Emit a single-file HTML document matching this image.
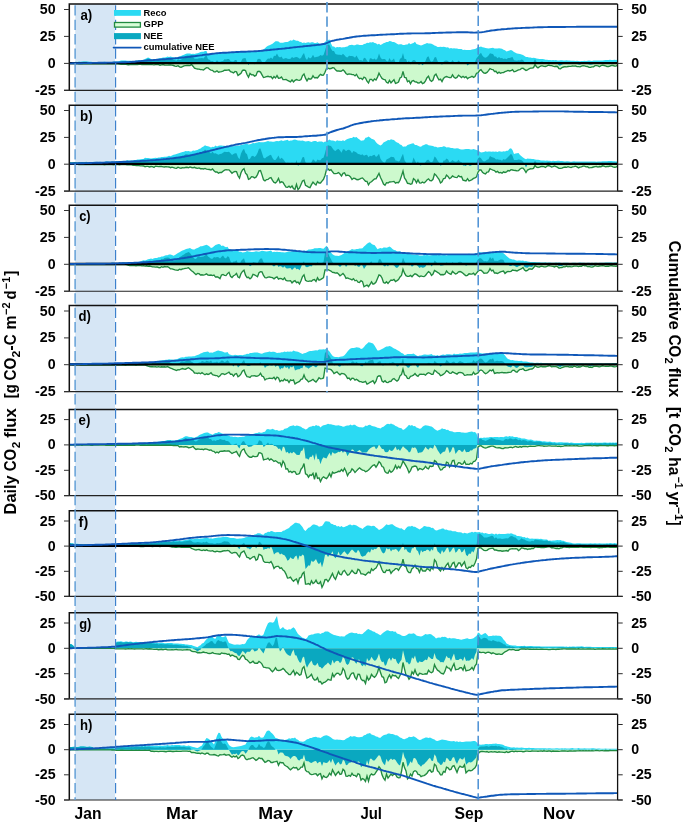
<!DOCTYPE html>
<html lang="en"><head><meta charset="utf-8"><title>Daily and cumulative CO2 flux</title>
<style>html,body{margin:0;padding:0;background:#fff}svg{display:block}</style></head>
<body>
<svg width="685" height="824" viewBox="0 0 685 824" font-family="'Liberation Sans', Arial, sans-serif" font-weight="bold">
<rect width="685" height="824" fill="#fff"/>
<rect x="75.2" y="4" width="39.8" height="796" fill="#d6e6f5"/>
<g>
<clipPath id="cpa"><rect x="69.3" y="4.0" width="548.3000000000001" height="86.4"/></clipPath>
<g clip-path="url(#cpa)">
<polygon points="70,63.4 70,62.1 71.5,62.1 73,62 74.5,61.9 76,61.7 77.5,62.1 79,61.6 80.5,61.7 82,61.6 83.5,61.6 85,61.4 86.5,61.4 88,61.6 89.5,61.8 91,61.7 92.5,62 94,61.9 95.5,61.9 97,61.9 98.5,61.9 100,62 101.5,62.1 103,61.9 104.5,61.8 106,62 107.5,62 109,61.9 110.5,61.9 112,61.9 113.5,61.7 115,61.6 116.5,61.5 118,61.5 119.5,61.1 121,60.5 122.5,60.4 124,60.5 125.5,60.5 127,60.7 128.5,60.8 130,60.8 131.5,60.7 133,60.9 134.5,60.9 136,60.6 137.5,60.4 139,60.3 140.5,60.2 142,60 143.5,59.8 145,59 146.5,58.3 148,57.5 149.5,58.1 151,59.1 152.5,59.4 154,59.4 155.5,58.9 157,58.9 158.5,58.6 160,58.3 161.5,58.1 163,57.6 164.5,57.5 166,57.3 167.5,56.5 169,57 170.5,56.5 172,57 173.5,57.6 175,57.6 176.5,57.7 178,57.1 179.5,56.4 181,55.9 182.5,55.3 184,54.8 185.5,54.1 187,53.5 188.5,53.4 190,53.6 191.5,53.9 193,53.7 194.5,54.1 196,53.6 197.5,53.2 199,52.7 200.5,52.1 202,51.7 203.5,51.7 205,51.1 206.5,51.1 208,54.8 209.5,53.9 211,54.7 212.5,54 214,53.6 215.5,53.4 217,52.9 218.5,52.8 220,53.3 221.5,52.9 223,53.2 224.5,52.5 226,52.8 227.5,52.4 229,52.6 230.5,52.6 232,52.5 233.5,52.1 235,51.9 236.5,51.5 238,52.1 239.5,51.7 241,51.8 242.5,51.8 244,51.7 245.5,51 247,51.4 248.5,51.4 250,51.8 251.5,51.7 253,51.5 254.5,51.5 256,51.5 257.5,51.1 259,50.9 260.5,50.6 262,50.5 263.5,49.4 265,48.2 266.5,46.7 268,45.7 269.5,45.3 271,44.4 272.5,43.8 274,42.6 275.5,41.3 277,41.3 278.5,41.6 280,42.8 281.5,42.8 283,42.8 284.5,42.2 286,42.1 287.5,41.9 289,41.2 290.5,40.3 292,40.7 293.5,39.5 295,40.3 296.5,40.7 298,40.7 299.5,41.7 301,42 302.5,43.1 304,42.4 305.5,43.1 307,42.4 308.5,42.2 310,42.7 311.5,42.2 313,42.3 314.5,43 316,42.9 317.5,42.3 319,43.5 320.5,44.1 322,43.9 323.5,43.4 325,41.9 326.5,40.5 328,39.9 329.5,39.6 331,43.6 332.5,46.5 334,46.6 335.5,47.7 337,46.9 338.5,47.3 340,46.9 341.5,47.6 343,47.3 344.5,47.3 346,46.8 347.5,46.5 349,45.2 350.5,45.1 352,44.8 353.5,45.3 355,45.2 356.5,44.4 358,44.5 359.5,45.1 361,45.1 362.5,45 364,44 365.5,43.7 367,42.8 368.5,42.9 370,42.3 371.5,42.6 373,42 374.5,43.1 376,43.3 377.5,44.6 379,43.7 380.5,44.9 382,44.2 383.5,43.2 385,42.8 386.5,42 388,42 389.5,41.1 391,41.2 392.5,42 394,42 395.5,42.7 397,43.7 398.5,44.5 400,44.3 401.5,44.2 403,45.1 404.5,44.9 406,44.6 407.5,44.5 409,43 410.5,44.2 412,43.5 413.5,43 415,41.8 416.5,43.9 418,44.6 419.5,45.1 421,45.4 422.5,44.9 424,44.2 425.5,43.7 427,42.9 428.5,43.5 430,43.6 431.5,43.7 433,44.6 434.5,45.5 436,46.1 437.5,47.1 439,46.9 440.5,46.8 442,46.9 443.5,46.7 445,47 446.5,47.5 448,47.3 449.5,48.6 451,48.1 452.5,48.6 454,48.2 455.5,48.6 457,48.6 458.5,48.9 460,49 461.5,49.1 463,50 464.5,49.7 466,49.9 467.5,50.1 469,50.1 470.5,50 472,49.5 473.5,49.3 475,48.9 476.5,48.2 478,47 479.5,47.1 481,46.5 482.5,47.3 484,47.6 485.5,48 487,48.2 488.5,48.4 490,48.2 491.5,48 493,47.8 494.5,48.5 496,48.6 497.5,48.4 499,48.3 500.5,48.5 502,48.7 503.5,49.8 505,50.3 506.5,51.5 508,51 509.5,50.4 511,50.1 512.5,50.8 514,52 515.5,52.7 517,53.4 518.5,53.7 520,54.1 521.5,54.5 523,55.1 524.5,55.9 526,56.9 527.5,56.9 529,57.6 530.5,57.4 532,57.9 533.5,57.7 535,58.1 536.5,58.4 538,58.7 539.5,59.1 541,59.1 542.5,59.1 544,59.3 545.5,59.7 547,59.8 548.5,60 550,60 551.5,60.2 553,60 554.5,60.3 556,60 557.5,60.4 559,60.4 560.5,60.2 562,60.3 563.5,60.4 565,60.5 566.5,60.3 568,60.6 569.5,60.5 571,60.7 572.5,60.8 574,60.8 575.5,61 577,60.7 578.5,61.1 580,61.3 581.5,61.1 583,60.9 584.5,60.7 586,61.1 587.5,60.8 589,60.5 590.5,60.8 592,61 593.5,60.6 595,60.6 596.5,60.4 598,60.5 599.5,60.6 601,60.6 602.5,60.5 604,60.2 605.5,60.1 607,60.1 608.5,60.1 610,59.7 611.5,60 613,60 614.5,59.7 616,59.9 617.5,59.7 617.5,63.4" fill="#2bdaf3"/>
<polygon points="70,63.4 70,63.6 71.5,63.6 73,63.6 74.5,63.6 76,63.6 77.5,63.6 79,63.7 80.5,63.6 82,63.7 83.5,63.7 85,63.7 86.5,63.7 88,63.8 89.5,63.7 91,63.8 92.5,63.7 94,63.8 95.5,63.7 97,63.8 98.5,63.8 100,63.8 101.5,63.8 103,63.7 104.5,63.7 106,63.9 107.5,63.9 109,63.8 110.5,63.8 112,63.8 113.5,63.8 115,63.9 116.5,63.8 118,63.8 119.5,64.2 121,64.4 122.5,64.1 124,64.4 125.5,64.2 127,64.6 128.5,64.7 130,64.6 131.5,64.5 133,64.4 134.5,64.5 136,64.5 137.5,64.5 139,64.4 140.5,64.4 142,64.5 143.5,64.6 145,64.5 146.5,64.5 148,64.3 149.5,64.5 151,64.4 152.5,64.7 154,64.8 155.5,64.7 157,64.6 158.5,64.6 160,65.2 161.5,64.8 163,64.5 164.5,65 166,65.1 167.5,65.1 169,65 170.5,65 172,65.1 173.5,65.5 175,66.1 176.5,66.4 178,65.7 179.5,66.9 181,67.3 182.5,66.6 184,65.8 185.5,65.6 187,65.4 188.5,65.5 190,65.6 191.5,64.5 193,66.2 194.5,68.1 196,68.7 197.5,69 199,69.1 200.5,69.6 202,69.7 203.5,70.1 205,68.7 206.5,67.6 208,67.8 209.5,69.3 211,70.1 212.5,70.3 214,71.9 215.5,71.9 217,70.8 218.5,72.2 220,71.9 221.5,71.7 223,71.1 224.5,70.1 226,70.2 227.5,70.1 229,69.8 230.5,71.7 232,72.2 233.5,72.9 235,71.4 236.5,71.9 238,75.5 239.5,74.4 241,73.3 242.5,70.4 244,70 245.5,70.5 247,74.5 248.5,77.2 250,73.4 251.5,74.8 253,74.6 254.5,76.1 256,75.5 257.5,71.5 259,71.3 260.5,72.1 262,74.8 263.5,77.5 265,77.2 266.5,76.6 268,76.3 269.5,76.9 271,76.6 272.5,78.6 274,76.6 275.5,78 277,75.6 278.5,78.2 280,78.1 281.5,77 283,79.6 284.5,79.6 286,79.4 287.5,80.3 289,81.1 290.5,81.9 292,79.8 293.5,81.9 295,80.3 296.5,79.6 298,80.1 299.5,80.3 301,79.5 302.5,75.5 304,74 305.5,78.2 307,80.9 308.5,78.4 310,79.2 311.5,78.6 313,75.8 314.5,77.8 316,77.5 317.5,77.9 319,76 320.5,74.4 322,75.2 323.5,75.1 325,72.2 326.5,68.5 328,68.1 329.5,68.7 331,68.5 332.5,67.8 334,67.9 335.5,69.8 337,71 338.5,70.9 340,71.2 341.5,71.1 343,69.8 344.5,71.3 346,73.5 347.5,74.5 349,73.9 350.5,74.2 352,74.5 353.5,74.6 355,75.9 356.5,74.3 358,77.2 359.5,78.7 361,78.2 362.5,79.5 364,77.2 365.5,77.9 367,81.2 368.5,82.9 370,79.3 371.5,79.3 373,80.9 374.5,78.9 376,80 377.5,77.1 379,73.2 380.5,76 382,78.4 383.5,79.3 385,79.6 386.5,82.3 388,83 389.5,80.3 391,82.8 392.5,81.3 394,79.8 395.5,83.4 397,83 398.5,82 400,77.9 401.5,77.1 403,71.3 404.5,77.4 406,77.7 407.5,81.7 409,80.7 410.5,83.7 412,81 413.5,80.5 415,81.9 416.5,82 418,83 419.5,82.9 421,81.6 422.5,83.7 424,82.9 425.5,80.8 427,77.7 428.5,76.2 430,80.1 431.5,81.4 433,80 434.5,75.5 436,74.2 437.5,77.4 439,79.8 440.5,79.1 442,81.6 443.5,78.4 445,77.1 446.5,76.5 448,77.2 449.5,77.5 451,77.6 452.5,74.9 454,77.2 455.5,78.3 457,77.4 458.5,75.1 460,76.2 461.5,77.5 463,76.3 464.5,77.6 466,76.7 467.5,78.7 469,77.5 470.5,77.1 472,76.3 473.5,77.4 475,76.5 476.5,73.3 478,72.9 479.5,70.6 481,69.7 482.5,71.9 484,73.1 485.5,73.2 487,72.4 488.5,70.6 490,68.5 491.5,69.3 493,69.6 494.5,71.5 496,71.3 497.5,73.3 499,72.1 500.5,73.3 502,72.6 503.5,72.6 505,71.6 506.5,71.1 508,70.4 509.5,71 511,70.7 512.5,69.6 514,71.7 515.5,71.3 517,70.6 518.5,69.9 520,69.7 521.5,68.4 523,68.3 524.5,69.4 526,70.4 527.5,69.8 529,68.8 530.5,68.2 532,68.1 533.5,67.6 535,64.6 536.5,66.7 538,67.8 539.5,66.7 541,65.9 542.5,65.9 544,66.4 545.5,66.5 547,65.9 548.5,65.1 550,65.5 551.5,65.7 553,66.2 554.5,66.6 556,66.3 557.5,66.5 559,68.7 560.5,68.8 562,67.5 563.5,67 565,66.7 566.5,66.8 568,66.5 569.5,66.4 571,66.3 572.5,65.9 574,66.1 575.5,65.9 577,66.6 578.5,66.7 580,66.8 581.5,66.1 583,65.6 584.5,65.9 586,66.3 587.5,66.5 589,67.3 590.5,67.3 592,66.8 593.5,66.8 595,65.6 596.5,65.7 598,65.8 599.5,66.7 601,65.7 602.5,65.2 604,65.5 605.5,65.9 607,66.5 608.5,66.5 610,66 611.5,65.4 613,65.5 614.5,66 616,66.1 617.5,65.2 617.5,63.4" fill="#cdf9cd"/>
<polygon points="70,63.4 70,62.3 71.5,62.3 73,62.2 74.5,62.1 76,61.9 77.5,62.3 79,61.9 80.5,61.9 82,61.9 83.5,61.8 85,61.7 86.5,61.7 88,61.9 89.5,62.1 91,62.1 92.5,62.3 94,62.3 95.5,62.2 97,62.3 98.5,62.3 100,62.3 101.5,62.4 103,62.2 104.5,62.2 106,62.4 107.5,62.5 109,62.3 110.5,62.3 112,62.3 113.5,62.1 115,62.1 116.5,61.9 118,61.9 119.5,61.9 121,61.6 122.5,61.1 124,61.6 125.5,61.3 127,61.8 128.5,62.1 130,61.9 131.5,61.8 133,61.9 134.5,62 136,61.7 137.5,61.5 139,61.4 140.5,61.2 142,61 143.5,61 145,60 146.5,59.4 148,58.3 149.5,59.2 151,60.1 152.5,60.7 154,60.8 155.5,60.2 157,60.1 158.5,59.8 160,60.1 161.5,59.5 163,58.7 164.5,59.1 166,59 167.5,58.2 169,58.6 170.5,58.1 172,58.7 173.5,59.7 175,60.2 176.5,60.7 178,59.3 179.5,59.9 181,59.8 182.5,58.5 184,57.1 185.5,56.3 187,55.4 188.5,55.5 190,55.8 191.5,55 193,56.5 194.5,58.8 196,58.8 197.5,58.7 199,58.3 200.5,58.3 202,58 203.5,58.4 205,56.5 206.5,55.3 208,59.2 209.5,59.8 211,61.3 212.5,60.9 214,62.1 215.5,61.9 217,60.2 218.5,61.7 220,61.7 221.5,61.2 223,61 224.5,59.2 226,59.6 227.5,59.1 229,59.1 230.5,60.9 232,61.4 233.5,61.6 235,59.9 236.5,60 238,64.2 239.5,62.8 241,61.7 242.5,58.7 244,58.3 245.5,58.1 247,62.5 248.5,65.2 250,61.8 251.5,63.1 253,62.7 254.5,64.2 256,63.6 257.5,59.2 259,58.8 260.5,59.3 262,61.9 263.5,63.6 265,61.9 266.5,59.9 268,58.6 269.5,58.8 271,57.6 272.5,59 274,55.8 275.5,55.9 277,53.5 278.5,56.4 280,57.5 281.5,56.5 283,59 284.5,58.4 286,58.1 287.5,58.8 289,58.9 290.5,58.8 292,57.1 293.5,58 295,57.2 296.5,56.9 298,57.5 299.5,58.7 301,58.1 302.5,55.1 304,53 305.5,57.9 307,59.9 308.5,57.1 310,58.5 311.5,57.4 313,54.7 314.5,57.4 316,56.9 317.5,56.8 319,56.2 320.5,55.1 322,55.7 323.5,55 325,50.7 326.5,45.6 328,44.5 329.5,44.9 331,48.7 332.5,50.9 334,51.1 335.5,54.1 337,54.5 338.5,54.8 340,54.7 341.5,55.3 343,53.7 344.5,55.2 346,56.9 347.5,57.6 349,55.8 350.5,55.9 352,55.9 353.5,56.4 355,57.7 356.5,55.4 358,58.3 359.5,60.5 361,59.9 362.5,61.1 364,57.8 365.5,58.2 367,60.7 368.5,62.4 370,58.2 371.5,58.6 373,59.4 374.5,58.6 376,59.9 377.5,58.3 379,53.5 380.5,57.5 382,59.3 383.5,59.1 385,59 386.5,60.9 388,61.6 389.5,58 391,60.7 392.5,60 394,58.4 395.5,62.7 397,63.2 398.5,63.2 400,58.8 401.5,58 403,53 404.5,58.9 406,58.9 407.5,62.8 409,60.3 410.5,64.4 412,61.1 413.5,60.1 415,60.3 416.5,62.5 418,64.2 419.5,64.6 421,63.6 422.5,65.3 424,63.7 425.5,61.1 427,57.2 428.5,56.3 430,60.3 431.5,61.8 433,61.1 434.5,57.6 436,56.9 437.5,61.1 439,63.4 440.5,62.5 442,65.1 443.5,61.7 445,60.7 446.5,60.6 448,61.1 449.5,62.7 451,62.3 452.5,60 454,62 455.5,63.5 457,62.5 458.5,60.6 460,61.8 461.5,63.2 463,62.9 464.5,63.9 466,63.2 467.5,65.4 469,64.2 470.5,63.7 472,62.5 473.5,63.3 475,62 476.5,58.2 478,56.5 479.5,54.3 481,52.8 482.5,55.8 484,57.3 485.5,57.8 487,57.1 488.5,55.6 490,53.2 491.5,53.8 493,54 494.5,56.6 496,56.5 497.5,58.2 499,57 500.5,58.3 502,57.9 503.5,59 505,58.5 506.5,59.2 508,57.9 509.5,58 511,57.4 512.5,57 514,60.2 515.5,60.6 517,60.7 518.5,60.2 520,60.4 521.5,59.5 523,60 524.5,61.9 526,63.9 527.5,63.3 529,63 530.5,62.2 532,62.6 533.5,61.9 535,59.3 536.5,61.7 538,63.1 539.5,62.4 541,61.6 542.5,61.6 544,62.3 545.5,62.8 547,62.4 548.5,61.7 550,62.1 551.5,62.5 553,62.8 554.5,63.5 556,62.9 557.5,63.6 559,65.7 560.5,65.6 562,64.4 563.5,64 565,63.8 566.5,63.6 568,63.7 569.5,63.5 571,63.6 572.5,63.3 574,63.5 575.5,63.5 577,63.9 578.5,64.4 580,64.7 581.5,63.8 583,63.1 584.5,63.2 586,64 587.5,63.8 589,64.4 590.5,64.7 592,64.4 593.5,64 595,62.8 596.5,62.7 598,62.9 599.5,63.8 601,62.9 602.5,62.3 604,62.3 605.5,62.7 607,63.1 608.5,63.2 610,62.3 611.5,62 613,62.1 614.5,62.2 616,62.5 617.5,61.5 617.5,63.4" fill="#0aa8c0"/>
<polyline points="70,63.6 71.5,63.6 73,63.6 74.5,63.6 76,63.6 77.5,63.6 79,63.7 80.5,63.6 82,63.7 83.5,63.7 85,63.7 86.5,63.7 88,63.8 89.5,63.7 91,63.8 92.5,63.7 94,63.8 95.5,63.7 97,63.8 98.5,63.8 100,63.8 101.5,63.8 103,63.7 104.5,63.7 106,63.9 107.5,63.9 109,63.8 110.5,63.8 112,63.8 113.5,63.8 115,63.9 116.5,63.8 118,63.8 119.5,64.2 121,64.4 122.5,64.1 124,64.4 125.5,64.2 127,64.6 128.5,64.7 130,64.6 131.5,64.5 133,64.4 134.5,64.5 136,64.5 137.5,64.5 139,64.4 140.5,64.4 142,64.5 143.5,64.6 145,64.5 146.5,64.5 148,64.3 149.5,64.5 151,64.4 152.5,64.7 154,64.8 155.5,64.7 157,64.6 158.5,64.6 160,65.2 161.5,64.8 163,64.5 164.5,65 166,65.1 167.5,65.1 169,65 170.5,65 172,65.1 173.5,65.5 175,66.1 176.5,66.4 178,65.7 179.5,66.9 181,67.3 182.5,66.6 184,65.8 185.5,65.6 187,65.4 188.5,65.5 190,65.6 191.5,64.5 193,66.2 194.5,68.1 196,68.7 197.5,69 199,69.1 200.5,69.6 202,69.7 203.5,70.1 205,68.7 206.5,67.6 208,67.8 209.5,69.3 211,70.1 212.5,70.3 214,71.9 215.5,71.9 217,70.8 218.5,72.2 220,71.9 221.5,71.7 223,71.1 224.5,70.1 226,70.2 227.5,70.1 229,69.8 230.5,71.7 232,72.2 233.5,72.9 235,71.4 236.5,71.9 238,75.5 239.5,74.4 241,73.3 242.5,70.4 244,70 245.5,70.5 247,74.5 248.5,77.2 250,73.4 251.5,74.8 253,74.6 254.5,76.1 256,75.5 257.5,71.5 259,71.3 260.5,72.1 262,74.8 263.5,77.5 265,77.2 266.5,76.6 268,76.3 269.5,76.9 271,76.6 272.5,78.6 274,76.6 275.5,78 277,75.6 278.5,78.2 280,78.1 281.5,77 283,79.6 284.5,79.6 286,79.4 287.5,80.3 289,81.1 290.5,81.9 292,79.8 293.5,81.9 295,80.3 296.5,79.6 298,80.1 299.5,80.3 301,79.5 302.5,75.5 304,74 305.5,78.2 307,80.9 308.5,78.4 310,79.2 311.5,78.6 313,75.8 314.5,77.8 316,77.5 317.5,77.9 319,76 320.5,74.4 322,75.2 323.5,75.1 325,72.2 326.5,68.5 328,68.1 329.5,68.7 331,68.5 332.5,67.8 334,67.9 335.5,69.8 337,71 338.5,70.9 340,71.2 341.5,71.1 343,69.8 344.5,71.3 346,73.5 347.5,74.5 349,73.9 350.5,74.2 352,74.5 353.5,74.6 355,75.9 356.5,74.3 358,77.2 359.5,78.7 361,78.2 362.5,79.5 364,77.2 365.5,77.9 367,81.2 368.5,82.9 370,79.3 371.5,79.3 373,80.9 374.5,78.9 376,80 377.5,77.1 379,73.2 380.5,76 382,78.4 383.5,79.3 385,79.6 386.5,82.3 388,83 389.5,80.3 391,82.8 392.5,81.3 394,79.8 395.5,83.4 397,83 398.5,82 400,77.9 401.5,77.1 403,71.3 404.5,77.4 406,77.7 407.5,81.7 409,80.7 410.5,83.7 412,81 413.5,80.5 415,81.9 416.5,82 418,83 419.5,82.9 421,81.6 422.5,83.7 424,82.9 425.5,80.8 427,77.7 428.5,76.2 430,80.1 431.5,81.4 433,80 434.5,75.5 436,74.2 437.5,77.4 439,79.8 440.5,79.1 442,81.6 443.5,78.4 445,77.1 446.5,76.5 448,77.2 449.5,77.5 451,77.6 452.5,74.9 454,77.2 455.5,78.3 457,77.4 458.5,75.1 460,76.2 461.5,77.5 463,76.3 464.5,77.6 466,76.7 467.5,78.7 469,77.5 470.5,77.1 472,76.3 473.5,77.4 475,76.5 476.5,73.3 478,72.9 479.5,70.6 481,69.7 482.5,71.9 484,73.1 485.5,73.2 487,72.4 488.5,70.6 490,68.5 491.5,69.3 493,69.6 494.5,71.5 496,71.3 497.5,73.3 499,72.1 500.5,73.3 502,72.6 503.5,72.6 505,71.6 506.5,71.1 508,70.4 509.5,71 511,70.7 512.5,69.6 514,71.7 515.5,71.3 517,70.6 518.5,69.9 520,69.7 521.5,68.4 523,68.3 524.5,69.4 526,70.4 527.5,69.8 529,68.8 530.5,68.2 532,68.1 533.5,67.6 535,64.6 536.5,66.7 538,67.8 539.5,66.7 541,65.9 542.5,65.9 544,66.4 545.5,66.5 547,65.9 548.5,65.1 550,65.5 551.5,65.7 553,66.2 554.5,66.6 556,66.3 557.5,66.5 559,68.7 560.5,68.8 562,67.5 563.5,67 565,66.7 566.5,66.8 568,66.5 569.5,66.4 571,66.3 572.5,65.9 574,66.1 575.5,65.9 577,66.6 578.5,66.7 580,66.8 581.5,66.1 583,65.6 584.5,65.9 586,66.3 587.5,66.5 589,67.3 590.5,67.3 592,66.8 593.5,66.8 595,65.6 596.5,65.7 598,65.8 599.5,66.7 601,65.7 602.5,65.2 604,65.5 605.5,65.9 607,66.5 608.5,66.5 610,66 611.5,65.4 613,65.5 614.5,66 616,66.1 617.5,65.2" fill="none" stroke="#218a40" stroke-width="1.35" stroke-linejoin="miter"/>
<line x1="69.3" x2="617.6" y1="63.1" y2="63.1" stroke="#000" stroke-width="2.3"/>
<polyline points="70,63.4 71.5,63.4 73,63.3 74.5,63.3 76,63.3 77.5,63.2 79,63.2 80.5,63.2 82,63.2 83.5,63.1 85,63.1 86.5,63.1 88,63 89.5,63 91,63 92.5,62.9 94,62.9 95.5,62.9 97,62.9 98.5,62.8 100,62.8 101.5,62.8 103,62.7 104.5,62.7 106,62.7 107.5,62.6 109,62.6 110.5,62.6 112,62.6 113.5,62.5 115,62.5 116.5,62.5 118,62.4 119.5,62.4 121,62.4 122.5,62.4 124,62.3 125.5,62.2 127,62.1 128.5,62.1 130,62 131.5,61.9 133,61.8 134.5,61.7 136,61.5 137.5,61.4 139,61.2 140.5,61.1 142,60.9 143.5,60.8 145,60.6 146.5,60.5 148,60.4 149.5,60.3 151,60.2 152.5,60.1 154,60 155.5,59.9 157,59.8 158.5,59.7 160,59.5 161.5,59.4 163,59.3 164.5,59.2 166,59.1 167.5,58.9 169,58.8 170.5,58.7 172,58.6 173.5,58.4 175,58.3 176.5,58.1 178,58 179.5,57.8 181,57.7 182.5,57.5 184,57.4 185.5,57.2 187,57.1 188.5,56.9 190,56.7 191.5,56.5 193,56.3 194.5,56.2 196,56 197.5,55.8 199,55.6 200.5,55.4 202,55.2 203.5,54.9 205,54.7 206.5,54.5 208,54.5 209.5,54.2 211,54 212.5,53.8 214,53.6 215.5,53.4 217,53.2 218.5,53.1 220,53 221.5,52.9 223,52.8 224.5,52.8 226,52.7 227.5,52.6 229,52.5 230.5,52.4 232,52.3 233.5,52.2 235,52.1 236.5,52 238,52 239.5,51.9 241,51.8 242.5,51.8 244,51.7 245.5,51.7 247,51.6 248.5,51.5 250,51.5 251.5,51.4 253,51.4 254.5,51.3 256,51.2 257.5,51.1 259,51 260.5,50.9 262,50.7 263.5,50.5 265,50.4 266.5,50.2 268,50.1 269.5,50 271,49.8 272.5,49.6 274,49.5 275.5,49.4 277,49.2 278.5,49 280,48.9 281.5,48.8 283,48.6 284.5,48.5 286,48.3 287.5,48.1 289,48 290.5,47.8 292,47.6 293.5,47.4 295,47.2 296.5,47.1 298,46.9 299.5,46.8 301,46.6 302.5,46.5 304,46.3 305.5,46.1 307,46 308.5,45.9 310,45.7 311.5,45.5 313,45.4 314.5,45.2 316,45.1 317.5,44.9 319,44.7 320.5,44.5 322,44.2 323.5,44 325,43.8 326.5,43.1 328,42.5 329.5,41.8 331,41.2 332.5,40.8 334,40.5 335.5,40.1 337,39.8 338.5,39.6 340,39.3 341.5,39.1 343,38.9 344.5,38.6 346,38.3 347.5,38 349,37.8 350.5,37.5 352,37.2 353.5,36.9 355,36.7 356.5,36.5 358,36.4 359.5,36.2 361,36.1 362.5,35.9 364,35.8 365.5,35.7 367,35.6 368.5,35.5 370,35.4 371.5,35.3 373,35.3 374.5,35.2 376,35.1 377.5,35 379,34.9 380.5,34.8 382,34.7 383.5,34.6 385,34.6 386.5,34.5 388,34.4 389.5,34.4 391,34.3 392.5,34.3 394,34.2 395.5,34.1 397,34 398.5,33.9 400,33.8 401.5,33.8 403,33.7 404.5,33.6 406,33.6 407.5,33.5 409,33.5 410.5,33.5 412,33.4 413.5,33.4 415,33.4 416.5,33.4 418,33.4 419.5,33.4 421,33.4 422.5,33.4 424,33.4 425.5,33.3 427,33.3 428.5,33.2 430,33.2 431.5,33.1 433,33 434.5,33 436,32.9 437.5,32.9 439,32.8 440.5,32.7 442,32.7 443.5,32.6 445,32.6 446.5,32.5 448,32.5 449.5,32.5 451,32.5 452.5,32.4 454,32.4 455.5,32.4 457,32.3 458.5,32.3 460,32.3 461.5,32.2 463,32.2 464.5,32.2 466,32.3 467.5,32.3 469,32.4 470.5,32.5 472,32.5 473.5,32.6 475,32.6 476.5,32.5 478,32.5 479.5,32.4 481,32.4 482.5,32.1 484,31.9 485.5,31.6 487,31.3 488.5,31.1 490,30.8 491.5,30.5 493,30.4 494.5,30.2 496,30 497.5,29.8 499,29.6 500.5,29.5 502,29.3 503.5,29.2 505,29.1 506.5,29 508,28.8 509.5,28.7 511,28.6 512.5,28.5 514,28.4 515.5,28.3 517,28.2 518.5,28.1 520,28.1 521.5,28 523,27.9 524.5,27.9 526,27.8 527.5,27.7 529,27.7 530.5,27.6 532,27.6 533.5,27.5 535,27.4 536.5,27.4 538,27.3 539.5,27.3 541,27.2 542.5,27.2 544,27.1 545.5,27.1 547,27.1 548.5,27 550,27 551.5,27 553,27 554.5,27 556,27 557.5,27 559,27 560.5,27 562,27 563.5,27 565,27 566.5,26.9 568,26.9 569.5,26.9 571,26.9 572.5,26.9 574,26.9 575.5,26.9 577,26.8 578.5,26.8 580,26.8 581.5,26.8 583,26.8 584.5,26.8 586,26.8 587.5,26.8 589,26.8 590.5,26.8 592,26.8 593.5,26.8 595,26.8 596.5,26.8 598,26.8 599.5,26.8 601,26.8 602.5,26.8 604,26.8 605.5,26.8 607,26.8 608.5,26.8 610,26.8 611.5,26.8 613,26.8 614.5,26.8 616,26.8 617.5,26.8" fill="none" stroke="#0f57b8" stroke-width="1.9" stroke-linejoin="round" stroke-linecap="round"/>
</g>
<path d="M69.3 90.4V4.0H617.6" fill="none" stroke="#111" stroke-width="1.5" stroke-linejoin="miter"/>
<path d="M617.6 4.0V90.4" fill="none" stroke="#111" stroke-width="1.3"/>
<path d="M64 90.4H622.7" fill="none" stroke="#222" stroke-width="1.15"/>
<line x1="64" x2="69.3" y1="9.5" y2="9.5" stroke="#333" stroke-width="1"/>
<line x1="617.6" x2="622.7" y1="9.5" y2="9.5" stroke="#2a2a2a" stroke-width="1"/>
<text x="55.6" y="14" font-size="14.2" text-anchor="end">50</text>
<text x="631.2" y="14" font-size="14.2">50</text>
<line x1="64" x2="69.3" y1="36.4" y2="36.4" stroke="#333" stroke-width="1"/>
<line x1="617.6" x2="622.7" y1="36.4" y2="36.4" stroke="#2a2a2a" stroke-width="1"/>
<text x="55.6" y="40.9" font-size="14.2" text-anchor="end">25</text>
<text x="631.2" y="40.9" font-size="14.2">25</text>
<line x1="64" x2="69.3" y1="63.4" y2="63.4" stroke="#333" stroke-width="1"/>
<line x1="617.6" x2="622.7" y1="63.4" y2="63.4" stroke="#2a2a2a" stroke-width="1"/>
<text x="55.6" y="67.9" font-size="14.2" text-anchor="end">0</text>
<text x="631.2" y="67.9" font-size="14.2">0</text>
<line x1="64" x2="69.3" y1="90.3" y2="90.3" stroke="#333" stroke-width="1"/>
<line x1="617.6" x2="622.7" y1="90.3" y2="90.3" stroke="#2a2a2a" stroke-width="1"/>
<text x="55.6" y="94.8" font-size="14.2" text-anchor="end">-25</text>
<text x="631.2" y="94.8" font-size="14.2">-25</text>
<text x="80.4" y="20" font-size="14" textLength="11.8" lengthAdjust="spacingAndGlyphs">a)</text>
</g>
<g>
<clipPath id="cpb"><rect x="69.3" y="105.3" width="548.3000000000001" height="85.8"/></clipPath>
<g clip-path="url(#cpb)">
<polygon points="70,164.2 70,162.3 71.5,162.2 73,162.4 74.5,162.1 76,162.2 77.5,162.5 79,162.2 80.5,162.3 82,162 83.5,162.2 85,162 86.5,161.8 88,162.3 89.5,162.1 91,162.1 92.5,162 94,161.8 95.5,161.9 97,161.8 98.5,161.9 100,161.8 101.5,161.9 103,161.9 104.5,161.8 106,161.5 107.5,161.4 109,161.6 110.5,161.7 112,161.6 113.5,161.7 115,161.7 116.5,161.1 118,161.2 119.5,161.1 121,160.9 122.5,160.7 124,161.1 125.5,161.1 127,160.3 128.5,160.6 130,160.6 131.5,160.5 133,160.4 134.5,160 136,159.9 137.5,159.5 139,159.5 140.5,159.2 142,159 143.5,159 145,157.8 146.5,158 148,157.9 149.5,158.2 151,158.5 152.5,158.3 154,158 155.5,157.8 157,158 158.5,157.5 160,157.4 161.5,157 163,157.1 164.5,156.8 166,156.8 167.5,156.4 169,155.8 170.5,156.3 172,155.6 173.5,154.7 175,154.4 176.5,154.1 178,153.6 179.5,153 181,152.6 182.5,152 184,151.7 185.5,151 187,151.2 188.5,150.9 190,151.6 191.5,151.5 193,150.5 194.5,150.8 196,150.3 197.5,149.9 199,149 200.5,148.5 202,147.3 203.5,146.5 205,145.3 206.5,145.9 208,146.3 209.5,146.7 211,147.5 212.5,146.8 214,147 215.5,145.4 217,146.4 218.5,145.8 220,145.6 221.5,145.5 223,145.8 224.5,145.8 226,146.5 227.5,146.4 229,146.2 230.5,145.9 232,146.2 233.5,146.2 235,146.1 236.5,145.9 238,145.6 239.5,145.4 241,145.1 242.5,144.7 244,144.3 245.5,144.1 247,143.7 248.5,144.5 250,144.2 251.5,143.8 253,143 254.5,143.2 256,142.8 257.5,142.4 259,142.1 260.5,142.2 262,142.3 263.5,142.2 265,141.9 266.5,141.5 268,141.1 269.5,141.4 271,141.4 272.5,141.8 274,141.7 275.5,141.3 277,140.9 278.5,141.2 280,140.8 281.5,140.3 283,141 284.5,140.6 286,140.2 287.5,139.7 289,141.1 290.5,140.5 292,140.6 293.5,139.8 295,139.6 296.5,140 298,140.6 299.5,140.4 301,140.8 302.5,140.6 304,140.9 305.5,141.5 307,141.2 308.5,141 310,141.4 311.5,141.9 313,141.3 314.5,141.1 316,141.1 317.5,142.1 319,141.4 320.5,141.4 322,141.4 323.5,142.6 325,141.6 326.5,141.8 328,140.5 329.5,139.5 331,140.6 332.5,140.6 334,140.8 335.5,141.4 337,140.3 338.5,140.8 340,140.7 341.5,141.1 343,140.2 344.5,141 346,139.8 347.5,138.9 349,138.4 350.5,138.1 352,137.9 353.5,136.8 355,137.4 356.5,137.1 358,138.6 359.5,139.4 361,140.7 362.5,140.5 364,140.3 365.5,137.8 367,137.6 368.5,136.6 370,137.4 371.5,138.7 373,139.2 374.5,140 376,142.3 377.5,143.8 379,144.7 380.5,145.5 382,144.6 383.5,142.4 385,141.7 386.5,141.1 388,139.9 389.5,140.2 391,139.2 392.5,139.7 394,140 395.5,141.4 397,142.5 398.5,143.1 400,144.4 401.5,145.1 403,146.7 404.5,146.5 406,146.6 407.5,144.9 409,144.4 410.5,144.1 412,143.5 413.5,143.2 415,144.9 416.5,145.1 418,145.7 419.5,146.4 421,146.7 422.5,145.5 424,145.1 425.5,144.3 427,144.2 428.5,145.2 430,145.4 431.5,145.8 433,146.1 434.5,146.7 436,146.8 437.5,147.5 439,147.3 440.5,147.1 442,147.1 443.5,146.2 445,146.5 446.5,147.5 448,147.2 449.5,147.6 451,147.9 452.5,148.1 454,148.6 455.5,148.5 457,148.2 458.5,148.4 460,149.2 461.5,149.6 463,149.5 464.5,149.2 466,149.1 467.5,149.1 469,148.9 470.5,149.6 472,149.5 473.5,148.9 475,149.6 476.5,150.1 478,150.5 479.5,151.5 481,152.4 482.5,152.3 484,152.1 485.5,151.3 487,151.8 488.5,151.6 490,151.6 491.5,151.8 493,151.6 494.5,151.7 496,151.5 497.5,152 499,151.2 500.5,151.4 502,151.7 503.5,151.2 505,151.4 506.5,150.7 508,150.8 509.5,148.8 511,148.2 512.5,150 514,153.9 515.5,153.6 517,153.2 518.5,153.1 520,155 521.5,156.3 523,157.6 524.5,158.5 526,159.2 527.5,158.6 529,158.8 530.5,158.7 532,158.9 533.5,159.1 535,159.4 536.5,159.8 538,159.8 539.5,160 541,160.4 542.5,160.4 544,160.5 545.5,160.8 547,160.6 548.5,160.7 550,160.7 551.5,161.2 553,160.8 554.5,160.9 556,161 557.5,160.8 559,160.8 560.5,161 562,161 563.5,161.2 565,161.4 566.5,161.3 568,161.3 569.5,161.5 571,161.7 572.5,161.5 574,161.3 575.5,161.5 577,161.5 578.5,161.6 580,161.5 581.5,161.5 583,161.4 584.5,161.5 586,161.4 587.5,161.6 589,161.6 590.5,161.6 592,161.6 593.5,161.5 595,161.5 596.5,161.7 598,161.5 599.5,161.4 601,161.6 602.5,161.2 604,161.3 605.5,161.2 607,161.2 608.5,161.1 610,161 611.5,160.9 613,161.2 614.5,161.2 616,161.6 617.5,161.3 617.5,164.2" fill="#2bdaf3"/>
<polygon points="70,164.2 70,164.4 71.5,164.4 73,164.4 74.5,164.4 76,164.4 77.5,164.4 79,164.5 80.5,164.5 82,164.5 83.5,164.5 85,164.5 86.5,164.4 88,164.6 89.5,164.5 91,164.5 92.5,164.4 94,164.5 95.5,164.6 97,164.6 98.5,164.5 100,164.5 101.5,164.6 103,164.6 104.5,164.7 106,164.5 107.5,164.5 109,164.6 110.5,164.5 112,164.6 113.5,164.7 115,164.6 116.5,164.5 118,164.5 119.5,164.7 121,164.5 122.5,164.6 124,164.6 125.5,164.6 127,164.7 128.5,164.7 130,164.6 131.5,164.9 133,165.2 134.5,165.2 136,165.6 137.5,165.6 139,165.6 140.5,165.9 142,165.9 143.5,166 145,166.7 146.5,166.3 148,166.3 149.5,167 151,166.5 152.5,166.7 154,167.4 155.5,166.1 157,166.3 158.5,166.6 160,166.5 161.5,166.4 163,166.9 164.5,167 166,166.7 167.5,166.8 169,167 170.5,167.7 172,167.2 173.5,167.6 175,168.1 176.5,168.3 178,167.2 179.5,167.8 181,168.2 182.5,167.7 184,167.9 185.5,167.5 187,167.3 188.5,167.8 190,166.9 191.5,167.5 193,167.8 194.5,167.3 196,168 197.5,168.4 199,167.9 200.5,168.7 202,168.7 203.5,169 205,168.4 206.5,169.1 208,169.3 209.5,169.5 211,170.1 212.5,169 214,170.8 215.5,172 217,171.9 218.5,173.2 220,172.4 221.5,172.5 223,171.2 224.5,170.1 226,169.6 227.5,169.9 229,169.9 230.5,171.5 232,173.2 233.5,172 235,171.4 236.5,171.6 238,175.8 239.5,178.1 241,172.7 242.5,169.9 244,168.6 245.5,173.2 247,174.7 248.5,179.3 250,178.7 251.5,176.7 253,176.9 254.5,177.9 256,177.2 257.5,174.6 259,170.8 260.5,170.5 262,174.9 263.5,179.8 265,180.9 266.5,179.6 268,179.4 269.5,178.1 271,177.6 272.5,180.3 274,182.5 275.5,183 277,181.4 278.5,178.4 280,182.7 281.5,181.8 283,182.3 284.5,184.8 286,187.1 287.5,187.3 289,186.2 290.5,187.6 292,186 293.5,188.7 295,189.3 296.5,184.3 298,189.6 299.5,188 301,184.4 302.5,180.9 304,180.2 305.5,185.3 307,186.2 308.5,187.1 310,187.6 311.5,184.6 313,182.1 314.5,183.7 316,185 317.5,181.6 319,183 320.5,183 322,181.1 323.5,179.3 325,175.5 326.5,169.5 328,168.9 329.5,170.4 331,169.7 332.5,171.8 334,173.6 335.5,173.6 337,173.3 338.5,172.6 340,174 341.5,176 343,173.3 344.5,172.8 346,175.6 347.5,175.2 349,175.6 350.5,176.9 352,179.5 353.5,178.2 355,178.5 356.5,179.5 358,179.7 359.5,179.1 361,178.3 362.5,177.9 364,179.6 365.5,181.3 367,181.4 368.5,184.9 370,182.5 371.5,181.8 373,180.2 374.5,178.9 376,178.9 377.5,176.1 379,173.3 380.5,177.5 382,180.5 383.5,184.1 385,185.3 386.5,182.7 388,183 389.5,182 391,181.8 392.5,181.7 394,181.4 395.5,183.2 397,182.5 398.5,182.7 400,180.3 401.5,175.9 403,171.2 404.5,178 406,180.2 407.5,183.4 409,183.5 410.5,184.3 412,183.7 413.5,178.6 415,179.9 416.5,182.7 418,179.7 419.5,182.8 421,183.1 422.5,182 424,183 425.5,181.8 427,179.9 428.5,178.8 430,180.6 431.5,180.7 433,179.3 434.5,174 436,175.2 437.5,177.3 439,179.3 440.5,183 442,181.8 443.5,178.5 445,178.3 446.5,175.1 448,176.4 449.5,178.7 451,177.8 452.5,176 454,176.9 455.5,177.4 457,177.6 458.5,175.6 460,176.8 461.5,176.5 463,180.1 464.5,180.5 466,181 467.5,178.7 469,180.9 470.5,180.3 472,179.6 473.5,178.4 475,178 476.5,176.9 478,172.2 479.5,170 481,170 482.5,172.3 484,173.5 485.5,174 487,172.1 488.5,171.9 490,168.7 491.5,169.5 493,170.2 494.5,170.6 496,172.2 497.5,171.4 499,172.8 500.5,172.5 502,173.2 503.5,171.9 505,172.5 506.5,172 508,170.5 509.5,171 511,169.7 512.5,170 514,170.4 515.5,170.5 517,170.9 518.5,170.7 520,169 521.5,168.2 523,168.1 524.5,169.9 526,172.5 527.5,170 529,169.4 530.5,168.8 532,168.9 533.5,168.4 535,165.5 536.5,167.1 538,167.5 539.5,167.1 541,166.5 542.5,166.5 544,166.7 545.5,167.5 547,166.1 548.5,165.5 550,166 551.5,167 553,166.7 554.5,166 556,166.5 557.5,167.4 559,168.3 560.5,168.3 562,168.2 563.5,167.3 565,167 566.5,167.4 568,166.7 569.5,167.2 571,167.6 572.5,166.9 574,166.6 575.5,166.2 577,166.9 578.5,167.9 580,167.1 581.5,166.9 583,166.1 584.5,166.2 586,166.8 587.5,166.7 589,167.8 590.5,167.7 592,167.5 593.5,167 595,166.6 596.5,166.5 598,167.1 599.5,166.5 601,166.7 602.5,165.8 604,166.2 605.5,166.9 607,166.5 608.5,166.5 610,166 611.5,166.2 613,166.9 614.5,167.2 616,167.1 617.5,166.2 617.5,164.2" fill="#cdf9cd"/>
<polygon points="70,164.2 70,162.5 71.5,162.4 73,162.6 74.5,162.3 76,162.4 77.5,162.7 79,162.4 80.5,162.6 82,162.3 83.5,162.5 85,162.4 86.5,162.1 88,162.7 89.5,162.4 91,162.4 92.5,162.2 94,162.1 95.5,162.2 97,162.1 98.5,162.2 100,162.2 101.5,162.3 103,162.3 104.5,162.3 106,161.8 107.5,161.7 109,162 110.5,162 112,162 113.5,162.1 115,162.1 116.5,161.5 118,161.6 119.5,161.5 121,161.2 122.5,161.2 124,161.5 125.5,161.5 127,160.8 128.5,161.1 130,161 131.5,161.2 133,161.4 134.5,161 136,161.3 137.5,160.9 139,160.9 140.5,160.9 142,160.7 143.5,160.8 145,160.3 146.5,160.1 148,160 149.5,160.9 151,160.9 152.5,160.8 154,161.2 155.5,159.8 157,160.1 158.5,159.9 160,159.7 161.5,159.2 163,159.8 164.5,159.6 166,159.2 167.5,159 169,158.6 170.5,159.8 172,158.6 173.5,158.1 175,158.3 176.5,158.2 178,156.6 179.5,156.6 181,156.6 182.5,155.5 184,155.4 185.5,154.3 187,154.3 188.5,154.4 190,154.3 191.5,154.8 193,154.1 194.5,153.9 196,154.1 197.5,154.1 199,152.7 200.5,152.9 202,151.7 203.5,151.3 205,149.5 206.5,150.8 208,151.4 209.5,152 211,153.4 212.5,151.6 214,153.6 215.5,153.2 217,154.1 218.5,154.8 220,153.9 221.5,153.8 223,152.8 224.5,151.7 226,152 227.5,152.1 229,151.8 230.5,153.2 232,155.1 233.5,154 235,153.3 236.5,153.3 238,157.2 239.5,159.3 241,153.6 242.5,150.4 244,148.7 245.5,153.1 247,154.2 248.5,159.6 250,158.7 251.5,156.3 253,155.7 254.5,156.9 256,155.8 257.5,152.9 259,148.7 260.5,148.5 262,153 263.5,157.8 265,158.6 266.5,156.9 268,156.3 269.5,155.3 271,154.8 272.5,157.9 274,160 275.5,160.1 277,158.1 278.5,155.4 280,159.3 281.5,157.8 283,159.1 284.5,161.1 286,163.2 287.5,162.8 289,163.1 290.5,163.9 292,162.4 293.5,164.3 295,164.7 296.5,160.1 298,166 299.5,164.2 301,161 302.5,157.3 304,156.9 305.5,162.6 307,163.2 308.5,163.9 310,164.8 311.5,162.3 313,159.2 314.5,160.6 316,161.9 317.5,159.6 319,160.3 320.5,160.2 322,158.3 323.5,157.7 325,152.9 326.5,147.1 328,145.3 329.5,145.7 331,146.1 332.5,148.2 334,150.2 335.5,150.9 337,149.4 338.5,149.1 340,150.6 341.5,152.8 343,149.3 344.5,149.6 346,151.2 347.5,149.9 349,149.8 350.5,150.8 352,153.2 353.5,150.9 355,151.7 356.5,152.4 358,154.1 359.5,154.2 361,154.9 362.5,154.2 364,155.7 365.5,154.9 367,154.7 368.5,157.2 370,155.7 371.5,156.2 373,155.2 374.5,154.7 376,157 377.5,155.7 379,153.8 380.5,158.8 382,160.9 383.5,162.2 385,162.8 386.5,159.6 388,158.8 389.5,158 391,156.8 392.5,157.1 394,157.3 395.5,160.5 397,160.8 398.5,161.6 400,160.5 401.5,156.8 403,153.7 404.5,160.3 406,162.6 407.5,164.1 409,163.7 410.5,164.2 412,163 413.5,157.6 415,160.6 416.5,163.6 418,161.2 419.5,165 421,165.6 422.5,163.3 424,163.8 425.5,161.9 427,159.9 428.5,159.8 430,161.8 431.5,162.3 433,161.2 434.5,156.5 436,157.8 437.5,160.6 439,162.4 440.5,165.8 442,164.7 443.5,160.5 445,160.6 446.5,158.4 448,159.4 449.5,162.2 451,161.5 452.5,159.9 454,161.3 455.5,161.7 457,161.6 458.5,159.8 460,161.8 461.5,161.9 463,165.4 464.5,165.5 466,165.9 467.5,163.6 469,165.6 470.5,165.7 472,164.9 473.5,163.1 475,163.4 476.5,162.8 478,158.5 479.5,157.3 481,158.2 482.5,160.4 484,161.5 485.5,161.1 487,159.7 488.5,159.3 490,156 491.5,157.1 493,157.6 494.5,158.1 496,159.4 497.5,159.3 499,159.8 500.5,159.7 502,160.7 503.5,158.9 505,159.7 506.5,158.5 508,157.1 509.5,155.6 511,153.7 512.5,155.8 514,160.1 515.5,159.9 517,159.9 518.5,159.6 520,159.8 521.5,160.3 523,161.5 524.5,164.3 526,167.5 527.5,164.4 529,164.1 530.5,163.3 532,163.6 533.5,163.3 535,160.7 536.5,162.7 538,163.1 539.5,162.9 541,162.7 542.5,162.6 544,163 545.5,164.1 547,162.5 548.5,161.9 550,162.5 551.5,164 553,163.3 554.5,162.6 556,163.3 557.5,164 559,164.9 560.5,165.1 562,165 563.5,164.3 565,164.2 566.5,164.6 568,163.7 569.5,164.5 571,165.1 572.5,164.2 574,163.7 575.5,163.5 577,164.2 578.5,165.3 580,164.4 581.5,164.2 583,163.3 584.5,163.5 586,164 587.5,164.1 589,165.2 590.5,165.1 592,164.8 593.5,164.4 595,163.8 596.5,164 598,164.4 599.5,163.7 601,164.1 602.5,162.8 604,163.3 605.5,163.9 607,163.5 608.5,163.4 610,162.8 611.5,162.9 613,163.9 614.5,164.2 616,164.5 617.5,163.3 617.5,164.2" fill="#0aa8c0"/>
<polyline points="70,164.4 71.5,164.4 73,164.4 74.5,164.4 76,164.4 77.5,164.4 79,164.5 80.5,164.5 82,164.5 83.5,164.5 85,164.5 86.5,164.4 88,164.6 89.5,164.5 91,164.5 92.5,164.4 94,164.5 95.5,164.6 97,164.6 98.5,164.5 100,164.5 101.5,164.6 103,164.6 104.5,164.7 106,164.5 107.5,164.5 109,164.6 110.5,164.5 112,164.6 113.5,164.7 115,164.6 116.5,164.5 118,164.5 119.5,164.7 121,164.5 122.5,164.6 124,164.6 125.5,164.6 127,164.7 128.5,164.7 130,164.6 131.5,164.9 133,165.2 134.5,165.2 136,165.6 137.5,165.6 139,165.6 140.5,165.9 142,165.9 143.5,166 145,166.7 146.5,166.3 148,166.3 149.5,167 151,166.5 152.5,166.7 154,167.4 155.5,166.1 157,166.3 158.5,166.6 160,166.5 161.5,166.4 163,166.9 164.5,167 166,166.7 167.5,166.8 169,167 170.5,167.7 172,167.2 173.5,167.6 175,168.1 176.5,168.3 178,167.2 179.5,167.8 181,168.2 182.5,167.7 184,167.9 185.5,167.5 187,167.3 188.5,167.8 190,166.9 191.5,167.5 193,167.8 194.5,167.3 196,168 197.5,168.4 199,167.9 200.5,168.7 202,168.7 203.5,169 205,168.4 206.5,169.1 208,169.3 209.5,169.5 211,170.1 212.5,169 214,170.8 215.5,172 217,171.9 218.5,173.2 220,172.4 221.5,172.5 223,171.2 224.5,170.1 226,169.6 227.5,169.9 229,169.9 230.5,171.5 232,173.2 233.5,172 235,171.4 236.5,171.6 238,175.8 239.5,178.1 241,172.7 242.5,169.9 244,168.6 245.5,173.2 247,174.7 248.5,179.3 250,178.7 251.5,176.7 253,176.9 254.5,177.9 256,177.2 257.5,174.6 259,170.8 260.5,170.5 262,174.9 263.5,179.8 265,180.9 266.5,179.6 268,179.4 269.5,178.1 271,177.6 272.5,180.3 274,182.5 275.5,183 277,181.4 278.5,178.4 280,182.7 281.5,181.8 283,182.3 284.5,184.8 286,187.1 287.5,187.3 289,186.2 290.5,187.6 292,186 293.5,188.7 295,189.3 296.5,184.3 298,189.6 299.5,188 301,184.4 302.5,180.9 304,180.2 305.5,185.3 307,186.2 308.5,187.1 310,187.6 311.5,184.6 313,182.1 314.5,183.7 316,185 317.5,181.6 319,183 320.5,183 322,181.1 323.5,179.3 325,175.5 326.5,169.5 328,168.9 329.5,170.4 331,169.7 332.5,171.8 334,173.6 335.5,173.6 337,173.3 338.5,172.6 340,174 341.5,176 343,173.3 344.5,172.8 346,175.6 347.5,175.2 349,175.6 350.5,176.9 352,179.5 353.5,178.2 355,178.5 356.5,179.5 358,179.7 359.5,179.1 361,178.3 362.5,177.9 364,179.6 365.5,181.3 367,181.4 368.5,184.9 370,182.5 371.5,181.8 373,180.2 374.5,178.9 376,178.9 377.5,176.1 379,173.3 380.5,177.5 382,180.5 383.5,184.1 385,185.3 386.5,182.7 388,183 389.5,182 391,181.8 392.5,181.7 394,181.4 395.5,183.2 397,182.5 398.5,182.7 400,180.3 401.5,175.9 403,171.2 404.5,178 406,180.2 407.5,183.4 409,183.5 410.5,184.3 412,183.7 413.5,178.6 415,179.9 416.5,182.7 418,179.7 419.5,182.8 421,183.1 422.5,182 424,183 425.5,181.8 427,179.9 428.5,178.8 430,180.6 431.5,180.7 433,179.3 434.5,174 436,175.2 437.5,177.3 439,179.3 440.5,183 442,181.8 443.5,178.5 445,178.3 446.5,175.1 448,176.4 449.5,178.7 451,177.8 452.5,176 454,176.9 455.5,177.4 457,177.6 458.5,175.6 460,176.8 461.5,176.5 463,180.1 464.5,180.5 466,181 467.5,178.7 469,180.9 470.5,180.3 472,179.6 473.5,178.4 475,178 476.5,176.9 478,172.2 479.5,170 481,170 482.5,172.3 484,173.5 485.5,174 487,172.1 488.5,171.9 490,168.7 491.5,169.5 493,170.2 494.5,170.6 496,172.2 497.5,171.4 499,172.8 500.5,172.5 502,173.2 503.5,171.9 505,172.5 506.5,172 508,170.5 509.5,171 511,169.7 512.5,170 514,170.4 515.5,170.5 517,170.9 518.5,170.7 520,169 521.5,168.2 523,168.1 524.5,169.9 526,172.5 527.5,170 529,169.4 530.5,168.8 532,168.9 533.5,168.4 535,165.5 536.5,167.1 538,167.5 539.5,167.1 541,166.5 542.5,166.5 544,166.7 545.5,167.5 547,166.1 548.5,165.5 550,166 551.5,167 553,166.7 554.5,166 556,166.5 557.5,167.4 559,168.3 560.5,168.3 562,168.2 563.5,167.3 565,167 566.5,167.4 568,166.7 569.5,167.2 571,167.6 572.5,166.9 574,166.6 575.5,166.2 577,166.9 578.5,167.9 580,167.1 581.5,166.9 583,166.1 584.5,166.2 586,166.8 587.5,166.7 589,167.8 590.5,167.7 592,167.5 593.5,167 595,166.6 596.5,166.5 598,167.1 599.5,166.5 601,166.7 602.5,165.8 604,166.2 605.5,166.9 607,166.5 608.5,166.5 610,166 611.5,166.2 613,166.9 614.5,167.2 616,167.1 617.5,166.2" fill="none" stroke="#218a40" stroke-width="1.35" stroke-linejoin="miter"/>
<line x1="69.3" x2="617.6" y1="163.9" y2="163.9" stroke="#000" stroke-width="2.3"/>
<polyline points="70,163.6 71.5,163.6 73,163.5 74.5,163.5 76,163.4 77.5,163.4 79,163.3 80.5,163.3 82,163.2 83.5,163.2 85,163.1 86.5,163.1 88,163.1 89.5,163 91,163 92.5,162.9 94,162.9 95.5,162.8 97,162.8 98.5,162.7 100,162.7 101.5,162.7 103,162.6 104.5,162.6 106,162.5 107.5,162.5 109,162.4 110.5,162.4 112,162.3 113.5,162.3 115,162.2 116.5,162.1 118,162.1 119.5,162 121,162 122.5,161.9 124,161.8 125.5,161.8 127,161.7 128.5,161.7 130,161.6 131.5,161.5 133,161.4 134.5,161.3 136,161.2 137.5,161.1 139,161.1 140.5,161 142,160.9 143.5,160.8 145,160.7 146.5,160.6 148,160.5 149.5,160.4 151,160.3 152.5,160.2 154,160.1 155.5,160 157,159.8 158.5,159.7 160,159.6 161.5,159.4 163,159.3 164.5,159.1 166,159 167.5,158.8 169,158.7 170.5,158.5 172,158.4 173.5,158.2 175,158 176.5,157.8 178,157.6 179.5,157.5 181,157.2 182.5,156.9 184,156.7 185.5,156.4 187,156.1 188.5,155.9 190,155.6 191.5,155.2 193,154.8 194.5,154.5 196,154.1 197.5,153.7 199,153.4 200.5,153 202,152.7 203.5,152.3 205,152 206.5,151.6 208,151.2 209.5,150.9 211,150.5 212.5,150.1 214,149.8 215.5,149.4 217,149 218.5,148.6 220,148.3 221.5,147.9 223,147.6 224.5,147.2 226,146.8 227.5,146.5 229,146.2 230.5,145.8 232,145.5 233.5,145.2 235,144.8 236.5,144.5 238,144.2 239.5,143.9 241,143.7 242.5,143.4 244,143.1 245.5,142.9 247,142.6 248.5,142.3 250,141.9 251.5,141.6 253,141.3 254.5,140.9 256,140.6 257.5,140.3 259,140 260.5,139.8 262,139.5 263.5,139.2 265,139 266.5,138.7 268,138.5 269.5,138.3 271,138.1 272.5,137.9 274,137.8 275.5,137.6 277,137.4 278.5,137.3 280,137.3 281.5,137.2 283,137.2 284.5,137.1 286,137 287.5,137 289,137 290.5,137 292,137 293.5,137 295,137 296.5,137 298,136.9 299.5,136.8 301,136.7 302.5,136.6 304,136.4 305.5,136.3 307,136.2 308.5,136.1 310,136 311.5,135.9 313,135.8 314.5,135.8 316,135.7 317.5,135.5 319,135.4 320.5,135.2 322,135.1 323.5,134.9 325,134.8 326.5,134.1 328,133.4 329.5,132.7 331,132 332.5,131.5 334,131 335.5,130.5 337,130 338.5,129.6 340,129.2 341.5,128.8 343,128.5 344.5,128 346,127.4 347.5,126.9 349,126.3 350.5,125.7 352,125.2 353.5,124.6 355,124.2 356.5,123.9 358,123.6 359.5,123.3 361,123 362.5,122.7 364,122.4 365.5,122.2 367,122 368.5,121.8 370,121.6 371.5,121.3 373,121.1 374.5,120.9 376,120.8 377.5,120.6 379,120.5 380.5,120.3 382,120.2 383.5,120 385,119.9 386.5,119.8 388,119.7 389.5,119.6 391,119.4 392.5,119.3 394,119.2 395.5,119.1 397,119 398.5,118.8 400,118.7 401.5,118.6 403,118.5 404.5,118.4 406,118.3 407.5,118.3 409,118.2 410.5,118.1 412,118.1 413.5,118 415,117.9 416.5,117.8 418,117.8 419.5,117.7 421,117.6 422.5,117.5 424,117.4 425.5,117.3 427,117.2 428.5,117.1 430,117 431.5,116.9 433,116.9 434.5,116.8 436,116.7 437.5,116.7 439,116.6 440.5,116.5 442,116.5 443.5,116.4 445,116.4 446.5,116.3 448,116.2 449.5,116.2 451,116.1 452.5,116.1 454,116 455.5,115.9 457,115.9 458.5,115.8 460,115.8 461.5,115.7 463,115.6 464.5,115.6 466,115.6 467.5,115.6 469,115.6 470.5,115.6 472,115.6 473.5,115.6 475,115.6 476.5,115.5 478,115.4 479.5,115.4 481,115.3 482.5,115.1 484,114.9 485.5,114.7 487,114.5 488.5,114.3 490,114.1 491.5,113.9 493,113.8 494.5,113.6 496,113.4 497.5,113.2 499,113 500.5,112.9 502,112.7 503.5,112.6 505,112.5 506.5,112.4 508,112.2 509.5,112.1 511,112 512.5,111.9 514,111.9 515.5,111.8 517,111.8 518.5,111.7 520,111.6 521.5,111.6 523,111.6 524.5,111.6 526,111.6 527.5,111.6 529,111.6 530.5,111.6 532,111.6 533.5,111.5 535,111.5 536.5,111.5 538,111.5 539.5,111.4 541,111.4 542.5,111.4 544,111.4 545.5,111.4 547,111.4 548.5,111.4 550,111.4 551.5,111.4 553,111.4 554.5,111.4 556,111.4 557.5,111.4 559,111.4 560.5,111.4 562,111.4 563.5,111.4 565,111.5 566.5,111.5 568,111.5 569.5,111.6 571,111.6 572.5,111.6 574,111.7 575.5,111.7 577,111.7 578.5,111.7 580,111.8 581.5,111.8 583,111.8 584.5,111.9 586,111.9 587.5,111.9 589,112 590.5,112 592,112 593.5,112 595,112 596.5,112 598,112 599.5,112 601,112 602.5,112 604,112.1 605.5,112.1 607,112.1 608.5,112.2 610,112.2 611.5,112.2 613,112.3 614.5,112.3 616,112.4 617.5,112.4" fill="none" stroke="#0f57b8" stroke-width="1.9" stroke-linejoin="round" stroke-linecap="round"/>
</g>
<path d="M69.3 191.1V105.3H617.6" fill="none" stroke="#111" stroke-width="1.5" stroke-linejoin="miter"/>
<path d="M617.6 105.3V191.1" fill="none" stroke="#111" stroke-width="1.3"/>
<path d="M64 191.1H622.7" fill="none" stroke="#222" stroke-width="1.15"/>
<line x1="64" x2="69.3" y1="110.5" y2="110.5" stroke="#333" stroke-width="1"/>
<line x1="617.6" x2="622.7" y1="110.5" y2="110.5" stroke="#2a2a2a" stroke-width="1"/>
<text x="55.6" y="115" font-size="14.2" text-anchor="end">50</text>
<text x="631.2" y="115" font-size="14.2">50</text>
<line x1="64" x2="69.3" y1="137.4" y2="137.4" stroke="#333" stroke-width="1"/>
<line x1="617.6" x2="622.7" y1="137.4" y2="137.4" stroke="#2a2a2a" stroke-width="1"/>
<text x="55.6" y="141.9" font-size="14.2" text-anchor="end">25</text>
<text x="631.2" y="141.9" font-size="14.2">25</text>
<line x1="64" x2="69.3" y1="164.2" y2="164.2" stroke="#333" stroke-width="1"/>
<line x1="617.6" x2="622.7" y1="164.2" y2="164.2" stroke="#2a2a2a" stroke-width="1"/>
<text x="55.6" y="168.7" font-size="14.2" text-anchor="end">0</text>
<text x="631.2" y="168.7" font-size="14.2">0</text>
<line x1="64" x2="69.3" y1="191.1" y2="191.1" stroke="#333" stroke-width="1"/>
<line x1="617.6" x2="622.7" y1="191.1" y2="191.1" stroke="#2a2a2a" stroke-width="1"/>
<text x="55.6" y="195.6" font-size="14.2" text-anchor="end">-25</text>
<text x="631.2" y="195.6" font-size="14.2">-25</text>
<text x="80.0" y="121.3" font-size="14" textLength="12.6" lengthAdjust="spacingAndGlyphs">b)</text>
</g>
<g>
<clipPath id="cpc"><rect x="69.3" y="205.3" width="548.3000000000001" height="85.89999999999998"/></clipPath>
<g clip-path="url(#cpc)">
<polygon points="70,264.3 70,263.3 71.5,263.2 73,263.2 74.5,263.2 76,263 77.5,263.1 79,263.1 80.5,263.2 82,263.2 83.5,263.1 85,263.2 86.5,263.1 88,262.9 89.5,263 91,263 92.5,263 94,263.1 95.5,263.1 97,262.9 98.5,263 100,263 101.5,263.1 103,263.2 104.5,263 106,262.9 107.5,263 109,263 110.5,263 112,262.8 113.5,262.8 115,262.9 116.5,262.8 118,263 119.5,262.6 121,262.9 122.5,262.6 124,262.5 125.5,262.6 127,262.3 128.5,262.5 130,262.6 131.5,262.3 133,261.9 134.5,262.2 136,262.1 137.5,261.9 139,261.8 140.5,261.6 142,260.8 143.5,260.2 145,260.4 146.5,259.9 148,259.3 149.5,259.1 151,258.6 152.5,258.9 154,258.2 155.5,257.9 157,257.9 158.5,257.3 160,257.2 161.5,256.4 163,256.5 164.5,255.7 166,255.3 167.5,255.2 169,254.6 170.5,254.6 172,254.9 173.5,255.7 175,254.9 176.5,254.1 178,252.9 179.5,252.2 181,251.2 182.5,250.5 184,250 185.5,249.3 187,248.8 188.5,248.6 190,248.1 191.5,249 193,249.4 194.5,249.6 196,248.5 197.5,248 199,247.2 200.5,246.3 202,246.3 203.5,245.8 205,245.2 206.5,244.7 208,245.5 209.5,246.6 211,248.1 212.5,247.4 214,246.2 215.5,244.9 217,244.5 218.5,244.1 220,244.2 221.5,245.9 223,245.5 224.5,246.6 226,247.2 227.5,246.8 229,249.2 230.5,249.2 232,249.9 233.5,250.2 235,250.9 236.5,251.1 238,251 239.5,251.8 241,251.8 242.5,252.4 244,252.2 245.5,252.1 247,251.1 248.5,251.4 250,251.8 251.5,252 253,252 254.5,251.8 256,251.3 257.5,251.4 259,251.7 260.5,251.2 262,250.8 263.5,251.1 265,251.2 266.5,251.4 268,251.2 269.5,251.1 271,250.4 272.5,252.2 274,251.8 275.5,252 277,251.8 278.5,252 280,252 281.5,252.2 283,252.3 284.5,252.6 286,252.2 287.5,251.8 289,251.8 290.5,251.6 292,251.3 293.5,251.3 295,250.9 296.5,250.9 298,250.9 299.5,250.6 301,250.9 302.5,250.9 304,250.6 305.5,250.7 307,250.4 308.5,249.6 310,249.5 311.5,249.3 313,249 314.5,248.3 316,248.3 317.5,248.2 319,247.9 320.5,248 322,248.5 323.5,248.7 325,247.3 326.5,245.7 328,247.4 329.5,250.4 331,252.4 332.5,254.2 334,255.3 335.5,255.7 337,255.8 338.5,255.9 340,255.6 341.5,255 343,254.1 344.5,252.9 346,252.8 347.5,251.3 349,250.7 350.5,250 352,249.1 353.5,249.5 355,249.4 356.5,249.1 358,249 359.5,248.5 361,248.6 362.5,248.3 364,246.6 365.5,245.2 367,243.7 368.5,242.7 370,242.2 371.5,243.7 373,244.8 374.5,245.1 376,247 377.5,249.3 379,248.6 380.5,248 382,248.5 383.5,247.5 385,247.6 386.5,247.7 388,247.3 389.5,246.6 391,247.4 392.5,249 394,250 395.5,250.2 397,251.5 398.5,251.5 400,251.2 401.5,252.2 403,252.9 404.5,252.4 406,253 407.5,252.7 409,253.2 410.5,253.9 412,254.4 413.5,254.6 415,254.6 416.5,254.8 418,255 419.5,255.5 421,255.4 422.5,255.6 424,255.1 425.5,255.3 427,254.8 428.5,255.2 430,255.3 431.5,255.2 433,255.1 434.5,254.5 436,254.7 437.5,255.3 439,254.7 440.5,255.3 442,255.2 443.5,254.8 445,254.9 446.5,255.5 448,255 449.5,254.7 451,254.6 452.5,254.9 454,255.1 455.5,254.8 457,254.7 458.5,254.5 460,254.4 461.5,254.1 463,254.8 464.5,254.2 466,254.3 467.5,253.9 469,253.8 470.5,253.9 472,254.1 473.5,254 475,253.4 476.5,253.3 478,252.5 479.5,252.1 481,252.4 482.5,252.5 484,252.4 485.5,252.1 487,252.7 488.5,252.9 490,252.7 491.5,252.3 493,251.8 494.5,252.2 496,252.1 497.5,251.9 499,252 500.5,252 502,252.5 503.5,253.2 505,254.4 506.5,256.1 508,257.3 509.5,258.4 511,259.1 512.5,259.6 514,259.4 515.5,260.3 517,260.7 518.5,260.4 520,260.6 521.5,260.7 523,260.5 524.5,261.3 526,261 527.5,261.6 529,261.8 530.5,262 532,262.1 533.5,262.1 535,262 536.5,262.2 538,262.3 539.5,262.2 541,262.6 542.5,262.4 544,262.5 545.5,262.3 547,262.7 548.5,262.6 550,262.4 551.5,262.8 553,262.8 554.5,262.8 556,262.5 557.5,262.7 559,262.6 560.5,262.7 562,262.9 563.5,262.8 565,262.8 566.5,262.8 568,262.8 569.5,262.9 571,262.9 572.5,262.7 574,262.7 575.5,262.7 577,262.9 578.5,262.8 580,262.6 581.5,262.7 583,262.7 584.5,262.8 586,262.9 587.5,262.7 589,262.8 590.5,263 592,262.7 593.5,262.9 595,262.8 596.5,262.8 598,263 599.5,262.8 601,262.8 602.5,262.8 604,262.7 605.5,262.5 607,262.4 608.5,262.5 610,262.5 611.5,262.4 613,262.7 614.5,262.4 616,262.4 617.5,262.4 617.5,264.3" fill="#2bdaf3"/>
<polygon points="70,264.3 70,264.5 71.5,264.5 73,264.5 74.5,264.5 76,264.5 77.5,264.5 79,264.6 80.5,264.5 82,264.6 83.5,264.5 85,264.6 86.5,264.6 88,264.5 89.5,264.6 91,264.6 92.5,264.5 94,264.6 95.5,264.5 97,264.6 98.5,264.6 100,264.6 101.5,264.6 103,264.6 104.5,264.6 106,264.6 107.5,264.6 109,264.6 110.5,264.6 112,264.6 113.5,264.6 115,264.6 116.5,264.5 118,264.6 119.5,264.6 121,264.6 122.5,264.5 124,264.5 125.5,264.6 127,264.8 128.5,265.3 130,265.5 131.5,265.5 133,265.5 134.5,265.6 136,265.7 137.5,265.6 139,265.6 140.5,265.5 142,265.9 143.5,265.7 145,266.1 146.5,265.8 148,266.2 149.5,266 151,266.4 152.5,266.8 154,266.8 155.5,267.1 157,266.9 158.5,267.5 160,267.7 161.5,266.7 163,267.3 164.5,266.5 166,266.8 167.5,266.6 169,267.5 170.5,268.9 172,268.9 173.5,269.3 175,269.9 176.5,270.1 178,270.4 179.5,269.2 181,269.7 182.5,269 184,268.7 185.5,268.3 187,268.2 188.5,267.7 190,269.2 191.5,270.7 193,271.8 194.5,273.3 196,274.7 197.5,273.4 199,273.7 200.5,275 202,274.8 203.5,275.1 205,274.6 206.5,273.9 208,275.1 209.5,275.2 211,275 212.5,275.6 214,275.1 215.5,277.1 217,276.8 218.5,277.4 220,278.6 221.5,275.1 223,274.4 224.5,275.4 226,275.6 227.5,273.6 229,272.3 230.5,276.3 232,277.5 233.5,275.7 235,275 236.5,273.4 238,277 239.5,277.7 241,273.5 242.5,271.4 244,270.2 245.5,275.2 247,277.5 248.5,277.3 250,278.9 251.5,277.5 253,274.4 254.5,274.9 256,275.7 257.5,276.8 259,272.8 260.5,271.8 262,271.9 263.5,275.5 265,277.7 266.5,277.8 268,277.1 269.5,277 271,277.3 272.5,277.7 274,278.8 275.5,277.6 277,276.8 278.5,279.2 280,278.5 281.5,278.6 283,279.7 284.5,278 286,280.4 287.5,280.8 289,280.8 290.5,280.7 292,282.9 293.5,281.4 295,280.6 296.5,282.7 298,282.1 299.5,284 301,280.7 302.5,276.6 304,274.9 305.5,280.3 307,281.1 308.5,281.4 310,280.9 311.5,281.3 313,279.8 314.5,279.5 316,281.5 317.5,277.8 319,280.1 320.5,279.6 322,278.7 323.5,277.6 325,270 326.5,269.9 328,269.6 329.5,270.4 331,271.1 332.5,272.4 334,272.5 335.5,273.1 337,272.8 338.5,274 340,275.8 341.5,274.8 343,273.5 344.5,275.3 346,278.4 347.5,277.9 349,278.7 350.5,279.1 352,279.9 353.5,278.7 355,280.8 356.5,280.2 358,282.1 359.5,282.5 361,280.6 362.5,281.6 364,286.8 365.5,285.8 367,285.1 368.5,286.6 370,284.5 371.5,281.8 373,284.2 374.5,283.6 376,282.1 377.5,278.6 379,274.9 380.5,275.6 382,278 383.5,282.5 385,283.2 386.5,281.7 388,283.5 389.5,281.6 391,280.1 392.5,280.4 394,279.5 395.5,281.5 397,280.6 398.5,279.5 400,276.9 401.5,275.4 403,269.2 404.5,273.2 406,275.7 407.5,276.3 409,276.4 410.5,275.4 412,276.7 413.5,275.1 415,273.8 416.5,274.4 418,275.6 419.5,276.7 421,275.9 422.5,276.3 424,276.6 425.5,275.5 427,273.3 428.5,271.7 430,272.7 431.5,275.5 433,274 434.5,270.4 436,271.3 437.5,272.4 439,273.2 440.5,274.8 442,274.5 443.5,274.7 445,274 446.5,271 448,272.7 449.5,273.7 451,274.4 452.5,271.4 454,272.7 455.5,274 457,273.5 458.5,271.8 460,271.5 461.5,272.1 463,273.3 464.5,274.6 466,275.7 467.5,275.3 469,273.8 470.5,274 472,274.1 473.5,273.2 475,275 476.5,273.1 478,271.3 479.5,270.3 481,270.2 482.5,271.6 484,273.2 485.5,273.1 487,273 488.5,271.7 490,268.7 491.5,270.9 493,270.1 494.5,273 496,273 497.5,273.5 499,272.7 500.5,271.8 502,271.3 503.5,271.1 505,273.4 506.5,272.2 508,271.5 509.5,271.6 511,271.3 512.5,270 514,270.4 515.5,270.5 517,271 518.5,270.1 520,269.5 521.5,268.7 523,267.5 524.5,270 526,270.9 527.5,270.5 529,269 530.5,269 532,269.3 533.5,267.7 535,265.8 536.5,266.3 538,266.8 539.5,267 541,266.2 542.5,266.4 544,266.8 545.5,266.8 547,266.4 548.5,265.5 550,265.9 551.5,266.2 553,266.4 554.5,266.9 556,266.1 557.5,266.5 559,268 560.5,267.6 562,267.5 563.5,266.7 565,266.8 566.5,266.1 568,266.8 569.5,266.4 571,266.8 572.5,266.7 574,266.2 575.5,266.1 577,266.1 578.5,266.6 580,266.2 581.5,266.2 583,265.1 584.5,265.9 586,265.7 587.5,266.6 589,266.4 590.5,266.9 592,267.1 593.5,266.7 595,265.7 596.5,266.2 598,266.3 599.5,266 601,265.9 602.5,265.6 604,265.9 605.5,266.4 607,266.1 608.5,266.2 610,265.8 611.5,265.5 613,266.1 614.5,266.2 616,266.4 617.5,265.8 617.5,264.3" fill="#cdf9cd"/>
<polygon points="70,264.3 70,263.5 71.5,263.4 73,263.4 74.5,263.4 76,263.3 77.5,263.4 79,263.4 80.5,263.4 82,263.4 83.5,263.3 85,263.4 86.5,263.4 88,263.1 89.5,263.3 91,263.3 92.5,263.3 94,263.3 95.5,263.4 97,263.2 98.5,263.2 100,263.3 101.5,263.4 103,263.5 104.5,263.3 106,263.2 107.5,263.3 109,263.3 110.5,263.3 112,263.1 113.5,263.1 115,263.2 116.5,263 118,263.3 119.5,262.9 121,263.2 122.5,262.8 124,262.7 125.5,262.9 127,262.9 128.5,263.4 130,263.8 131.5,263.5 133,263.1 134.5,263.5 136,263.5 137.5,263.2 139,263.1 140.5,262.8 142,262.4 143.5,261.6 145,262.2 146.5,261.4 148,261.2 149.5,260.8 151,260.7 152.5,261.3 154,260.6 155.5,260.7 157,260.4 158.5,260.5 160,260.7 161.5,258.8 163,259.4 164.5,257.9 166,257.7 167.5,257.5 169,257.8 170.5,259.1 172,259.5 173.5,260.7 175,260.4 176.5,259.9 178,259 179.5,257 181,256.6 182.5,255.2 184,254.4 185.5,253.3 187,252.7 188.5,252 190,253 191.5,255.3 193,256.9 194.5,258.7 196,258.9 197.5,257.1 199,256.6 200.5,257 202,256.8 203.5,256.6 205,255.5 206.5,254.3 208,256.4 209.5,257.5 211,258.8 212.5,258.7 214,257 215.5,257.6 217,257.1 218.5,257.3 220,258.5 221.5,256.7 223,255.5 224.5,257.7 226,258.5 227.5,256.2 229,257.1 230.5,261.3 232,263.1 233.5,261.6 235,261.5 236.5,260.2 238,263.7 239.5,265.2 241,261 242.5,259.5 244,258.2 245.5,263 247,264.3 248.5,264.4 250,266.3 251.5,265.2 253,262.1 254.5,262.5 256,262.7 257.5,263.9 259,260.2 260.5,258.6 262,258.4 263.5,262.2 265,264.6 266.5,264.8 268,263.9 269.5,263.9 271,263.4 272.5,265.6 274,266.4 275.5,265.3 277,264.3 278.5,266.9 280,266.1 281.5,266.6 283,267.7 284.5,266.3 286,268.2 287.5,268.4 289,268.3 290.5,268 292,269.9 293.5,268.5 295,267.3 296.5,269.3 298,268.8 299.5,270.3 301,267.3 302.5,263.2 304,261.2 305.5,266.7 307,267.2 308.5,266.7 310,266.1 311.5,266.4 313,264.4 314.5,263.5 316,265.5 317.5,261.7 319,263.7 320.5,263.3 322,262.9 323.5,262 325,253 326.5,251.3 328,252.7 329.5,256.5 331,259.2 332.5,262.2 334,263.5 335.5,264.5 337,264.3 338.5,265.6 340,267.1 341.5,265.5 343,263.2 344.5,264 346,266.9 347.5,264.9 349,265 350.5,264.8 352,264.6 353.5,263.9 355,265.9 356.5,265 358,266.8 359.5,266.7 361,264.8 362.5,265.6 364,269.1 365.5,266.8 367,264.5 368.5,265.1 370,262.5 371.5,261.2 373,264.7 374.5,264.4 376,264.8 377.5,263.6 379,259.2 380.5,259.3 382,262.1 383.5,265.7 385,266.5 386.5,265.1 388,266.5 389.5,263.9 391,263.2 392.5,265.1 394,265.3 395.5,267.3 397,267.9 398.5,266.7 400,263.8 401.5,263.3 403,257.7 404.5,261.3 406,264.4 407.5,264.8 409,265.3 410.5,265.1 412,266.7 413.5,265.4 415,264.1 416.5,264.9 418,266.3 419.5,267.9 421,267 422.5,267.7 424,267.4 425.5,266.5 427,263.8 428.5,262.6 430,263.8 431.5,266.4 433,264.8 434.5,260.6 436,261.7 437.5,263.4 439,263.6 440.5,265.7 442,265.4 443.5,265.2 445,264.6 446.5,262.3 448,263.4 449.5,264.1 451,264.7 452.5,262 454,263.5 455.5,264.5 457,263.8 458.5,262 460,261.7 461.5,261.9 463,263.8 464.5,264.5 466,265.7 467.5,264.9 469,263.3 470.5,263.6 472,263.9 473.5,262.9 475,264.1 476.5,262.1 478,259.5 479.5,258.2 481,258.3 482.5,259.8 484,261.3 485.5,261 487,261.5 488.5,260.3 490,257.1 491.5,258.9 493,257.6 494.5,260.9 496,260.8 497.5,261.1 499,260.3 500.5,259.6 502,259.5 503.5,260 505,263.4 506.5,264 508,264.6 509.5,265.7 511,266.1 512.5,265.3 514,265.5 515.5,266.5 517,267.3 518.5,266.2 520,265.8 521.5,265.1 523,263.7 524.5,267 526,267.6 527.5,267.8 529,266.5 530.5,266.7 532,267.1 533.5,265.5 535,263.6 536.5,264.2 538,264.8 539.5,264.9 541,264.5 542.5,264.5 544,265 545.5,264.8 547,264.8 548.5,263.8 550,264 551.5,264.6 553,264.9 554.5,265.3 556,264.4 557.5,265 559,266.3 560.5,266 562,266.1 563.5,265.1 565,265.3 566.5,264.7 568,265.3 569.5,265 571,265.3 572.5,265.1 574,264.6 575.5,264.4 577,264.7 578.5,265.1 580,264.5 581.5,264.5 583,263.5 584.5,264.4 586,264.3 587.5,265 589,264.9 590.5,265.6 592,265.5 593.5,265.3 595,264.2 596.5,264.7 598,264.9 599.5,264.4 601,264.4 602.5,264.1 604,264.4 605.5,264.6 607,264.2 608.5,264.4 610,264 611.5,263.6 613,264.5 614.5,264.3 616,264.5 617.5,263.9 617.5,264.3" fill="#0aa8c0"/>
<polyline points="70,264.5 71.5,264.5 73,264.5 74.5,264.5 76,264.5 77.5,264.5 79,264.6 80.5,264.5 82,264.6 83.5,264.5 85,264.6 86.5,264.6 88,264.5 89.5,264.6 91,264.6 92.5,264.5 94,264.6 95.5,264.5 97,264.6 98.5,264.6 100,264.6 101.5,264.6 103,264.6 104.5,264.6 106,264.6 107.5,264.6 109,264.6 110.5,264.6 112,264.6 113.5,264.6 115,264.6 116.5,264.5 118,264.6 119.5,264.6 121,264.6 122.5,264.5 124,264.5 125.5,264.6 127,264.8 128.5,265.3 130,265.5 131.5,265.5 133,265.5 134.5,265.6 136,265.7 137.5,265.6 139,265.6 140.5,265.5 142,265.9 143.5,265.7 145,266.1 146.5,265.8 148,266.2 149.5,266 151,266.4 152.5,266.8 154,266.8 155.5,267.1 157,266.9 158.5,267.5 160,267.7 161.5,266.7 163,267.3 164.5,266.5 166,266.8 167.5,266.6 169,267.5 170.5,268.9 172,268.9 173.5,269.3 175,269.9 176.5,270.1 178,270.4 179.5,269.2 181,269.7 182.5,269 184,268.7 185.5,268.3 187,268.2 188.5,267.7 190,269.2 191.5,270.7 193,271.8 194.5,273.3 196,274.7 197.5,273.4 199,273.7 200.5,275 202,274.8 203.5,275.1 205,274.6 206.5,273.9 208,275.1 209.5,275.2 211,275 212.5,275.6 214,275.1 215.5,277.1 217,276.8 218.5,277.4 220,278.6 221.5,275.1 223,274.4 224.5,275.4 226,275.6 227.5,273.6 229,272.3 230.5,276.3 232,277.5 233.5,275.7 235,275 236.5,273.4 238,277 239.5,277.7 241,273.5 242.5,271.4 244,270.2 245.5,275.2 247,277.5 248.5,277.3 250,278.9 251.5,277.5 253,274.4 254.5,274.9 256,275.7 257.5,276.8 259,272.8 260.5,271.8 262,271.9 263.5,275.5 265,277.7 266.5,277.8 268,277.1 269.5,277 271,277.3 272.5,277.7 274,278.8 275.5,277.6 277,276.8 278.5,279.2 280,278.5 281.5,278.6 283,279.7 284.5,278 286,280.4 287.5,280.8 289,280.8 290.5,280.7 292,282.9 293.5,281.4 295,280.6 296.5,282.7 298,282.1 299.5,284 301,280.7 302.5,276.6 304,274.9 305.5,280.3 307,281.1 308.5,281.4 310,280.9 311.5,281.3 313,279.8 314.5,279.5 316,281.5 317.5,277.8 319,280.1 320.5,279.6 322,278.7 323.5,277.6 325,270 326.5,269.9 328,269.6 329.5,270.4 331,271.1 332.5,272.4 334,272.5 335.5,273.1 337,272.8 338.5,274 340,275.8 341.5,274.8 343,273.5 344.5,275.3 346,278.4 347.5,277.9 349,278.7 350.5,279.1 352,279.9 353.5,278.7 355,280.8 356.5,280.2 358,282.1 359.5,282.5 361,280.6 362.5,281.6 364,286.8 365.5,285.8 367,285.1 368.5,286.6 370,284.5 371.5,281.8 373,284.2 374.5,283.6 376,282.1 377.5,278.6 379,274.9 380.5,275.6 382,278 383.5,282.5 385,283.2 386.5,281.7 388,283.5 389.5,281.6 391,280.1 392.5,280.4 394,279.5 395.5,281.5 397,280.6 398.5,279.5 400,276.9 401.5,275.4 403,269.2 404.5,273.2 406,275.7 407.5,276.3 409,276.4 410.5,275.4 412,276.7 413.5,275.1 415,273.8 416.5,274.4 418,275.6 419.5,276.7 421,275.9 422.5,276.3 424,276.6 425.5,275.5 427,273.3 428.5,271.7 430,272.7 431.5,275.5 433,274 434.5,270.4 436,271.3 437.5,272.4 439,273.2 440.5,274.8 442,274.5 443.5,274.7 445,274 446.5,271 448,272.7 449.5,273.7 451,274.4 452.5,271.4 454,272.7 455.5,274 457,273.5 458.5,271.8 460,271.5 461.5,272.1 463,273.3 464.5,274.6 466,275.7 467.5,275.3 469,273.8 470.5,274 472,274.1 473.5,273.2 475,275 476.5,273.1 478,271.3 479.5,270.3 481,270.2 482.5,271.6 484,273.2 485.5,273.1 487,273 488.5,271.7 490,268.7 491.5,270.9 493,270.1 494.5,273 496,273 497.5,273.5 499,272.7 500.5,271.8 502,271.3 503.5,271.1 505,273.4 506.5,272.2 508,271.5 509.5,271.6 511,271.3 512.5,270 514,270.4 515.5,270.5 517,271 518.5,270.1 520,269.5 521.5,268.7 523,267.5 524.5,270 526,270.9 527.5,270.5 529,269 530.5,269 532,269.3 533.5,267.7 535,265.8 536.5,266.3 538,266.8 539.5,267 541,266.2 542.5,266.4 544,266.8 545.5,266.8 547,266.4 548.5,265.5 550,265.9 551.5,266.2 553,266.4 554.5,266.9 556,266.1 557.5,266.5 559,268 560.5,267.6 562,267.5 563.5,266.7 565,266.8 566.5,266.1 568,266.8 569.5,266.4 571,266.8 572.5,266.7 574,266.2 575.5,266.1 577,266.1 578.5,266.6 580,266.2 581.5,266.2 583,265.1 584.5,265.9 586,265.7 587.5,266.6 589,266.4 590.5,266.9 592,267.1 593.5,266.7 595,265.7 596.5,266.2 598,266.3 599.5,266 601,265.9 602.5,265.6 604,265.9 605.5,266.4 607,266.1 608.5,266.2 610,265.8 611.5,265.5 613,266.1 614.5,266.2 616,266.4 617.5,265.8" fill="none" stroke="#218a40" stroke-width="1.35" stroke-linejoin="miter"/>
<line x1="69.3" x2="617.6" y1="264.0" y2="264.0" stroke="#000" stroke-width="2.3"/>
<polyline points="70,264 71.5,264 73,264 74.5,264 76,263.9 77.5,263.9 79,263.9 80.5,263.9 82,263.9 83.5,263.9 85,263.9 86.5,263.8 88,263.8 89.5,263.8 91,263.8 92.5,263.8 94,263.8 95.5,263.7 97,263.7 98.5,263.7 100,263.7 101.5,263.7 103,263.7 104.5,263.7 106,263.6 107.5,263.6 109,263.6 110.5,263.6 112,263.5 113.5,263.5 115,263.4 116.5,263.4 118,263.4 119.5,263.3 121,263.3 122.5,263.2 124,263.2 125.5,263.1 127,263.1 128.5,263 130,263 131.5,262.9 133,262.9 134.5,262.8 136,262.7 137.5,262.6 139,262.6 140.5,262.5 142,262.4 143.5,262.3 145,262.2 146.5,262.2 148,262.1 149.5,262 151,261.9 152.5,261.8 154,261.6 155.5,261.4 157,261.3 158.5,261.2 160,261 161.5,260.9 163,260.7 164.5,260.6 166,260.4 167.5,260.2 169,260.1 170.5,259.9 172,259.7 173.5,259.5 175,259.3 176.5,259.1 178,258.9 179.5,258.7 181,258.4 182.5,258.2 184,258 185.5,257.7 187,257.5 188.5,257.2 190,257 191.5,256.7 193,256.4 194.5,256.1 196,255.8 197.5,255.5 199,255.2 200.5,254.9 202,254.6 203.5,254.3 205,254 206.5,253.7 208,253.4 209.5,253.1 211,252.8 212.5,252.5 214,252.2 215.5,251.9 217,251.6 218.5,251.4 220,251.2 221.5,251.1 223,250.9 224.5,250.7 226,250.5 227.5,250.4 229,250.3 230.5,250.3 232,250.2 233.5,250.1 235,250.1 236.5,250 238,250 239.5,249.9 241,249.8 242.5,249.8 244,249.7 245.5,249.7 247,249.6 248.5,249.5 250,249.5 251.5,249.4 253,249.4 254.5,249.3 256,249.2 257.5,249.2 259,249.2 260.5,249.1 262,249.1 263.5,249.1 265,249 266.5,249 268,249 269.5,249.1 271,249.1 272.5,249.1 274,249.1 275.5,249.2 277,249.2 278.5,249.3 280,249.4 281.5,249.6 283,249.7 284.5,249.8 286,249.9 287.5,250.1 289,250.2 290.5,250.4 292,250.5 293.5,250.7 295,250.8 296.5,251 298,251.1 299.5,251.2 301,251.4 302.5,251.6 304,251.7 305.5,251.9 307,252 308.5,252.1 310,252.1 311.5,252.2 313,252.2 314.5,252.3 316,252.4 317.5,252.4 319,252.4 320.5,252.4 322,252.4 323.5,252.4 325,252.4 326.5,252.2 328,251.9 329.5,251.7 331,251.4 332.5,251.4 334,251.4 335.5,251.4 337,251.4 338.5,251.5 340,251.7 341.5,251.8 343,251.9 344.5,252 346,252.1 347.5,252.1 349,252.2 350.5,252.3 352,252.3 353.5,252.4 355,252.4 356.5,252.5 358,252.6 359.5,252.6 361,252.7 362.5,252.7 364,252.8 365.5,252.8 367,252.9 368.5,252.9 370,252.9 371.5,253 373,253 374.5,253 376,253 377.5,252.9 379,252.9 380.5,252.9 382,252.8 383.5,252.8 385,252.8 386.5,252.8 388,252.7 389.5,252.7 391,252.7 392.5,252.6 394,252.6 395.5,252.7 397,252.7 398.5,252.8 400,252.8 401.5,252.9 403,253 404.5,253 406,253.1 407.5,253.2 409,253.3 410.5,253.4 412,253.5 413.5,253.6 415,253.6 416.5,253.7 418,253.8 419.5,253.8 421,253.9 422.5,253.9 424,254 425.5,254 427,254.1 428.5,254.1 430,254.1 431.5,254.2 433,254.2 434.5,254.2 436,254.2 437.5,254.3 439,254.3 440.5,254.3 442,254.4 443.5,254.4 445,254.4 446.5,254.4 448,254.4 449.5,254.4 451,254.4 452.5,254.4 454,254.4 455.5,254.4 457,254.4 458.5,254.4 460,254.4 461.5,254.4 463,254.4 464.5,254.4 466,254.4 467.5,254.4 469,254.4 470.5,254.4 472,254.4 473.5,254.4 475,254.3 476.5,254.1 478,253.9 479.5,253.8 481,253.6 482.5,253.4 484,253.2 485.5,253.1 487,252.9 488.5,252.7 490,252.5 491.5,252.4 493,252.2 494.5,252.1 496,252 497.5,251.9 499,251.8 500.5,251.6 502,251.7 503.5,251.7 505,251.8 506.5,252 508,252.1 509.5,252.2 511,252.4 512.5,252.5 514,252.6 515.5,252.7 517,252.8 518.5,252.9 520,252.9 521.5,253 523,253.1 524.5,253.1 526,253.2 527.5,253.3 529,253.3 530.5,253.4 532,253.4 533.5,253.4 535,253.4 536.5,253.4 538,253.4 539.5,253.4 541,253.4 542.5,253.4 544,253.4 545.5,253.4 547,253.5 548.5,253.5 550,253.5 551.5,253.5 553,253.5 554.5,253.5 556,253.6 557.5,253.6 559,253.6 560.5,253.6 562,253.6 563.5,253.6 565,253.6 566.5,253.7 568,253.7 569.5,253.7 571,253.7 572.5,253.7 574,253.7 575.5,253.7 577,253.8 578.5,253.8 580,253.8 581.5,253.8 583,253.8 584.5,253.8 586,253.9 587.5,253.9 589,253.9 590.5,253.9 592,253.9 593.5,253.9 595,253.9 596.5,254 598,254 599.5,254 601,254 602.5,254 604,254.1 605.5,254.1 607,254.1 608.5,254.2 610,254.2 611.5,254.2 613,254.3 614.5,254.3 616,254.4 617.5,254.4" fill="none" stroke="#0f57b8" stroke-width="1.9" stroke-linejoin="round" stroke-linecap="round"/>
</g>
<path d="M69.3 291.2V205.3H617.6" fill="none" stroke="#111" stroke-width="1.5" stroke-linejoin="miter"/>
<path d="M617.6 205.3V291.2" fill="none" stroke="#111" stroke-width="1.3"/>
<path d="M64 291.2H622.7" fill="none" stroke="#222" stroke-width="1.15"/>
<line x1="64" x2="69.3" y1="210.5" y2="210.5" stroke="#333" stroke-width="1"/>
<line x1="617.6" x2="622.7" y1="210.5" y2="210.5" stroke="#2a2a2a" stroke-width="1"/>
<text x="55.6" y="215" font-size="14.2" text-anchor="end">50</text>
<text x="631.2" y="215" font-size="14.2">50</text>
<line x1="64" x2="69.3" y1="237.4" y2="237.4" stroke="#333" stroke-width="1"/>
<line x1="617.6" x2="622.7" y1="237.4" y2="237.4" stroke="#2a2a2a" stroke-width="1"/>
<text x="55.6" y="241.9" font-size="14.2" text-anchor="end">25</text>
<text x="631.2" y="241.9" font-size="14.2">25</text>
<line x1="64" x2="69.3" y1="264.3" y2="264.3" stroke="#333" stroke-width="1"/>
<line x1="617.6" x2="622.7" y1="264.3" y2="264.3" stroke="#2a2a2a" stroke-width="1"/>
<text x="55.6" y="268.8" font-size="14.2" text-anchor="end">0</text>
<text x="631.2" y="268.8" font-size="14.2">0</text>
<line x1="64" x2="69.3" y1="291.2" y2="291.2" stroke="#333" stroke-width="1"/>
<line x1="617.6" x2="622.7" y1="291.2" y2="291.2" stroke="#2a2a2a" stroke-width="1"/>
<text x="55.6" y="295.7" font-size="14.2" text-anchor="end">-25</text>
<text x="631.2" y="295.7" font-size="14.2">-25</text>
<text x="79.2" y="221.3" font-size="14" textLength="11.4" lengthAdjust="spacingAndGlyphs">c)</text>
</g>
<g>
<clipPath id="cpd"><rect x="69.3" y="305.4" width="548.3000000000001" height="86.20000000000005"/></clipPath>
<g clip-path="url(#cpd)">
<polygon points="70,364.7 70,363.6 71.5,363.5 73,363.5 74.5,363.6 76,363.5 77.5,363.2 79,363.6 80.5,363.5 82,363.4 83.5,363.6 85,363.4 86.5,363.2 88,363.3 89.5,363.4 91,363.3 92.5,363.4 94,363.2 95.5,363.2 97,363.2 98.5,363.3 100,363 101.5,363.2 103,363.1 104.5,363.1 106,363.2 107.5,363.1 109,363.1 110.5,363.1 112,363 113.5,363.1 115,363 116.5,362.9 118,362.8 119.5,363 121,362.7 122.5,363.2 124,363 125.5,362.8 127,362.8 128.5,362.7 130,363 131.5,362.9 133,362.8 134.5,362.5 136,362.2 137.5,362.6 139,362.4 140.5,362.4 142,362.1 143.5,362.1 145,362 146.5,362.2 148,362 149.5,362 151,361.9 152.5,361.7 154,361.4 155.5,361.5 157,360.8 158.5,360.9 160,360.4 161.5,360.3 163,360.2 164.5,360 166,359.7 167.5,359.8 169,359.2 170.5,359.4 172,359.5 173.5,359.9 175,359.6 176.5,359.2 178,358.7 179.5,358 181,357.5 182.5,357.3 184,357.4 185.5,356.8 187,356.8 188.5,356.6 190,356.6 191.5,356.5 193,356.3 194.5,356.2 196,355.5 197.5,355 199,354.4 200.5,353.5 202,353.1 203.5,352.3 205,352 206.5,351.7 208,351.6 209.5,352.7 211,352.6 212.5,352.7 214,351.9 215.5,351.4 217,350.7 218.5,350.5 220,350.9 221.5,351.2 223,351.8 224.5,352.4 226,352.5 227.5,352.1 229,354.2 230.5,354.8 232,355.2 233.5,355.2 235,354.8 236.5,355.1 238,355.2 239.5,354.9 241,355 242.5,355.3 244,354.7 245.5,354.5 247,353.8 248.5,354 250,352.9 251.5,353.1 253,352.7 254.5,352.4 256,352.6 257.5,352.4 259,353.1 260.5,353.4 262,353.8 263.5,353.1 265,352.6 266.5,352.2 268,352.1 269.5,351.5 271,351.9 272.5,351.7 274,351.7 275.5,352.2 277,352.9 278.5,352.7 280,352.8 281.5,352.2 283,352.2 284.5,351.6 286,352 287.5,351.5 289,351.7 290.5,351.5 292,351.8 293.5,350.6 295,351.3 296.5,351.5 298,351.8 299.5,352.5 301,353.3 302.5,354 304,353.3 305.5,353 307,352.2 308.5,351.5 310,351.1 311.5,351 313,350.8 314.5,350.4 316,350.2 317.5,350.4 319,349.6 320.5,349.5 322,349.4 323.5,349.3 325,349.4 326.5,348.3 328,350 329.5,351.6 331,353.8 332.5,355.7 334,356.7 335.5,357.1 337,357.1 338.5,357.3 340,356.8 341.5,356.4 343,356.3 344.5,355.3 346,353.5 347.5,351.5 349,349.7 350.5,348.4 352,348.1 353.5,347.9 355,347.7 356.5,347.2 358,347.5 359.5,347.8 361,349 362.5,348.5 364,346.9 365.5,344.9 367,343.7 368.5,342.3 370,342.6 371.5,343.1 373,343.5 374.5,345.5 376,347.9 377.5,350.6 379,350.5 380.5,349.8 382,349 383.5,348.2 385,347.3 386.5,346.4 388,346.6 389.5,345.9 391,346.4 392.5,347.6 394,348.5 395.5,349.1 397,350 398.5,350.8 400,351.8 401.5,352.9 403,353.5 404.5,355.1 406,354.8 407.5,353.9 409,353.9 410.5,353.9 412,354 413.5,353.4 415,354.4 416.5,355.5 418,356.2 419.5,355.5 421,355.4 422.5,355 424,354.6 425.5,354.5 427,354.8 428.5,354.7 430,354.5 431.5,354 433,355.2 434.5,355.2 436,355.7 437.5,355.1 439,355.9 440.5,355.6 442,354.8 443.5,354.5 445,354.9 446.5,354.2 448,354.3 449.5,354.2 451,354.4 452.5,354.7 454,353.6 455.5,354.3 457,354 458.5,353.9 460,353.4 461.5,353.7 463,353.5 464.5,353.1 466,352.9 467.5,352.9 469,352.7 470.5,352.5 472,352.5 473.5,352.5 475,352.4 476.5,352.2 478,352.4 479.5,352.8 481,353.3 482.5,353.5 484,353.5 485.5,353.4 487,353.6 488.5,353.6 490,353.6 491.5,353.3 493,353.3 494.5,353 496,352.7 497.5,352.9 499,352.9 500.5,352.9 502,353.4 503.5,353.7 505,355.5 506.5,357.5 508,358.9 509.5,359.4 511,360.2 512.5,360 514,360.5 515.5,360.7 517,360.7 518.5,361.1 520,360.9 521.5,360.8 523,361.6 524.5,361.5 526,361.4 527.5,361.7 529,362.3 530.5,362.4 532,362.4 533.5,362.7 535,362.9 536.5,362.7 538,362.7 539.5,362.9 541,362.8 542.5,362.9 544,362.9 545.5,362.9 547,363 548.5,363.2 550,363.2 551.5,363.1 553,363.4 554.5,363.2 556,363.3 557.5,363.3 559,363.2 560.5,363.4 562,363.2 563.5,363.2 565,363.3 566.5,363.3 568,363.3 569.5,363.4 571,363.2 572.5,363.3 574,363.2 575.5,363.2 577,363.5 578.5,363.2 580,363.2 581.5,363.3 583,363.3 584.5,363.4 586,363.2 587.5,363.5 589,363.4 590.5,363.4 592,363.1 593.5,363.6 595,363.4 596.5,363.3 598,363.2 599.5,363.2 601,363.3 602.5,363.5 604,363.4 605.5,363.3 607,363.2 608.5,363.2 610,363.2 611.5,363.2 613,363.1 614.5,363.3 616,363 617.5,362.9 617.5,364.7" fill="#2bdaf3"/>
<polygon points="70,364.7 70,364.9 71.5,364.9 73,365 74.5,364.9 76,364.9 77.5,364.9 79,364.9 80.5,365 82,364.9 83.5,365 85,365 86.5,365 88,365 89.5,364.9 91,365 92.5,365 94,365.1 95.5,365.1 97,365 98.5,365 100,365 101.5,365.1 103,365 104.5,365 106,365 107.5,365.1 109,365.1 110.5,365.1 112,365 113.5,365.1 115,365 116.5,365.1 118,365.1 119.5,365.1 121,365.1 122.5,365.1 124,365.1 125.5,365.2 127,365 128.5,365.1 130,365.1 131.5,365.1 133,365.1 134.5,365.1 136,365.2 137.5,365.1 139,365.1 140.5,365.1 142,365.1 143.5,365.1 145,365.1 146.5,365.5 148,366.1 149.5,366.5 151,366.7 152.5,366.7 154,366.9 155.5,366.8 157,367.1 158.5,366.7 160,367.1 161.5,366.8 163,367 164.5,366.8 166,367.1 167.5,366.5 169,367.3 170.5,368.2 172,368.6 173.5,369.4 175,369.9 176.5,370.6 178,369.7 179.5,369.8 181,369 182.5,368.5 184,369.1 185.5,369.2 187,368.4 188.5,367.7 190,368.8 191.5,369.9 193,370.9 194.5,373 196,373.2 197.5,373.5 199,372.9 200.5,373.8 202,372.6 203.5,373.8 205,374.8 206.5,373.8 208,374.4 209.5,373.8 211,372.6 212.5,374.7 214,375.1 215.5,375.5 217,375.6 218.5,376.9 220,375.8 221.5,373.8 223,373.6 224.5,374.5 226,373.8 227.5,373 229,372.1 230.5,374.2 232,374.2 233.5,376.1 235,374 236.5,373.5 238,376.8 239.5,375.8 241,373.8 242.5,371 244,370.1 245.5,374.2 247,376.6 248.5,376.9 250,377.5 251.5,375.9 253,375.9 254.5,375.7 256,376.2 257.5,376.1 259,375.3 260.5,373.3 262,376.1 263.5,376.7 265,380 266.5,378.8 268,378.6 269.5,378.2 271,378.4 272.5,378.5 274,377.3 275.5,379.5 277,377.2 278.5,378 280,381.6 281.5,380.3 283,381 284.5,379.1 286,380.5 287.5,380.1 289,382.5 290.5,379.9 292,380.6 293.5,379.9 295,384 296.5,382.9 298,382.2 299.5,381.4 301,379.4 302.5,378.9 304,374.9 305.5,378.9 307,380.1 308.5,381.9 310,381 311.5,380.4 313,379.3 314.5,380.9 316,382 317.5,380.2 319,377.8 320.5,378.9 322,378.6 323.5,378 325,368.1 326.5,368.3 328,369.1 329.5,369.1 331,369.7 332.5,371.2 334,373.5 335.5,372.6 337,371.8 338.5,373.6 340,374.8 341.5,373.4 343,373.7 344.5,374.2 346,375.6 347.5,378.4 349,378 350.5,379.9 352,378.2 353.5,378.4 355,380.1 356.5,379.2 358,380.4 359.5,381.6 361,381.7 362.5,382.4 364,382 365.5,381.3 367,384.1 368.5,383.5 370,382.3 371.5,381.6 373,380.7 374.5,383.4 376,381.2 377.5,376.6 379,375.8 380.5,376.1 382,381 383.5,382.1 385,380.7 386.5,382.3 388,382.6 389.5,381.5 391,381.3 392.5,379.3 394,378.5 395.5,380 397,381.1 398.5,379.9 400,375.8 401.5,374.6 403,369.1 404.5,374.8 406,375.7 407.5,378.3 409,378.6 410.5,376.3 412,375.9 413.5,375.2 415,373.6 416.5,375.4 418,376.3 419.5,374.4 421,374.1 422.5,374.4 424,374.1 425.5,375.2 427,373.6 428.5,372.7 430,373.3 431.5,374.4 433,374.3 434.5,370.3 436,371.3 437.5,372.8 439,373.6 440.5,375.6 442,375.1 443.5,374.2 445,372.9 446.5,370.7 448,371.6 449.5,373.2 451,373.4 452.5,371.9 454,372.6 455.5,373.4 457,374.1 458.5,372.7 460,372.4 461.5,372.7 463,373.3 464.5,375.3 466,375.1 467.5,374.6 469,374.8 470.5,374.6 472,374.8 473.5,372.2 475,374.4 476.5,373.7 478,372.9 479.5,370.7 481,369.9 482.5,370.7 484,372.6 485.5,373.7 487,373 488.5,371.7 490,370 491.5,370.9 493,369.7 494.5,373.4 496,373 497.5,372.7 499,373 500.5,372.7 502,372.4 503.5,372.7 505,372.7 506.5,372.9 508,372.5 509.5,372.3 511,372.1 512.5,370.3 514,370.1 515.5,371.6 517,372.2 518.5,370.5 520,369.4 521.5,369.4 523,368.6 524.5,370.3 526,370.6 527.5,370.1 529,369.5 530.5,369.2 532,369 533.5,368.1 535,365.8 536.5,366.8 538,367.2 539.5,366.8 541,366.3 542.5,366.7 544,366.6 545.5,366.7 547,366.4 548.5,366 550,365.7 551.5,366.9 553,366.6 554.5,366.6 556,366.7 557.5,367.1 559,368.1 560.5,368.3 562,367.5 563.5,367 565,366.7 566.5,366.6 568,366.5 569.5,367.1 571,366.8 572.5,367.2 574,366 575.5,366.5 577,367.3 578.5,366.8 580,367 581.5,366.3 583,365.7 584.5,366.4 586,366.5 587.5,366.3 589,367.3 590.5,367 592,367.5 593.5,366.5 595,366.2 596.5,366.2 598,366.5 599.5,366.8 601,366.3 602.5,365.8 604,366.1 605.5,366.3 607,366.4 608.5,366.4 610,366 611.5,366.2 613,366.5 614.5,366.8 616,366.7 617.5,366 617.5,364.7" fill="#cdf9cd"/>
<polygon points="70,364.7 70,363.8 71.5,363.7 73,363.8 74.5,363.8 76,363.7 77.5,363.4 79,363.7 80.5,363.7 82,363.5 83.5,363.9 85,363.6 86.5,363.5 88,363.6 89.5,363.7 91,363.6 92.5,363.7 94,363.6 95.5,363.6 97,363.6 98.5,363.6 100,363.3 101.5,363.5 103,363.4 104.5,363.5 106,363.5 107.5,363.4 109,363.5 110.5,363.5 112,363.4 113.5,363.5 115,363.3 116.5,363.3 118,363.2 119.5,363.4 121,363.1 122.5,363.6 124,363.3 125.5,363.2 127,363.2 128.5,363 130,363.4 131.5,363.2 133,363.2 134.5,362.9 136,362.7 137.5,363 139,362.8 140.5,362.8 142,362.5 143.5,362.5 145,362.4 146.5,363 148,363.4 149.5,363.9 151,363.9 152.5,363.6 154,363.5 155.5,363.6 157,363.2 158.5,362.8 160,362.7 161.5,362.4 163,362.6 164.5,362.1 166,362.1 167.5,361.6 169,361.8 170.5,362.8 172,363.5 173.5,364.7 175,364.8 176.5,365.1 178,363.7 179.5,363.1 181,361.8 182.5,361.2 184,361.8 185.5,361.3 187,360.5 188.5,359.6 190,360.7 191.5,361.8 193,362.5 194.5,364.5 196,364 197.5,363.8 199,362.6 200.5,362.6 202,361 203.5,361.4 205,362.1 206.5,360.8 208,361.3 209.5,361.8 211,360.5 212.5,362.8 214,362.3 215.5,362.2 217,361.6 218.5,362.7 220,362 221.5,360.4 223,360.7 224.5,362.2 226,361.6 227.5,360.3 229,361.7 230.5,364.4 232,364.7 233.5,366.6 235,364 236.5,363.9 238,367.4 239.5,366.1 241,364.1 242.5,361.7 244,360.1 245.5,364 247,365.7 248.5,366.1 250,365.7 251.5,364.3 253,363.9 254.5,363.4 256,364.1 257.5,363.8 259,363.7 260.5,362 262,365.2 263.5,365.1 265,367.9 266.5,366.3 268,366 269.5,365 271,365.6 272.5,365.5 274,364.2 275.5,366.9 277,365.4 278.5,366.1 280,369.7 281.5,367.9 283,368.5 284.5,366 286,367.9 287.5,366.9 289,369.4 290.5,366.6 292,367.6 293.5,365.8 295,370.6 296.5,369.7 298,369.3 299.5,369.2 301,367.9 302.5,368.2 304,363.5 305.5,367.3 307,367.6 308.5,368.7 310,367.4 311.5,366.7 313,365.4 314.5,366.6 316,367.5 317.5,365.9 319,362.7 320.5,363.7 322,363.2 323.5,362.6 325,352.8 326.5,352 328,354.3 329.5,356 331,358.8 332.5,362.2 334,365.5 335.5,365.1 337,364.2 338.5,366.3 340,366.8 341.5,365.1 343,365.3 344.5,364.9 346,364.4 347.5,365.2 349,362.9 350.5,363.6 352,361.6 353.5,361.6 355,363.1 356.5,361.7 358,363.3 359.5,364.8 361,366 362.5,366.2 364,364.2 365.5,361.5 367,363.1 368.5,361.1 370,360.2 371.5,360 373,359.5 374.5,364.2 376,364.5 377.5,362.5 379,361.6 380.5,361.3 382,365.3 383.5,365.6 385,363.2 386.5,363.9 388,364.5 389.5,362.7 391,362.9 392.5,362.1 394,362.4 395.5,364.4 397,366.4 398.5,366 400,362.9 401.5,362.9 403,357.9 404.5,365.3 406,365.8 407.5,367.5 409,367.8 410.5,365.5 412,365.2 413.5,363.9 415,363.3 416.5,366.2 418,367.8 419.5,365.1 421,364.8 422.5,364.8 424,364 425.5,365 427,363.7 428.5,362.7 430,363.1 431.5,363.7 433,364.8 434.5,360.7 436,362.3 437.5,363.2 439,364.8 440.5,366.5 442,365.3 443.5,364 445,363.2 446.5,360.1 448,361.3 449.5,362.8 451,363.1 452.5,361.9 454,361.5 455.5,363 457,363.4 458.5,362 460,361.1 461.5,361.7 463,362.2 464.5,363.6 466,363.3 467.5,362.8 469,362.8 470.5,362.4 472,362.5 473.5,360 475,362.1 476.5,361.2 478,360.6 479.5,358.8 481,358.5 482.5,359.6 484,361.4 485.5,362.4 487,361.9 488.5,360.6 490,358.9 491.5,359.5 493,358.3 494.5,361.7 496,361 497.5,360.8 499,361.2 500.5,360.9 502,361.1 503.5,361.7 505,363.5 506.5,365.6 508,366.7 509.5,367 511,367.6 512.5,365.6 514,365.9 515.5,367.6 517,368.1 518.5,366.8 520,365.6 521.5,365.5 523,365.5 524.5,367.1 526,367.3 527.5,367.2 529,367.1 530.5,366.9 532,366.7 533.5,366.1 535,364 536.5,364.8 538,365.2 539.5,365 541,364.4 542.5,365 544,364.8 545.5,364.9 547,364.7 548.5,364.5 550,364.2 551.5,365.3 553,365.3 554.5,365.1 556,365.3 557.5,365.7 559,366.7 560.5,367 562,366 563.5,365.5 565,365.3 566.5,365.2 568,365 569.5,365.8 571,365.4 572.5,365.8 574,364.6 575.5,365 577,366 578.5,365.3 580,365.5 581.5,364.9 583,364.3 584.5,365 586,365 587.5,365.1 589,366 590.5,365.7 592,365.8 593.5,365.4 595,364.9 596.5,364.8 598,365 599.5,365.3 601,364.9 602.5,364.7 604,364.8 605.5,364.9 607,364.9 608.5,364.9 610,364.4 611.5,364.6 613,364.9 614.5,365.4 616,365 617.5,364.2 617.5,364.7" fill="#0aa8c0"/>
<polyline points="70,364.9 71.5,364.9 73,365 74.5,364.9 76,364.9 77.5,364.9 79,364.9 80.5,365 82,364.9 83.5,365 85,365 86.5,365 88,365 89.5,364.9 91,365 92.5,365 94,365.1 95.5,365.1 97,365 98.5,365 100,365 101.5,365.1 103,365 104.5,365 106,365 107.5,365.1 109,365.1 110.5,365.1 112,365 113.5,365.1 115,365 116.5,365.1 118,365.1 119.5,365.1 121,365.1 122.5,365.1 124,365.1 125.5,365.2 127,365 128.5,365.1 130,365.1 131.5,365.1 133,365.1 134.5,365.1 136,365.2 137.5,365.1 139,365.1 140.5,365.1 142,365.1 143.5,365.1 145,365.1 146.5,365.5 148,366.1 149.5,366.5 151,366.7 152.5,366.7 154,366.9 155.5,366.8 157,367.1 158.5,366.7 160,367.1 161.5,366.8 163,367 164.5,366.8 166,367.1 167.5,366.5 169,367.3 170.5,368.2 172,368.6 173.5,369.4 175,369.9 176.5,370.6 178,369.7 179.5,369.8 181,369 182.5,368.5 184,369.1 185.5,369.2 187,368.4 188.5,367.7 190,368.8 191.5,369.9 193,370.9 194.5,373 196,373.2 197.5,373.5 199,372.9 200.5,373.8 202,372.6 203.5,373.8 205,374.8 206.5,373.8 208,374.4 209.5,373.8 211,372.6 212.5,374.7 214,375.1 215.5,375.5 217,375.6 218.5,376.9 220,375.8 221.5,373.8 223,373.6 224.5,374.5 226,373.8 227.5,373 229,372.1 230.5,374.2 232,374.2 233.5,376.1 235,374 236.5,373.5 238,376.8 239.5,375.8 241,373.8 242.5,371 244,370.1 245.5,374.2 247,376.6 248.5,376.9 250,377.5 251.5,375.9 253,375.9 254.5,375.7 256,376.2 257.5,376.1 259,375.3 260.5,373.3 262,376.1 263.5,376.7 265,380 266.5,378.8 268,378.6 269.5,378.2 271,378.4 272.5,378.5 274,377.3 275.5,379.5 277,377.2 278.5,378 280,381.6 281.5,380.3 283,381 284.5,379.1 286,380.5 287.5,380.1 289,382.5 290.5,379.9 292,380.6 293.5,379.9 295,384 296.5,382.9 298,382.2 299.5,381.4 301,379.4 302.5,378.9 304,374.9 305.5,378.9 307,380.1 308.5,381.9 310,381 311.5,380.4 313,379.3 314.5,380.9 316,382 317.5,380.2 319,377.8 320.5,378.9 322,378.6 323.5,378 325,368.1 326.5,368.3 328,369.1 329.5,369.1 331,369.7 332.5,371.2 334,373.5 335.5,372.6 337,371.8 338.5,373.6 340,374.8 341.5,373.4 343,373.7 344.5,374.2 346,375.6 347.5,378.4 349,378 350.5,379.9 352,378.2 353.5,378.4 355,380.1 356.5,379.2 358,380.4 359.5,381.6 361,381.7 362.5,382.4 364,382 365.5,381.3 367,384.1 368.5,383.5 370,382.3 371.5,381.6 373,380.7 374.5,383.4 376,381.2 377.5,376.6 379,375.8 380.5,376.1 382,381 383.5,382.1 385,380.7 386.5,382.3 388,382.6 389.5,381.5 391,381.3 392.5,379.3 394,378.5 395.5,380 397,381.1 398.5,379.9 400,375.8 401.5,374.6 403,369.1 404.5,374.8 406,375.7 407.5,378.3 409,378.6 410.5,376.3 412,375.9 413.5,375.2 415,373.6 416.5,375.4 418,376.3 419.5,374.4 421,374.1 422.5,374.4 424,374.1 425.5,375.2 427,373.6 428.5,372.7 430,373.3 431.5,374.4 433,374.3 434.5,370.3 436,371.3 437.5,372.8 439,373.6 440.5,375.6 442,375.1 443.5,374.2 445,372.9 446.5,370.7 448,371.6 449.5,373.2 451,373.4 452.5,371.9 454,372.6 455.5,373.4 457,374.1 458.5,372.7 460,372.4 461.5,372.7 463,373.3 464.5,375.3 466,375.1 467.5,374.6 469,374.8 470.5,374.6 472,374.8 473.5,372.2 475,374.4 476.5,373.7 478,372.9 479.5,370.7 481,369.9 482.5,370.7 484,372.6 485.5,373.7 487,373 488.5,371.7 490,370 491.5,370.9 493,369.7 494.5,373.4 496,373 497.5,372.7 499,373 500.5,372.7 502,372.4 503.5,372.7 505,372.7 506.5,372.9 508,372.5 509.5,372.3 511,372.1 512.5,370.3 514,370.1 515.5,371.6 517,372.2 518.5,370.5 520,369.4 521.5,369.4 523,368.6 524.5,370.3 526,370.6 527.5,370.1 529,369.5 530.5,369.2 532,369 533.5,368.1 535,365.8 536.5,366.8 538,367.2 539.5,366.8 541,366.3 542.5,366.7 544,366.6 545.5,366.7 547,366.4 548.5,366 550,365.7 551.5,366.9 553,366.6 554.5,366.6 556,366.7 557.5,367.1 559,368.1 560.5,368.3 562,367.5 563.5,367 565,366.7 566.5,366.6 568,366.5 569.5,367.1 571,366.8 572.5,367.2 574,366 575.5,366.5 577,367.3 578.5,366.8 580,367 581.5,366.3 583,365.7 584.5,366.4 586,366.5 587.5,366.3 589,367.3 590.5,367 592,367.5 593.5,366.5 595,366.2 596.5,366.2 598,366.5 599.5,366.8 601,366.3 602.5,365.8 604,366.1 605.5,366.3 607,366.4 608.5,366.4 610,366 611.5,366.2 613,366.5 614.5,366.8 616,366.7 617.5,366" fill="none" stroke="#218a40" stroke-width="1.35" stroke-linejoin="miter"/>
<line x1="69.3" x2="617.6" y1="364.4" y2="364.4" stroke="#000" stroke-width="2.3"/>
<polyline points="70,364.3 71.5,364.3 73,364.2 74.5,364.2 76,364.2 77.5,364.1 79,364.1 80.5,364.1 82,364.1 83.5,364 85,364 86.5,364 88,363.9 89.5,363.9 91,363.9 92.5,363.8 94,363.8 95.5,363.8 97,363.8 98.5,363.7 100,363.7 101.5,363.7 103,363.6 104.5,363.6 106,363.6 107.5,363.6 109,363.5 110.5,363.5 112,363.4 113.5,363.4 115,363.3 116.5,363.3 118,363.3 119.5,363.2 121,363.2 122.5,363.1 124,363.1 125.5,363 127,363 128.5,362.9 130,362.9 131.5,362.9 133,362.8 134.5,362.8 136,362.7 137.5,362.7 139,362.6 140.5,362.6 142,362.5 143.5,362.5 145,362.4 146.5,362.4 148,362.4 149.5,362.3 151,362.2 152.5,362.1 154,362.1 155.5,362 157,361.9 158.5,361.8 160,361.7 161.5,361.6 163,361.5 164.5,361.4 166,361.3 167.5,361.2 169,361.2 170.5,361.1 172,360.9 173.5,360.8 175,360.7 176.5,360.6 178,360.5 179.5,360.3 181,360.2 182.5,360.1 184,360 185.5,359.9 187,359.7 188.5,359.6 190,359.5 191.5,359.3 193,359.2 194.5,359.1 196,358.9 197.5,358.8 199,358.6 200.5,358.5 202,358.5 203.5,358.5 205,358.5 206.5,358.5 208,358.5 209.5,358.4 211,358.4 212.5,358.4 214,358.4 215.5,358.3 217,358.3 218.5,358.2 220,358.1 221.5,357.9 223,357.8 224.5,357.7 226,357.6 227.5,357.5 229,357.5 230.5,357.4 232,357.4 233.5,357.4 235,357.3 236.5,357.3 238,357.3 239.5,357.4 241,357.5 242.5,357.5 244,357.6 245.5,357.6 247,357.7 248.5,357.8 250,357.8 251.5,357.9 253,357.9 254.5,358 256,358.1 257.5,358.1 259,358.1 260.5,358.2 262,358.2 263.5,358.2 265,358.3 266.5,358.3 268,358.3 269.5,358.4 271,358.5 272.5,358.5 274,358.6 275.5,358.6 277,358.7 278.5,358.8 280,358.9 281.5,359.1 283,359.2 284.5,359.3 286,359.4 287.5,359.5 289,359.7 290.5,359.8 292,359.9 293.5,360 295,360.1 296.5,360.3 298,360.4 299.5,360.6 301,360.7 302.5,360.8 304,361 305.5,361.1 307,361.3 308.5,361.4 310,361.5 311.5,361.6 313,361.7 314.5,361.8 316,361.8 317.5,361.9 319,361.9 320.5,361.9 322,361.9 323.5,361.9 325,361.9 326.5,361.5 328,361.1 329.5,360.7 331,360.3 332.5,360.2 334,360.1 335.5,360 337,359.9 338.5,359.9 340,359.8 341.5,359.8 343,359.7 344.5,359.7 346,359.6 347.5,359.5 349,359.4 350.5,359.3 352,359.2 353.5,359.1 355,359.1 356.5,359 358,358.9 359.5,358.9 361,358.8 362.5,358.8 364,358.7 365.5,358.6 367,358.6 368.5,358.5 370,358.5 371.5,358.4 373,358.3 374.5,358.3 376,358.2 377.5,358.2 379,358.1 380.5,358 382,358 383.5,357.9 385,357.8 386.5,357.8 388,357.7 389.5,357.6 391,357.5 392.5,357.4 394,357.3 395.5,357.3 397,357.2 398.5,357.2 400,357.2 401.5,357.1 403,357.1 404.5,357.1 406,357.1 407.5,357.2 409,357.2 410.5,357.2 412,357.3 413.5,357.3 415,357.3 416.5,357.3 418,357.4 419.5,357.4 421,357.4 422.5,357.5 424,357.5 425.5,357.4 427,357.4 428.5,357.3 430,357.3 431.5,357.2 433,357.1 434.5,357.1 436,357 437.5,357 439,356.9 440.5,356.8 442,356.8 443.5,356.7 445,356.7 446.5,356.6 448,356.5 449.5,356.5 451,356.4 452.5,356.4 454,356.3 455.5,356.2 457,356.2 458.5,356.1 460,356.1 461.5,356 463,355.9 464.5,355.9 466,355.8 467.5,355.8 469,355.7 470.5,355.6 472,355.6 473.5,355.5 475,355.4 476.5,355.4 478,355.3 479.5,355.2 481,355.1 482.5,354.9 484,354.7 485.5,354.5 487,354.3 488.5,354.1 490,353.8 491.5,353.7 493,353.5 494.5,353.4 496,353.3 497.5,353.2 499,353.1 500.5,352.9 502,353 503.5,353.1 505,353.1 506.5,353.2 508,353.3 509.5,353.4 511,353.5 512.5,353.6 514,353.7 515.5,353.8 517,353.9 518.5,353.9 520,354 521.5,354.1 523,354.2 524.5,354.2 526,354.3 527.5,354.4 529,354.4 530.5,354.5 532,354.5 533.5,354.5 535,354.5 536.5,354.5 538,354.5 539.5,354.5 541,354.5 542.5,354.5 544,354.5 545.5,354.5 547,354.6 548.5,354.6 550,354.6 551.5,354.6 553,354.6 554.5,354.6 556,354.6 557.5,354.7 559,354.7 560.5,354.7 562,354.7 563.5,354.8 565,354.8 566.5,354.8 568,354.8 569.5,354.9 571,354.9 572.5,354.9 574,355 575.5,355 577,355 578.5,355.1 580,355.1 581.5,355.1 583,355.1 584.5,355.2 586,355.2 587.5,355.2 589,355.3 590.5,355.3 592,355.3 593.5,355.3 595,355.4 596.5,355.4 598,355.4 599.5,355.5 601,355.5 602.5,355.5 604,355.6 605.5,355.6 607,355.6 608.5,355.7 610,355.7 611.5,355.7 613,355.8 614.5,355.8 616,355.9 617.5,355.9" fill="none" stroke="#0f57b8" stroke-width="1.9" stroke-linejoin="round" stroke-linecap="round"/>
</g>
<path d="M69.3 391.6V305.4H617.6" fill="none" stroke="#111" stroke-width="1.5" stroke-linejoin="miter"/>
<path d="M617.6 305.4V391.6" fill="none" stroke="#111" stroke-width="1.3"/>
<path d="M64 391.6H622.7" fill="none" stroke="#222" stroke-width="1.15"/>
<line x1="64" x2="69.3" y1="311.0" y2="311.0" stroke="#333" stroke-width="1"/>
<line x1="617.6" x2="622.7" y1="311.0" y2="311.0" stroke="#2a2a2a" stroke-width="1"/>
<text x="55.6" y="315.5" font-size="14.2" text-anchor="end">50</text>
<text x="631.2" y="315.5" font-size="14.2">50</text>
<line x1="64" x2="69.3" y1="337.9" y2="337.9" stroke="#333" stroke-width="1"/>
<line x1="617.6" x2="622.7" y1="337.9" y2="337.9" stroke="#2a2a2a" stroke-width="1"/>
<text x="55.6" y="342.4" font-size="14.2" text-anchor="end">25</text>
<text x="631.2" y="342.4" font-size="14.2">25</text>
<line x1="64" x2="69.3" y1="364.7" y2="364.7" stroke="#333" stroke-width="1"/>
<line x1="617.6" x2="622.7" y1="364.7" y2="364.7" stroke="#2a2a2a" stroke-width="1"/>
<text x="55.6" y="369.2" font-size="14.2" text-anchor="end">0</text>
<text x="631.2" y="369.2" font-size="14.2">0</text>
<line x1="64" x2="69.3" y1="391.6" y2="391.6" stroke="#333" stroke-width="1"/>
<line x1="617.6" x2="622.7" y1="391.6" y2="391.6" stroke="#2a2a2a" stroke-width="1"/>
<text x="55.6" y="396.1" font-size="14.2" text-anchor="end">-25</text>
<text x="631.2" y="396.1" font-size="14.2">-25</text>
<text x="78.6" y="321.4" font-size="14" textLength="12.4" lengthAdjust="spacingAndGlyphs">d)</text>
</g>
<g>
<clipPath id="cpe"><rect x="69.3" y="409.4" width="548.3000000000001" height="86.20000000000005"/></clipPath>
<g clip-path="url(#cpe)">
<polygon points="70,444.9 70,443.9 71.5,443.9 73,443.9 74.5,443.9 76,443.9 77.5,444.1 79,444 80.5,443.9 82,444 83.5,444.2 85,444 86.5,444.1 88,444.1 89.5,444 91,444 92.5,444.1 94,444.1 95.5,444 97,444 98.5,444 100,444 101.5,443.9 103,444.1 104.5,444.1 106,444 107.5,444 109,444.1 110.5,444 112,443.9 113.5,443.8 115,444 116.5,443.8 118,443.8 119.5,443.8 121,443.7 122.5,443.8 124,443.8 125.5,443.6 127,443.8 128.5,443.6 130,443.6 131.5,443.4 133,443.5 134.5,443.3 136,443.1 137.5,443 139,443.2 140.5,442.9 142,442.9 143.5,442.8 145,442.6 146.5,442.9 148,442.5 149.5,442.2 151,442.4 152.5,442.3 154,442.1 155.5,441.9 157,442 158.5,441.6 160,441.8 161.5,441.3 163,441.2 164.5,440.9 166,440.6 167.5,440.2 169,440.3 170.5,440.1 172,440.6 173.5,440.4 175,440.6 176.5,440.4 178,439.8 179.5,439 181,438.6 182.5,438 184,437 185.5,436.3 187,436.3 188.5,436.8 190,437.1 191.5,437.1 193,437.6 194.5,437.8 196,437.1 197.5,436.4 199,435.2 200.5,434.6 202,434 203.5,433.2 205,432.7 206.5,432.4 208,432.6 209.5,433.5 211,434.1 212.5,434.7 214,433.8 215.5,433 217,432.9 218.5,432.1 220,432.6 221.5,433.2 223,433.8 224.5,433.9 226,434.7 227.5,434.9 229,435.7 230.5,436.4 232,436.4 233.5,436.9 235,436.7 236.5,437 238,437.2 239.5,436.9 241,437 242.5,436.8 244,436.8 245.5,436 247,435.5 248.5,435.4 250,434.4 251.5,434.3 253,434.1 254.5,433.5 256,433 257.5,432.9 259,432.3 260.5,432.8 262,432.8 263.5,432.1 265,431.7 266.5,429.6 268,429.1 269.5,429.4 271,429.6 272.5,428.8 274,429.4 275.5,430.2 277,430.1 278.5,430.7 280,430.7 281.5,430.2 283,430.2 284.5,428.8 286,428.6 287.5,428 289,426.7 290.5,425.9 292,425.7 293.5,425.2 295,426.3 296.5,425.5 298,425.8 299.5,426.3 301,426.7 302.5,428 304,428.5 305.5,429.5 307,428.9 308.5,427.4 310,426.8 311.5,426.5 313,425.8 314.5,426.2 316,425.1 317.5,425.8 319,425.8 320.5,427.6 322,425.9 323.5,425.3 325,424.9 326.5,424.5 328,423.7 329.5,424.2 331,424.2 332.5,424.7 334,425 335.5,425.6 337,425.6 338.5,425.2 340,425.7 341.5,425.9 343,426.8 344.5,426.5 346,425.8 347.5,425.6 349,425.4 350.5,424.4 352,425.4 353.5,424.8 355,424.8 356.5,426 358,426.7 359.5,427.2 361,427.2 362.5,427.5 364,427 365.5,425.6 367,426 368.5,425 370,424.8 371.5,425.7 373,426.3 374.5,426.5 376,426.9 377.5,427.8 379,428 380.5,428.5 382,427.2 383.5,426.7 385,425.4 386.5,424.3 388,423.7 389.5,424.2 391,423.5 392.5,424.3 394,424.8 395.5,426 397,426.5 398.5,427.4 400,428 401.5,428.2 403,430.1 404.5,429.3 406,427.9 407.5,426.5 409,424.8 410.5,425.8 412,425 413.5,426.3 415,426.1 416.5,427.4 418,427.9 419.5,428.8 421,428.4 422.5,426.8 424,425.8 425.5,425.3 427,425.5 428.5,425.8 430,426.3 431.5,426.5 433,427.5 434.5,429 436,430.1 437.5,430.7 439,430 440.5,429.5 442,428.2 443.5,428.9 445,429.1 446.5,429.9 448,429.7 449.5,430.9 451,431.3 452.5,431.5 454,432.3 455.5,432.3 457,432.1 458.5,432.1 460,431.9 461.5,432.5 463,432.5 464.5,432.7 466,432.7 467.5,432.6 469,432.1 470.5,431.8 472,431.6 473.5,432.2 475,432.1 476.5,433.4 478,438.1 479.5,438.1 481,437.7 482.5,437.9 484,437.6 485.5,437.7 487,437.4 488.5,437.5 490,437.1 491.5,436.9 493,437.3 494.5,437 496,437 497.5,436.9 499,437.2 500.5,437.1 502,437 503.5,437.3 505,436.5 506.5,436.2 508,436.7 509.5,436.1 511,436.4 512.5,436.3 514,437 515.5,436.9 517,437.1 518.5,437.8 520,437.8 521.5,438.5 523,438.5 524.5,438.6 526,438.9 527.5,439.5 529,439.7 530.5,439.4 532,439.8 533.5,440.4 535,440.7 536.5,440.5 538,440.8 539.5,440.8 541,440.9 542.5,441.4 544,441.3 545.5,441.5 547,441.8 548.5,441.8 550,441.6 551.5,441.9 553,442.2 554.5,442.1 556,442.4 557.5,442.4 559,442.2 560.5,442.3 562,442.3 563.5,442.4 565,442.4 566.5,442.4 568,442.5 569.5,442.9 571,442.5 572.5,442.8 574,443 575.5,442.9 577,443 578.5,443 580,443 581.5,442.8 583,442.9 584.5,443.1 586,442.7 587.5,442.8 589,442.8 590.5,442.7 592,442.6 593.5,442.9 595,442.5 596.5,442.7 598,442.7 599.5,442.7 601,442.7 602.5,442.7 604,442.5 605.5,442.4 607,442.7 608.5,442.7 610,442.6 611.5,442.7 613,442.5 614.5,442.7 616,442.4 617.5,442.8 617.5,444.9" fill="#2bdaf3"/>
<polygon points="70,444.9 70,445.1 71.5,445.1 73,445.1 74.5,445.1 76,445.1 77.5,445.1 79,445.1 80.5,445.1 82,445.2 83.5,445.1 85,445.1 86.5,445.1 88,445.1 89.5,445.1 91,445.2 92.5,445.2 94,445.1 95.5,445.1 97,445.1 98.5,445.1 100,445.1 101.5,445.1 103,445.1 104.5,445.1 106,445.2 107.5,445.2 109,445.1 110.5,445.2 112,445.2 113.5,445.1 115,445.2 116.5,445.2 118,445.2 119.5,445.2 121,445.2 122.5,445.3 124,445.2 125.5,445.2 127,445.2 128.5,445.2 130,445.2 131.5,445.2 133,445.2 134.5,445.2 136,445.1 137.5,445.1 139,445.2 140.5,445.3 142,445.1 143.5,445.2 145,445.2 146.5,445.3 148,445.1 149.5,445.2 151,445.1 152.5,445.2 154,445.2 155.5,445.2 157,445.2 158.5,445.2 160,445.3 161.5,445.2 163,445.2 164.5,445.2 166,445.2 167.5,445.2 169,445.2 170.5,445.2 172,445.3 173.5,445.5 175,445.5 176.5,445.6 178,445.6 179.5,447 181,446.5 182.5,446.9 184,447 185.5,446.6 187,447 188.5,447.7 190,447.6 191.5,447.1 193,446.4 194.5,448.2 196,449.4 197.5,449 199,449.2 200.5,449.4 202,449.2 203.5,449.7 205,449 206.5,449.1 208,449.7 209.5,450.2 211,449.9 212.5,451.2 214,451.3 215.5,452.9 217,452 218.5,452.8 220,451.3 221.5,451.1 223,451.2 224.5,450.8 226,451.1 227.5,451 229,450.9 230.5,452.3 232,453.5 233.5,452.7 235,452.2 236.5,451.5 238,454.4 239.5,456.4 241,451.7 242.5,449.7 244,449 245.5,452.7 247,454.6 248.5,456.4 250,457.2 251.5,457.2 253,456.1 254.5,456.6 256,456.6 257.5,456.1 259,452.8 260.5,452.9 262,453.9 263.5,459.8 265,459.3 266.5,459.2 268,458.1 269.5,460.1 271,458.9 272.5,460 274,461.4 275.5,460.7 277,461.8 278.5,463.1 280,462.7 281.5,466.2 283,461.2 284.5,463.5 286,469.1 287.5,468.7 289,472 290.5,471.2 292,472.6 293.5,471.4 295,471.7 296.5,474.3 298,474.2 299.5,473.5 301,469.2 302.5,467.5 304,463.5 305.5,473.8 307,474.6 308.5,477.2 310,474.8 311.5,475.4 313,473.4 314.5,479.3 316,472.7 317.5,478.3 319,477.9 320.5,481.5 322,478.4 323.5,476.8 325,477.9 326.5,478.7 328,476.6 329.5,473.6 331,476.9 332.5,472.1 334,473.3 335.5,472.7 337,472.1 338.5,471.3 340,471.5 341.5,469.5 343,471.2 344.5,468.2 346,471.3 347.5,475.6 349,472.9 350.5,472.1 352,468.9 353.5,470.1 355,472.5 356.5,470.9 358,469.3 359.5,467.8 361,469.1 362.5,470.1 364,470.3 365.5,471.7 367,471.2 368.5,470 370,468.5 371.5,466.8 373,465.3 374.5,464.9 376,467.2 377.5,464.9 379,461.6 380.5,463.2 382,466.6 383.5,467.2 385,471.6 386.5,472.9 388,473.3 389.5,470.2 391,472.3 392.5,471.3 394,469.2 395.5,465.5 397,468.7 398.5,466.4 400,468 401.5,465.3 403,461.1 404.5,463.4 406,465.9 407.5,468.7 409,472.7 410.5,470.6 412,467.1 413.5,466.5 415,466 416.5,466.6 418,470.2 419.5,468.6 421,468.9 422.5,469.8 424,468.6 425.5,466.3 427,468.1 428.5,468.8 430,466 431.5,466.5 433,466.2 434.5,460.6 436,461.6 437.5,464.1 439,467.2 440.5,470 442,469.6 443.5,467.7 445,467.3 446.5,462.2 448,462.7 449.5,467 451,464.8 452.5,460.6 454,460.3 455.5,466.8 457,464.9 458.5,462.7 460,463 461.5,464.2 463,464 464.5,461.3 466,464.5 467.5,464.2 469,464.6 470.5,463.3 472,463.9 473.5,461.5 475,461.2 476.5,459.1 478,447.1 479.5,445.9 481,445.8 482.5,446.9 484,447.6 485.5,448.1 487,447.7 488.5,447 490,446.5 491.5,446.1 493,446.2 494.5,446.9 496,447.6 497.5,447.8 499,447.7 500.5,448 502,448.6 503.5,448.5 505,447.7 506.5,447.9 508,447.8 509.5,447.3 511,447.2 512.5,447.8 514,447 515.5,446.4 517,447 518.5,447.3 520,446.6 521.5,447.2 523,446.4 524.5,446.5 526,446.4 527.5,446.9 529,446.4 530.5,446.2 532,446.3 533.5,446.3 535,446.3 536.5,445.9 538,445.7 539.5,445.6 541,445.9 542.5,445.9 544,446.2 545.5,446.1 547,446.1 548.5,445.9 550,445.9 551.5,446.1 553,446.1 554.5,446.1 556,445.9 557.5,446.3 559,446.1 560.5,446.5 562,446.3 563.5,446.2 565,445.7 566.5,445.7 568,445.8 569.5,445.6 571,445.9 572.5,445.9 574,445.8 575.5,445.9 577,445.8 578.5,446 580,446.1 581.5,446.1 583,445.9 584.5,445.7 586,445.6 587.5,445.6 589,445.5 590.5,445.4 592,445.8 593.5,445.6 595,445.6 596.5,445.7 598,445.7 599.5,445.5 601,445.4 602.5,445.6 604,445.6 605.5,445.6 607,445.7 608.5,445.7 610,445.4 611.5,445.6 613,445.5 614.5,445.7 616,445.6 617.5,445.6 617.5,444.9" fill="#cdf9cd"/>
<polygon points="70,444.9 70,444.1 71.5,444.1 73,444.2 74.5,444.1 76,444.2 77.5,444.3 79,444.2 80.5,444.2 82,444.3 83.5,444.4 85,444.3 86.5,444.3 88,444.3 89.5,444.1 91,444.3 92.5,444.3 94,444.3 95.5,444.2 97,444.2 98.5,444.2 100,444.2 101.5,444.1 103,444.3 104.5,444.2 106,444.2 107.5,444.2 109,444.3 110.5,444.2 112,444.2 113.5,444 115,444.3 116.5,444.1 118,444.1 119.5,444.1 121,444 122.5,444.2 124,444.1 125.5,443.9 127,444.1 128.5,443.9 130,443.9 131.5,443.7 133,443.8 134.5,443.6 136,443.4 137.5,443.2 139,443.5 140.5,443.3 142,443.2 143.5,443.1 145,442.9 146.5,443.2 148,442.7 149.5,442.4 151,442.6 152.5,442.6 154,442.4 155.5,442.2 157,442.3 158.5,441.9 160,442.1 161.5,441.7 163,441.5 164.5,441.2 166,440.9 167.5,440.5 169,440.5 170.5,440.4 172,441 173.5,441 175,441.2 176.5,441.1 178,440.5 179.5,441.1 181,440.2 182.5,440 184,439.1 185.5,438 187,438.4 188.5,439.6 190,439.8 191.5,439.3 193,439.1 194.5,441.1 196,441.6 197.5,440.4 199,439.5 200.5,439 202,438.3 203.5,438.1 205,436.8 206.5,436.7 208,437.4 209.5,438.9 211,439.1 212.5,441 214,440.2 215.5,441 217,440 218.5,440 220,439 221.5,439.4 223,440.1 224.5,439.8 226,440.9 227.5,441 229,441.7 230.5,443.8 232,445 233.5,444.7 235,444 236.5,443.6 238,446.7 239.5,448.4 241,443.9 242.5,441.5 244,440.9 245.5,443.8 247,445.2 248.5,446.9 250,446.8 251.5,446.5 253,445.2 254.5,445.1 256,444.7 257.5,444.1 259,440.2 260.5,440.8 262,441.8 263.5,446.9 265,446.1 266.5,443.9 268,442.4 269.5,444.5 271,443.7 272.5,443.9 274,445.9 275.5,446 277,447 278.5,448.9 280,448.5 281.5,451.6 283,446.5 284.5,447.4 286,452.7 287.5,451.8 289,453.8 290.5,452.2 292,453.4 293.5,451.7 295,453 296.5,454.8 298,455.1 299.5,454.9 301,451 302.5,450.6 304,447.1 305.5,458.4 307,458.6 308.5,459.7 310,456.7 311.5,457 313,454.4 314.5,460.6 316,452.9 317.5,459.3 319,458.9 320.5,464.2 322,459.4 323.5,457.2 325,457.9 326.5,458.4 328,455.4 329.5,452.8 331,456.3 332.5,451.9 334,453.4 335.5,453.4 337,452.8 338.5,451.7 340,452.2 341.5,450.5 343,453.1 344.5,449.9 346,452.2 347.5,456.3 349,453.4 350.5,451.6 352,449.3 353.5,450 355,452.5 356.5,452 358,451 359.5,450.1 361,451.3 362.5,452.7 364,452.4 365.5,452.4 367,452.3 368.5,450.1 370,448.4 371.5,447.6 373,446.7 374.5,446.5 376,449.2 377.5,447.8 379,444.6 380.5,446.7 382,448.9 383.5,449 385,452.1 386.5,452.3 388,452.1 389.5,449.6 391,450.9 392.5,450.7 394,449.1 395.5,446.6 397,450.3 398.5,448.9 400,451.1 401.5,448.6 403,446.3 404.5,447.8 406,448.9 407.5,450.3 409,452.6 410.5,451.4 412,447.2 413.5,447.9 415,447.2 416.5,449.1 418,453.2 419.5,452.5 421,452.5 422.5,451.7 424,449.5 425.5,446.7 427,448.7 428.5,449.7 430,447.4 431.5,448.1 433,448.8 434.5,444.7 436,446.8 437.5,449.9 439,452.3 440.5,454.6 442,452.8 443.5,451.7 445,451.5 446.5,447.2 448,447.5 449.5,453 451,451.2 452.5,447.2 454,447.6 455.5,454.1 457,452.1 458.5,449.9 460,449.9 461.5,451.8 463,451.7 464.5,449.1 466,452.3 467.5,451.9 469,451.9 470.5,450.2 472,450.6 473.5,448.8 475,448.4 476.5,447.6 478,440.3 479.5,439.1 481,438.6 482.5,439.9 484,440.3 485.5,440.9 487,440.2 488.5,439.5 490,438.7 491.5,438.1 493,438.6 494.5,439 496,439.7 497.5,439.8 499,440 500.5,440.2 502,440.7 503.5,440.8 505,439.2 506.5,439.1 508,439.6 509.5,438.5 511,438.6 512.5,439.2 514,439.2 515.5,438.4 517,439.2 518.5,440.2 520,439.5 521.5,440.8 523,440 524.5,440.2 526,440.4 527.5,441.5 529,441.2 530.5,440.7 532,441.3 533.5,441.8 535,442.1 536.5,441.5 538,441.6 539.5,441.5 541,441.9 542.5,442.4 544,442.6 545.5,442.7 547,442.9 548.5,442.8 550,442.6 551.5,443.1 553,443.5 554.5,443.3 556,443.4 557.5,443.8 559,443.4 560.5,443.9 562,443.7 563.5,443.6 565,443.2 566.5,443.2 568,443.5 569.5,443.6 571,443.5 572.5,443.8 574,443.9 575.5,443.9 577,444 578.5,444.1 580,444.2 581.5,444 583,444 584.5,443.9 586,443.4 587.5,443.4 589,443.4 590.5,443.2 592,443.5 593.5,443.6 595,443.2 596.5,443.5 598,443.5 599.5,443.3 601,443.3 602.5,443.5 604,443.2 605.5,443.1 607,443.4 608.5,443.5 610,443 611.5,443.4 613,443.1 614.5,443.5 616,443.1 617.5,443.5 617.5,444.9" fill="#0aa8c0"/>
<polyline points="70,445.1 71.5,445.1 73,445.1 74.5,445.1 76,445.1 77.5,445.1 79,445.1 80.5,445.1 82,445.2 83.5,445.1 85,445.1 86.5,445.1 88,445.1 89.5,445.1 91,445.2 92.5,445.2 94,445.1 95.5,445.1 97,445.1 98.5,445.1 100,445.1 101.5,445.1 103,445.1 104.5,445.1 106,445.2 107.5,445.2 109,445.1 110.5,445.2 112,445.2 113.5,445.1 115,445.2 116.5,445.2 118,445.2 119.5,445.2 121,445.2 122.5,445.3 124,445.2 125.5,445.2 127,445.2 128.5,445.2 130,445.2 131.5,445.2 133,445.2 134.5,445.2 136,445.1 137.5,445.1 139,445.2 140.5,445.3 142,445.1 143.5,445.2 145,445.2 146.5,445.3 148,445.1 149.5,445.2 151,445.1 152.5,445.2 154,445.2 155.5,445.2 157,445.2 158.5,445.2 160,445.3 161.5,445.2 163,445.2 164.5,445.2 166,445.2 167.5,445.2 169,445.2 170.5,445.2 172,445.3 173.5,445.5 175,445.5 176.5,445.6 178,445.6 179.5,447 181,446.5 182.5,446.9 184,447 185.5,446.6 187,447 188.5,447.7 190,447.6 191.5,447.1 193,446.4 194.5,448.2 196,449.4 197.5,449 199,449.2 200.5,449.4 202,449.2 203.5,449.7 205,449 206.5,449.1 208,449.7 209.5,450.2 211,449.9 212.5,451.2 214,451.3 215.5,452.9 217,452 218.5,452.8 220,451.3 221.5,451.1 223,451.2 224.5,450.8 226,451.1 227.5,451 229,450.9 230.5,452.3 232,453.5 233.5,452.7 235,452.2 236.5,451.5 238,454.4 239.5,456.4 241,451.7 242.5,449.7 244,449 245.5,452.7 247,454.6 248.5,456.4 250,457.2 251.5,457.2 253,456.1 254.5,456.6 256,456.6 257.5,456.1 259,452.8 260.5,452.9 262,453.9 263.5,459.8 265,459.3 266.5,459.2 268,458.1 269.5,460.1 271,458.9 272.5,460 274,461.4 275.5,460.7 277,461.8 278.5,463.1 280,462.7 281.5,466.2 283,461.2 284.5,463.5 286,469.1 287.5,468.7 289,472 290.5,471.2 292,472.6 293.5,471.4 295,471.7 296.5,474.3 298,474.2 299.5,473.5 301,469.2 302.5,467.5 304,463.5 305.5,473.8 307,474.6 308.5,477.2 310,474.8 311.5,475.4 313,473.4 314.5,479.3 316,472.7 317.5,478.3 319,477.9 320.5,481.5 322,478.4 323.5,476.8 325,477.9 326.5,478.7 328,476.6 329.5,473.6 331,476.9 332.5,472.1 334,473.3 335.5,472.7 337,472.1 338.5,471.3 340,471.5 341.5,469.5 343,471.2 344.5,468.2 346,471.3 347.5,475.6 349,472.9 350.5,472.1 352,468.9 353.5,470.1 355,472.5 356.5,470.9 358,469.3 359.5,467.8 361,469.1 362.5,470.1 364,470.3 365.5,471.7 367,471.2 368.5,470 370,468.5 371.5,466.8 373,465.3 374.5,464.9 376,467.2 377.5,464.9 379,461.6 380.5,463.2 382,466.6 383.5,467.2 385,471.6 386.5,472.9 388,473.3 389.5,470.2 391,472.3 392.5,471.3 394,469.2 395.5,465.5 397,468.7 398.5,466.4 400,468 401.5,465.3 403,461.1 404.5,463.4 406,465.9 407.5,468.7 409,472.7 410.5,470.6 412,467.1 413.5,466.5 415,466 416.5,466.6 418,470.2 419.5,468.6 421,468.9 422.5,469.8 424,468.6 425.5,466.3 427,468.1 428.5,468.8 430,466 431.5,466.5 433,466.2 434.5,460.6 436,461.6 437.5,464.1 439,467.2 440.5,470 442,469.6 443.5,467.7 445,467.3 446.5,462.2 448,462.7 449.5,467 451,464.8 452.5,460.6 454,460.3 455.5,466.8 457,464.9 458.5,462.7 460,463 461.5,464.2 463,464 464.5,461.3 466,464.5 467.5,464.2 469,464.6 470.5,463.3 472,463.9 473.5,461.5 475,461.2 476.5,459.1 478,447.1 479.5,445.9 481,445.8 482.5,446.9 484,447.6 485.5,448.1 487,447.7 488.5,447 490,446.5 491.5,446.1 493,446.2 494.5,446.9 496,447.6 497.5,447.8 499,447.7 500.5,448 502,448.6 503.5,448.5 505,447.7 506.5,447.9 508,447.8 509.5,447.3 511,447.2 512.5,447.8 514,447 515.5,446.4 517,447 518.5,447.3 520,446.6 521.5,447.2 523,446.4 524.5,446.5 526,446.4 527.5,446.9 529,446.4 530.5,446.2 532,446.3 533.5,446.3 535,446.3 536.5,445.9 538,445.7 539.5,445.6 541,445.9 542.5,445.9 544,446.2 545.5,446.1 547,446.1 548.5,445.9 550,445.9 551.5,446.1 553,446.1 554.5,446.1 556,445.9 557.5,446.3 559,446.1 560.5,446.5 562,446.3 563.5,446.2 565,445.7 566.5,445.7 568,445.8 569.5,445.6 571,445.9 572.5,445.9 574,445.8 575.5,445.9 577,445.8 578.5,446 580,446.1 581.5,446.1 583,445.9 584.5,445.7 586,445.6 587.5,445.6 589,445.5 590.5,445.4 592,445.8 593.5,445.6 595,445.6 596.5,445.7 598,445.7 599.5,445.5 601,445.4 602.5,445.6 604,445.6 605.5,445.6 607,445.7 608.5,445.7 610,445.4 611.5,445.6 613,445.5 614.5,445.7 616,445.6 617.5,445.6" fill="none" stroke="#218a40" stroke-width="1.35" stroke-linejoin="miter"/>
<polyline points="70,444.6 71.5,444.6 73,444.6 74.5,444.5 76,444.5 77.5,444.5 79,444.5 80.5,444.4 82,444.4 83.5,444.4 85,444.4 86.5,444.4 88,444.3 89.5,444.3 91,444.3 92.5,444.3 94,444.2 95.5,444.2 97,444.2 98.5,444.2 100,444.1 101.5,444.1 103,444.1 104.5,444.1 106,444.1 107.5,444 109,444 110.5,444 112,444 113.5,443.9 115,443.9 116.5,443.9 118,443.8 119.5,443.8 121,443.8 122.5,443.8 124,443.7 125.5,443.7 127,443.7 128.5,443.6 130,443.6 131.5,443.6 133,443.5 134.5,443.5 136,443.4 137.5,443.4 139,443.3 140.5,443.3 142,443.2 143.5,443.2 145,443.1 146.5,443.1 148,443.1 149.5,443 151,442.9 152.5,442.9 154,442.8 155.5,442.7 157,442.6 158.5,442.6 160,442.5 161.5,442.4 163,442.3 164.5,442.3 166,442.2 167.5,442.1 169,442 170.5,441.9 172,441.8 173.5,441.6 175,441.5 176.5,441.3 178,441.2 179.5,441 181,440.9 182.5,440.6 184,440.4 185.5,440.2 187,440 188.5,439.8 190,439.6 191.5,439.4 193,439.1 194.5,438.9 196,438.6 197.5,438.4 199,438.2 200.5,437.9 202,437.7 203.5,437.5 205,437.3 206.5,437.1 208,436.8 209.5,436.6 211,436.4 212.5,436.1 214,435.9 215.5,435.6 217,435.4 218.5,435.3 220,435.2 221.5,435 223,434.9 224.5,434.8 226,434.7 227.5,434.6 229,434.6 230.5,434.6 232,434.6 233.5,434.6 235,434.6 236.5,434.6 238,434.6 239.5,434.6 241,434.7 242.5,434.7 244,434.7 245.5,434.8 247,434.8 248.5,434.8 250,434.9 251.5,434.9 253,434.9 254.5,434.9 256,435 257.5,435 259,435 260.5,435.1 262,435.1 263.5,435.1 265,435.2 266.5,435.2 268,435.2 269.5,435.3 271,435.4 272.5,435.4 274,435.5 275.5,435.5 277,435.6 278.5,435.8 280,436 281.5,436.2 283,436.4 284.5,436.6 286,436.9 287.5,437.1 289,437.3 290.5,437.6 292,437.8 293.5,438 295,438.3 296.5,438.5 298,438.8 299.5,439.2 301,439.6 302.5,439.9 304,440.3 305.5,440.6 307,441 308.5,441.4 310,441.9 311.5,442.3 313,442.8 314.5,443.2 316,443.7 317.5,444.1 319,444.6 320.5,445 322,445.5 323.5,445.9 325,446.4 326.5,446.8 328,447.2 329.5,447.5 331,447.8 332.5,448.1 334,448.4 335.5,448.7 337,449 338.5,449.3 340,449.6 341.5,449.9 343,450.2 344.5,450.5 346,450.8 347.5,451.1 349,451.4 350.5,451.7 352,452 353.5,452.3 355,452.6 356.5,452.8 358,453 359.5,453.3 361,453.5 362.5,453.8 364,454 365.5,454.2 367,454.5 368.5,454.7 370,455 371.5,455.2 373,455.4 374.5,455.7 376,455.9 377.5,456.1 379,456.3 380.5,456.5 382,456.7 383.5,456.9 385,457.1 386.5,457.3 388,457.6 389.5,457.8 391,458 392.5,458.2 394,458.4 395.5,458.6 397,458.8 398.5,458.9 400,459.1 401.5,459.3 403,459.5 404.5,459.7 406,459.9 407.5,460.1 409,460.3 410.5,460.5 412,460.7 413.5,460.9 415,461.1 416.5,461.2 418,461.4 419.5,461.5 421,461.7 422.5,461.8 424,462 425.5,462.2 427,462.4 428.5,462.6 430,462.8 431.5,463 433,463.3 434.5,463.5 436,463.7 437.5,464 439,464.2 440.5,464.4 442,464.7 443.5,464.9 445,465.1 446.5,465.2 448,465.4 449.5,465.5 451,465.7 452.5,465.8 454,466 455.5,466.2 457,466.4 458.5,466.6 460,466.8 461.5,467 463,467.3 464.5,467.5 466,467.6 467.5,467.8 469,468 470.5,468.2 472,468.4 473.5,468.5 475,468.7 476.5,468.9 478,468.9 479.5,468.7 481,468.4 482.5,468.1 484,467.8 485.5,467.5 487,467.2 488.5,466.9 490,466.6 491.5,466.3 493,466.1 494.5,465.9 496,465.7 497.5,465.5 499,465.3 500.5,465.1 502,464.9 503.5,464.6 505,464.4 506.5,464.2 508,464 509.5,463.8 511,463.6 512.5,463.4 514,463.2 515.5,463.1 517,462.9 518.5,462.7 520,462.5 521.5,462.3 523,462.2 524.5,462 526,461.9 527.5,461.8 529,461.6 530.5,461.4 532,461.3 533.5,461.2 535,461.1 536.5,461 538,460.8 539.5,460.7 541,460.6 542.5,460.5 544,460.4 545.5,460.3 547,460.2 548.5,460.1 550,460.1 551.5,460 553,459.9 554.5,459.9 556,459.8 557.5,459.7 559,459.7 560.5,459.6 562,459.6 563.5,459.5 565,459.4 566.5,459.4 568,459.3 569.5,459.3 571,459.2 572.5,459.1 574,459.1 575.5,459 577,459 578.5,458.9 580,458.8 581.5,458.8 583,458.7 584.5,458.7 586,458.6 587.5,458.5 589,458.5 590.5,458.4 592,458.4 593.5,458.3 595,458.3 596.5,458.3 598,458.3 599.5,458.2 601,458.2 602.5,458.1 604,458.1 605.5,458 607,458 608.5,457.9 610,457.8 611.5,457.8 613,457.7 614.5,457.7 616,457.7 617.5,457.6" fill="none" stroke="#0f57b8" stroke-width="1.9" stroke-linejoin="round" stroke-linecap="round"/>
</g>
<path d="M69.3 495.6V409.4H617.6" fill="none" stroke="#111" stroke-width="1.5" stroke-linejoin="miter"/>
<path d="M617.6 409.4V495.6" fill="none" stroke="#111" stroke-width="1.3"/>
<path d="M64 495.6H622.7" fill="none" stroke="#222" stroke-width="1.15"/>
<line x1="64" x2="69.3" y1="419.6" y2="419.6" stroke="#333" stroke-width="1"/>
<line x1="617.6" x2="622.7" y1="419.6" y2="419.6" stroke="#2a2a2a" stroke-width="1"/>
<text x="55.6" y="424.1" font-size="14.2" text-anchor="end">25</text>
<text x="631.2" y="424.1" font-size="14.2">25</text>
<line x1="64" x2="69.3" y1="444.9" y2="444.9" stroke="#333" stroke-width="1"/>
<line x1="617.6" x2="622.7" y1="444.9" y2="444.9" stroke="#2a2a2a" stroke-width="1"/>
<text x="55.6" y="449.4" font-size="14.2" text-anchor="end">0</text>
<text x="631.2" y="449.4" font-size="14.2">0</text>
<line x1="64" x2="69.3" y1="470.3" y2="470.3" stroke="#333" stroke-width="1"/>
<line x1="617.6" x2="622.7" y1="470.3" y2="470.3" stroke="#2a2a2a" stroke-width="1"/>
<text x="55.6" y="474.8" font-size="14.2" text-anchor="end">-25</text>
<text x="631.2" y="474.8" font-size="14.2">-25</text>
<line x1="64" x2="69.3" y1="495.6" y2="495.6" stroke="#333" stroke-width="1"/>
<line x1="617.6" x2="622.7" y1="495.6" y2="495.6" stroke="#2a2a2a" stroke-width="1"/>
<text x="55.6" y="500.1" font-size="14.2" text-anchor="end">-50</text>
<text x="631.2" y="500.1" font-size="14.2">-50</text>
<text x="78.6" y="425.4" font-size="14" textLength="11.8" lengthAdjust="spacingAndGlyphs">e)</text>
</g>
<g>
<clipPath id="cpf"><rect x="69.3" y="510.7" width="548.3000000000001" height="85.69999999999999"/></clipPath>
<g clip-path="url(#cpf)">
<polygon points="70,546.1 70,543.1 71.5,543.5 73,543.4 74.5,544.1 76,543.8 77.5,543.8 79,544.1 80.5,544.1 82,544.2 83.5,544.6 85,544.2 86.5,544.3 88,544.4 89.5,544.2 91,544.6 92.5,544.3 94,544.4 95.5,544.4 97,544.5 98.5,544.5 100,544.2 101.5,544.6 103,544.5 104.5,544.3 106,544.4 107.5,544.4 109,544.4 110.5,544.5 112,544.4 113.5,544.3 115,544.1 116.5,544.2 118,544.3 119.5,544.3 121,544 122.5,544.4 124,543.9 125.5,544.2 127,544 128.5,544.4 130,543.8 131.5,543.9 133,543.8 134.5,543.6 136,543.7 137.5,543.5 139,543.4 140.5,543.3 142,543.4 143.5,543.3 145,543.3 146.5,543 148,543 149.5,543.2 151,543 152.5,543 154,542.9 155.5,542.4 157,542.6 158.5,542.2 160,542.2 161.5,541.8 163,542.1 164.5,541.5 166,541.8 167.5,541.6 169,541.4 170.5,541.4 172,541.2 173.5,540.9 175,541.1 176.5,540.7 178,540.8 179.5,540.5 181,540.7 182.5,540.4 184,540.2 185.5,540.1 187,539.8 188.5,539.4 190,539 191.5,538.9 193,539.3 194.5,538.9 196,538.6 197.5,538.6 199,538.8 200.5,538.5 202,538.4 203.5,538.3 205,538.1 206.5,537.8 208,538.1 209.5,538.5 211,538.2 212.5,538.7 214,538.2 215.5,538.1 217,537.8 218.5,537.6 220,537.5 221.5,537.2 223,536.9 224.5,536.7 226,536.7 227.5,537.1 229,537.4 230.5,537.9 232,538.1 233.5,538 235,538.3 236.5,538.7 238,538.7 239.5,538.4 241,538.4 242.5,538.2 244,537.9 245.5,537.3 247,537 248.5,536.7 250,536.6 251.5,535.8 253,535.5 254.5,534.6 256,534.3 257.5,533.3 259,533.3 260.5,533.6 262,534.5 263.5,534.8 265,533 266.5,532.8 268,531.8 269.5,532 271,530.9 272.5,531.3 274,532.1 275.5,532.2 277,532.1 278.5,532.1 280,532.1 281.5,531.9 283,530.8 284.5,530.4 286,529.6 287.5,528.7 289,527.9 290.5,526.2 292,525.2 293.5,523.9 295,522.7 296.5,522.8 298,523.2 299.5,523.5 301,525.2 302.5,527 304,529.8 305.5,531 307,529.2 308.5,527.8 310,527.2 311.5,525.8 313,524.5 314.5,524.4 316,524.9 317.5,525.5 319,526.8 320.5,526.3 322,526.1 323.5,524.1 325,521.4 326.5,521.2 328,521.5 329.5,521.7 331,523.7 332.5,524 334,525.1 335.5,525.1 337,526.5 338.5,526 340,527 341.5,525.9 343,527.2 344.5,526.9 346,526.3 347.5,525.8 349,524.8 350.5,524.6 352,525.4 353.5,524.7 355,525.1 356.5,525.6 358,526.5 359.5,527.6 361,528.1 362.5,528.9 364,527.6 365.5,526.4 367,525.5 368.5,525.4 370,525.8 371.5,526.3 373,525.7 374.5,525.9 376,527.4 377.5,528.4 379,529.9 380.5,529.2 382,528.6 383.5,527.2 385,525.7 386.5,524.2 388,525 389.5,524.8 391,524.3 392.5,524.3 394,525.6 395.5,526.5 397,527.2 398.5,527.7 400,528.5 401.5,528.2 403,529.4 404.5,530.3 406,528.2 407.5,526.8 409,526.2 410.5,526.5 412,525.8 413.5,526.8 415,526.8 416.5,527.7 418,528.4 419.5,529.4 421,528.6 422.5,527.6 424,526.1 425.5,526.2 427,526.8 428.5,526.8 430,527 431.5,528 433,527.7 434.5,529.6 436,530.4 437.5,530.3 439,529.4 440.5,529.3 442,528.5 443.5,528.5 445,529.7 446.5,529.4 448,530.3 449.5,530.5 451,530.5 452.5,531.3 454,531.3 455.5,531.2 457,532 458.5,532.2 460,532.2 461.5,532.6 463,533.6 464.5,532.8 466,533.2 467.5,533.4 469,532.7 470.5,532.5 472,531.8 473.5,532.4 475,531.8 476.5,532.2 478,532.3 479.5,532.1 481,532.7 482.5,532.4 484,533.4 485.5,533.1 487,533.4 488.5,534 490,533.9 491.5,533.5 493,533.8 494.5,534.5 496,533.4 497.5,534.4 499,533.8 500.5,534 502,533.9 503.5,533.9 505,533.9 506.5,533.7 508,533.4 509.5,533.7 511,533.3 512.5,533.7 514,534.4 515.5,534.8 517,536.1 518.5,535.9 520,536.3 521.5,536.4 523,537.2 524.5,536.9 526,537.9 527.5,537.6 529,538.6 530.5,538.7 532,538.4 533.5,538.7 535,538.8 536.5,538.8 538,538.7 539.5,538.9 541,538.8 542.5,539.3 544,539.5 545.5,539.6 547,539.5 548.5,540.7 550,540.5 551.5,540.7 553,540.6 554.5,540.4 556,540.3 557.5,540.1 559,540.2 560.5,539.9 562,540.8 563.5,540.8 565,541.5 566.5,541.9 568,542.2 569.5,542.6 571,542.8 572.5,543.2 574,543.4 575.5,543.5 577,543.3 578.5,543.3 580,543.2 581.5,543.5 583,543.4 584.5,543.6 586,543.5 587.5,543.6 589,543.4 590.5,543.2 592,543.4 593.5,543.4 595,543.3 596.5,543.4 598,543.4 599.5,543.2 601,543.5 602.5,543.5 604,543.4 605.5,543.6 607,543.2 608.5,543.5 610,543.1 611.5,543.2 613,543.6 614.5,543 616,543.5 617.5,543.4 617.5,546.1" fill="#2bdaf3"/>
<polygon points="70,546.1 70,546.3 71.5,546.3 73,546.3 74.5,546.3 76,546.3 77.5,546.4 79,546.4 80.5,546.3 82,546.3 83.5,546.3 85,546.3 86.5,546.3 88,546.3 89.5,546.3 91,546.3 92.5,546.3 94,546.3 95.5,546.3 97,546.4 98.5,546.3 100,546.3 101.5,546.3 103,546.3 104.5,546.4 106,546.3 107.5,546.4 109,546.4 110.5,546.4 112,546.4 113.5,546.4 115,546.4 116.5,546.4 118,546.4 119.5,546.3 121,546.4 122.5,546.4 124,546.4 125.5,546.3 127,546.4 128.5,546.4 130,546.4 131.5,546.4 133,546.4 134.5,546.4 136,546.4 137.5,546.4 139,546.4 140.5,546.5 142,546.4 143.5,546.5 145,546.4 146.5,546.4 148,546.4 149.5,546.4 151,546.4 152.5,546.5 154,546.4 155.5,546.4 157,546.4 158.5,546.4 160,546.5 161.5,546.4 163,546.4 164.5,546.4 166,546.4 167.5,546.4 169,546.3 170.5,546.6 172,547 173.5,546.8 175,547.2 176.5,547.2 178,547.1 179.5,546.9 181,547.3 182.5,547.4 184,547.2 185.5,547.3 187,547.3 188.5,547.4 190,547.2 191.5,548.3 193,549 194.5,549.7 196,550 197.5,549.6 199,549.5 200.5,550.1 202,550.6 203.5,549.9 205,550.5 206.5,549.8 208,550.7 209.5,550.9 211,551.1 212.5,550.7 214,551.6 215.5,551.7 217,551.1 218.5,551.6 220,551.7 221.5,551.5 223,551 224.5,550.6 226,550.9 227.5,550.4 229,550.8 230.5,552.5 232,553.3 233.5,552.7 235,552.4 236.5,552.8 238,555.2 239.5,556.9 241,552.9 242.5,551.9 244,550.9 245.5,554.3 247,557.3 248.5,557.6 250,559.1 251.5,558 253,556.8 254.5,556.5 256,560.2 257.5,559.3 259,554.4 260.5,554.9 262,556.2 263.5,561.2 265,562.3 266.5,562.3 268,562.3 269.5,562.8 271,561.6 272.5,564.2 274,568.4 275.5,566.8 277,566.3 278.5,566.3 280,568.5 281.5,567.9 283,570.1 284.5,571.1 286,574.1 287.5,578.1 289,577.9 290.5,577.1 292,579.7 293.5,581.3 295,579.8 296.5,578.9 298,583.3 299.5,578.1 301,577.4 302.5,573.7 304,572.2 305.5,584 307,584.1 308.5,583.5 310,584.6 311.5,580.8 313,583.6 314.5,582.5 316,580.2 317.5,583.1 319,583.6 320.5,581.7 322,587.4 323.5,584.3 325,579.7 326.5,579.4 328,581.6 329.5,579.4 331,576.4 332.5,573.4 334,577.4 335.5,579.3 337,575.5 338.5,571.6 340,574.4 341.5,574.8 343,571.4 344.5,570.5 346,573 347.5,575.1 349,574.6 350.5,572.7 352,570.3 353.5,572.2 355,573.5 356.5,573.3 358,569.3 359.5,570.2 361,573.8 362.5,573.9 364,574.3 365.5,575.2 367,573.5 368.5,572.2 370,573.1 371.5,568.9 373,570.6 374.5,569 376,568 377.5,565.3 379,562 380.5,565.8 382,569.8 383.5,572.4 385,572.5 386.5,570 388,570.6 389.5,569.8 391,573.3 392.5,571.3 394,570.2 395.5,568.7 397,568.6 398.5,570.4 400,567.7 401.5,565.7 403,559.1 404.5,566.1 406,566.6 407.5,570.9 409,572.5 410.5,572.6 412,568.6 413.5,567.5 415,565.1 416.5,568.4 418,568.9 419.5,572.4 421,567.6 422.5,570.8 424,571 425.5,571 427,568.7 428.5,569.3 430,570.9 431.5,567.3 433,569.2 434.5,559.8 436,561.6 437.5,567.1 439,569.3 440.5,571.1 442,567.7 443.5,570.2 445,567.3 446.5,564.9 448,563.2 449.5,568 451,566.5 452.5,563.3 454,562.4 455.5,567.6 457,565.8 458.5,562.9 460,563 461.5,566.1 463,564 464.5,561.9 466,567.6 467.5,568.9 469,567 470.5,567.5 472,565.3 473.5,566.1 475,563.1 476.5,559 478,548.4 479.5,547.7 481,547.9 482.5,549.3 484,550.3 485.5,550.6 487,550.3 488.5,549.1 490,548.7 491.5,548.3 493,548.2 494.5,550 496,550 497.5,550.5 499,550.7 500.5,550.7 502,551.2 503.5,551 505,550.8 506.5,550.5 508,551.1 509.5,549.4 511,548.8 512.5,548.6 514,548.9 515.5,548.8 517,548.9 518.5,550.6 520,549.5 521.5,547.9 523,548.2 524.5,548.7 526,548.7 527.5,549.4 529,548.9 530.5,549 532,548.3 533.5,548.6 535,546.8 536.5,547.1 538,547.4 539.5,547.4 541,547.5 542.5,547.3 544,547.6 545.5,547.3 547,547.2 548.5,546.6 550,546.9 551.5,547.7 553,547.7 554.5,548.1 556,548.5 557.5,548.3 559,548.8 560.5,548 562,547.9 563.5,547.2 565,547 566.5,547.4 568,547.3 569.5,547.5 571,547.2 572.5,547.2 574,547.3 575.5,547.2 577,547.3 578.5,547.3 580,547 581.5,547.1 583,547.2 584.5,547.1 586,547.4 587.5,547.4 589,547.1 590.5,547.5 592,547.3 593.5,547.2 595,547.4 596.5,547.4 598,547.6 599.5,547.7 601,547.3 602.5,547.5 604,547.1 605.5,547.4 607,547.1 608.5,547.2 610,547.3 611.5,547.3 613,547.1 614.5,547.3 616,547.3 617.5,546.9 617.5,546.1" fill="#cdf9cd"/>
<polygon points="70,546.1 70,543.2 71.5,543.6 73,543.6 74.5,544.3 76,544 77.5,544.1 79,544.4 80.5,544.3 82,544.4 83.5,544.7 85,544.4 86.5,544.4 88,544.7 89.5,544.5 91,544.8 92.5,544.5 94,544.6 95.5,544.6 97,544.7 98.5,544.8 100,544.4 101.5,544.8 103,544.7 104.5,544.5 106,544.6 107.5,544.6 109,544.6 110.5,544.7 112,544.7 113.5,544.5 115,544.4 116.5,544.5 118,544.6 119.5,544.5 121,544.3 122.5,544.6 124,544.2 125.5,544.5 127,544.2 128.5,544.7 130,544.1 131.5,544.2 133,544.1 134.5,543.9 136,543.9 137.5,543.7 139,543.7 140.5,543.7 142,543.8 143.5,543.7 145,543.6 146.5,543.3 148,543.3 149.5,543.5 151,543.3 152.5,543.3 154,543.2 155.5,542.7 157,543 158.5,542.5 160,542.6 161.5,542.2 163,542.4 164.5,541.8 166,542.1 167.5,541.9 169,541.7 170.5,541.9 172,542.1 173.5,541.6 175,542.1 176.5,541.8 178,541.8 179.5,541.3 181,541.9 182.5,541.7 184,541.3 185.5,541.2 187,541 188.5,540.7 190,540.2 191.5,541.1 193,542.3 194.5,542.5 196,542.5 197.5,542.1 199,542.2 200.5,542.5 202,542.8 203.5,542.1 205,542.4 206.5,541.5 208,542.7 209.5,543.2 211,543.2 212.5,543.2 214,543.7 215.5,543.7 217,542.9 218.5,543.2 220,543 221.5,542.7 223,541.8 224.5,541.3 226,541.5 227.5,541.4 229,542.2 230.5,544.3 232,545.3 233.5,544.6 235,544.6 236.5,545.5 238,547.8 239.5,549.3 241,545.2 242.5,544.1 244,542.7 245.5,545.5 247,548.2 248.5,548.2 250,549.6 251.5,547.7 253,546.1 254.5,545.1 256,548.4 257.5,546.4 259,541.7 260.5,542.4 262,544.6 263.5,550 265,549.1 266.5,548.9 268,548.1 269.5,548.7 271,546.4 272.5,549.4 274,554.4 275.5,553 277,552.3 278.5,552.3 280,554.5 281.5,553.6 283,554.8 284.5,555.3 286,557.6 287.5,560.7 289,559.7 290.5,557.2 292,558.8 293.5,559.1 295,556.4 296.5,555.6 298,560.5 299.5,555.6 301,556.5 302.5,554.6 304,555.8 305.5,568.9 307,567.2 308.5,565.3 310,565.7 311.5,560.5 313,562 314.5,560.7 316,558.9 317.5,562.5 319,564.3 320.5,561.9 322,567.4 323.5,562.3 325,555 326.5,554.5 328,557 329.5,555 331,554 332.5,551.3 334,556.4 335.5,558.3 337,556 338.5,551.5 340,555.4 341.5,554.6 343,552.5 344.5,551.3 346,553.3 347.5,554.7 349,553.3 350.5,551.1 352,549.6 353.5,550.7 355,552.5 356.5,552.8 358,549.7 359.5,551.7 361,555.8 362.5,556.7 364,555.9 365.5,555.5 367,552.9 368.5,551.4 370,552.8 371.5,549.1 373,550.3 374.5,548.8 376,549.3 377.5,547.5 379,545.8 380.5,548.9 382,552.3 383.5,553.5 385,552.2 386.5,548.1 388,549.5 389.5,548.5 391,551.6 392.5,549.6 394,549.7 395.5,549.1 397,549.7 398.5,552.1 400,550.1 401.5,547.8 403,542.4 404.5,550.2 406,548.7 407.5,551.6 409,552.6 410.5,553 412,548.3 413.5,548.2 415,545.8 416.5,550 418,551.3 419.5,555.7 421,550.1 422.5,552.3 424,551 425.5,551.1 427,549.4 428.5,550 430,551.8 431.5,549.1 433,550.8 434.5,543.3 436,545.9 437.5,551.3 439,552.6 440.5,554.3 442,550.1 443.5,552.7 445,550.9 446.5,548.3 448,547.4 449.5,552.5 451,550.9 452.5,548.5 454,547.5 455.5,552.8 457,551.6 458.5,549.1 460,549.1 461.5,552.6 463,551.5 464.5,548.7 466,554.7 467.5,556.2 469,553.6 470.5,554 472,551 473.5,552.4 475,548.8 476.5,545.2 478,534.6 479.5,533.6 481,534.5 482.5,535.7 484,537.5 485.5,537.6 487,537.6 488.5,537 490,536.5 491.5,535.7 493,535.9 494.5,538.4 496,537.3 497.5,538.8 499,538.4 500.5,538.6 502,539 503.5,538.8 505,538.6 506.5,538.2 508,538.4 509.5,537 511,536 512.5,536.2 514,537.3 515.5,537.5 517,539 518.5,540.5 520,539.7 521.5,538.2 523,539.3 524.5,539.6 526,540.5 527.5,541 529,541.4 530.5,541.6 532,540.7 533.5,541.2 535,539.4 536.5,539.8 538,540 539.5,540.2 541,540.2 542.5,540.4 544,541.1 545.5,540.8 547,540.5 548.5,541.2 550,541.3 551.5,542.2 553,542.2 554.5,542.4 556,542.7 557.5,542.3 559,542.8 560.5,541.8 562,542.6 563.5,541.9 565,542.4 566.5,543.3 568,543.4 569.5,544 571,543.8 572.5,544.3 574,544.5 575.5,544.6 577,544.5 578.5,544.4 580,544.1 581.5,544.5 583,544.5 584.5,544.6 586,544.8 587.5,544.9 589,544.5 590.5,544.6 592,544.6 593.5,544.5 595,544.6 596.5,544.7 598,544.9 599.5,544.7 601,544.7 602.5,544.9 604,544.4 605.5,544.8 607,544.2 608.5,544.7 610,544.3 611.5,544.4 613,544.6 614.5,544.1 616,544.7 617.5,544.2 617.5,546.1" fill="#0aa8c0"/>
<polyline points="70,546.3 71.5,546.3 73,546.3 74.5,546.3 76,546.3 77.5,546.4 79,546.4 80.5,546.3 82,546.3 83.5,546.3 85,546.3 86.5,546.3 88,546.3 89.5,546.3 91,546.3 92.5,546.3 94,546.3 95.5,546.3 97,546.4 98.5,546.3 100,546.3 101.5,546.3 103,546.3 104.5,546.4 106,546.3 107.5,546.4 109,546.4 110.5,546.4 112,546.4 113.5,546.4 115,546.4 116.5,546.4 118,546.4 119.5,546.3 121,546.4 122.5,546.4 124,546.4 125.5,546.3 127,546.4 128.5,546.4 130,546.4 131.5,546.4 133,546.4 134.5,546.4 136,546.4 137.5,546.4 139,546.4 140.5,546.5 142,546.4 143.5,546.5 145,546.4 146.5,546.4 148,546.4 149.5,546.4 151,546.4 152.5,546.5 154,546.4 155.5,546.4 157,546.4 158.5,546.4 160,546.5 161.5,546.4 163,546.4 164.5,546.4 166,546.4 167.5,546.4 169,546.3 170.5,546.6 172,547 173.5,546.8 175,547.2 176.5,547.2 178,547.1 179.5,546.9 181,547.3 182.5,547.4 184,547.2 185.5,547.3 187,547.3 188.5,547.4 190,547.2 191.5,548.3 193,549 194.5,549.7 196,550 197.5,549.6 199,549.5 200.5,550.1 202,550.6 203.5,549.9 205,550.5 206.5,549.8 208,550.7 209.5,550.9 211,551.1 212.5,550.7 214,551.6 215.5,551.7 217,551.1 218.5,551.6 220,551.7 221.5,551.5 223,551 224.5,550.6 226,550.9 227.5,550.4 229,550.8 230.5,552.5 232,553.3 233.5,552.7 235,552.4 236.5,552.8 238,555.2 239.5,556.9 241,552.9 242.5,551.9 244,550.9 245.5,554.3 247,557.3 248.5,557.6 250,559.1 251.5,558 253,556.8 254.5,556.5 256,560.2 257.5,559.3 259,554.4 260.5,554.9 262,556.2 263.5,561.2 265,562.3 266.5,562.3 268,562.3 269.5,562.8 271,561.6 272.5,564.2 274,568.4 275.5,566.8 277,566.3 278.5,566.3 280,568.5 281.5,567.9 283,570.1 284.5,571.1 286,574.1 287.5,578.1 289,577.9 290.5,577.1 292,579.7 293.5,581.3 295,579.8 296.5,578.9 298,583.3 299.5,578.1 301,577.4 302.5,573.7 304,572.2 305.5,584 307,584.1 308.5,583.5 310,584.6 311.5,580.8 313,583.6 314.5,582.5 316,580.2 317.5,583.1 319,583.6 320.5,581.7 322,587.4 323.5,584.3 325,579.7 326.5,579.4 328,581.6 329.5,579.4 331,576.4 332.5,573.4 334,577.4 335.5,579.3 337,575.5 338.5,571.6 340,574.4 341.5,574.8 343,571.4 344.5,570.5 346,573 347.5,575.1 349,574.6 350.5,572.7 352,570.3 353.5,572.2 355,573.5 356.5,573.3 358,569.3 359.5,570.2 361,573.8 362.5,573.9 364,574.3 365.5,575.2 367,573.5 368.5,572.2 370,573.1 371.5,568.9 373,570.6 374.5,569 376,568 377.5,565.3 379,562 380.5,565.8 382,569.8 383.5,572.4 385,572.5 386.5,570 388,570.6 389.5,569.8 391,573.3 392.5,571.3 394,570.2 395.5,568.7 397,568.6 398.5,570.4 400,567.7 401.5,565.7 403,559.1 404.5,566.1 406,566.6 407.5,570.9 409,572.5 410.5,572.6 412,568.6 413.5,567.5 415,565.1 416.5,568.4 418,568.9 419.5,572.4 421,567.6 422.5,570.8 424,571 425.5,571 427,568.7 428.5,569.3 430,570.9 431.5,567.3 433,569.2 434.5,559.8 436,561.6 437.5,567.1 439,569.3 440.5,571.1 442,567.7 443.5,570.2 445,567.3 446.5,564.9 448,563.2 449.5,568 451,566.5 452.5,563.3 454,562.4 455.5,567.6 457,565.8 458.5,562.9 460,563 461.5,566.1 463,564 464.5,561.9 466,567.6 467.5,568.9 469,567 470.5,567.5 472,565.3 473.5,566.1 475,563.1 476.5,559 478,548.4 479.5,547.7 481,547.9 482.5,549.3 484,550.3 485.5,550.6 487,550.3 488.5,549.1 490,548.7 491.5,548.3 493,548.2 494.5,550 496,550 497.5,550.5 499,550.7 500.5,550.7 502,551.2 503.5,551 505,550.8 506.5,550.5 508,551.1 509.5,549.4 511,548.8 512.5,548.6 514,548.9 515.5,548.8 517,548.9 518.5,550.6 520,549.5 521.5,547.9 523,548.2 524.5,548.7 526,548.7 527.5,549.4 529,548.9 530.5,549 532,548.3 533.5,548.6 535,546.8 536.5,547.1 538,547.4 539.5,547.4 541,547.5 542.5,547.3 544,547.6 545.5,547.3 547,547.2 548.5,546.6 550,546.9 551.5,547.7 553,547.7 554.5,548.1 556,548.5 557.5,548.3 559,548.8 560.5,548 562,547.9 563.5,547.2 565,547 566.5,547.4 568,547.3 569.5,547.5 571,547.2 572.5,547.2 574,547.3 575.5,547.2 577,547.3 578.5,547.3 580,547 581.5,547.1 583,547.2 584.5,547.1 586,547.4 587.5,547.4 589,547.1 590.5,547.5 592,547.3 593.5,547.2 595,547.4 596.5,547.4 598,547.6 599.5,547.7 601,547.3 602.5,547.5 604,547.1 605.5,547.4 607,547.1 608.5,547.2 610,547.3 611.5,547.3 613,547.1 614.5,547.3 616,547.3 617.5,546.9" fill="none" stroke="#218a40" stroke-width="1.35" stroke-linejoin="miter"/>
<line x1="69.3" x2="617.6" y1="545.8" y2="545.8" stroke="#000" stroke-width="2.3"/>
<polyline points="70,545.4 71.5,545.4 73,545.3 74.5,545.3 76,545.3 77.5,545.2 79,545.2 80.5,545.2 82,545.2 83.5,545.1 85,545.1 86.5,545.1 88,545 89.5,545 91,545 92.5,544.9 94,544.9 95.5,544.8 97,544.8 98.5,544.7 100,544.7 101.5,544.7 103,544.6 104.5,544.6 106,544.5 107.5,544.5 109,544.4 110.5,544.4 112,544.3 113.5,544.2 115,544.1 116.5,544.1 118,544 119.5,543.9 121,543.9 122.5,543.8 124,543.7 125.5,543.6 127,543.6 128.5,543.5 130,543.4 131.5,543.3 133,543.3 134.5,543.2 136,543.2 137.5,543.1 139,543 140.5,543 142,542.9 143.5,542.9 145,542.8 146.5,542.7 148,542.7 149.5,542.6 151,542.5 152.5,542.4 154,542.2 155.5,542.1 157,541.9 158.5,541.8 160,541.6 161.5,541.5 163,541.3 164.5,541.1 166,541 167.5,540.9 169,540.7 170.5,540.5 172,540.4 173.5,540.2 175,540 176.5,539.8 178,539.6 179.5,539.5 181,539.3 182.5,539.1 184,538.8 185.5,538.6 187,538.4 188.5,538.2 190,538 191.5,537.9 193,537.7 194.5,537.6 196,537.4 197.5,537.2 199,537.1 200.5,537 202,536.9 203.5,536.9 205,536.8 206.5,536.7 208,536.6 209.5,536.4 211,536.3 212.5,536.1 214,535.9 215.5,535.8 217,535.6 218.5,535.5 220,535.4 221.5,535.3 223,535.2 224.5,535.1 226,535.1 227.5,535 229,535 230.5,535.1 232,535.1 233.5,535.1 235,535.2 236.5,535.2 238,535.2 239.5,535.3 241,535.4 242.5,535.4 244,535.5 245.5,535.5 247,535.6 248.5,535.7 250,535.8 251.5,535.9 253,536 254.5,536.1 256,536.1 257.5,536.2 259,536.3 260.5,536.4 262,536.5 263.5,536.6 265,536.7 266.5,536.8 268,536.9 269.5,537.1 271,537.2 272.5,537.4 274,537.5 275.5,537.6 277,537.8 278.5,538.1 280,538.3 281.5,538.6 283,538.9 284.5,539.1 286,539.4 287.5,539.8 289,540.2 290.5,540.6 292,541.1 293.5,541.6 295,542 296.5,542.5 298,542.9 299.5,543.5 301,544 302.5,544.5 304,545 305.5,545.5 307,546 308.5,546.6 310,547.2 311.5,547.8 313,548.4 314.5,549 316,549.6 317.5,550.2 319,550.7 320.5,551.3 322,551.8 323.5,552.3 325,552.9 326.5,553.4 328,553.8 329.5,554.2 331,554.6 332.5,554.9 334,555.3 335.5,555.6 337,556 338.5,556.3 340,556.6 341.5,556.9 343,557.2 344.5,557.5 346,557.7 347.5,558 349,558.2 350.5,558.4 352,558.7 353.5,558.9 355,559.2 356.5,559.4 358,559.6 359.5,559.9 361,560.1 362.5,560.4 364,560.6 365.5,560.8 367,560.9 368.5,561.1 370,561.2 371.5,561.4 373,561.5 374.5,561.7 376,561.9 377.5,562.1 379,562.3 380.5,562.5 382,562.7 383.5,562.9 385,563.1 386.5,563.2 388,563.4 389.5,563.6 391,563.7 392.5,563.9 394,564 395.5,564.1 397,564.3 398.5,564.5 400,564.6 401.5,564.8 403,564.9 404.5,565.1 406,565.2 407.5,565.4 409,565.5 410.5,565.6 412,565.8 413.5,566 415,566.1 416.5,566.2 418,566.4 419.5,566.6 421,566.7 422.5,566.9 424,567 425.5,567.1 427,567.1 428.5,567.2 430,567.2 431.5,567.3 433,567.4 434.5,567.5 436,567.6 437.5,567.8 439,568 440.5,568.2 442,568.4 443.5,568.5 445,568.7 446.5,568.8 448,568.9 449.5,569 451,569.2 452.5,569.3 454,569.4 455.5,569.6 457,569.8 458.5,569.9 460,570.1 461.5,570.3 463,570.5 464.5,570.7 466,570.9 467.5,571.1 469,571.3 470.5,571.5 472,571.7 473.5,571.9 475,572 476.5,572 478,571.9 479.5,571.4 481,571 482.5,570.6 484,570.3 485.5,569.9 487,569.6 488.5,569.2 490,568.8 491.5,568.5 493,568.2 494.5,567.9 496,567.6 497.5,567.3 499,567 500.5,566.7 502,566.4 503.5,566.1 505,565.8 506.5,565.5 508,565.2 509.5,564.9 511,564.6 512.5,564.4 514,564.1 515.5,563.9 517,563.6 518.5,563.4 520,563.2 521.5,562.9 523,562.7 524.5,562.5 526,562.3 527.5,562.1 529,561.9 530.5,561.7 532,561.5 533.5,561.3 535,561.1 536.5,560.9 538,560.8 539.5,560.6 541,560.4 542.5,560.2 544,560.1 545.5,560 547,559.8 548.5,559.6 550,559.5 551.5,559.4 553,559.2 554.5,559.1 556,559 557.5,558.9 559,558.8 560.5,558.6 562,558.5 563.5,558.5 565,558.4 566.5,558.3 568,558.2 569.5,558.1 571,558 572.5,557.9 574,557.9 575.5,557.8 577,557.8 578.5,557.7 580,557.6 581.5,557.6 583,557.5 584.5,557.5 586,557.4 587.5,557.3 589,557.3 590.5,557.2 592,557.2 593.5,557.1 595,557.1 596.5,557.1 598,557.1 599.5,557 601,557 602.5,556.9 604,556.9 605.5,556.8 607,556.8 608.5,556.7 610,556.6 611.5,556.6 613,556.5 614.5,556.4 616,556.3 617.5,556.2" fill="none" stroke="#0f57b8" stroke-width="1.9" stroke-linejoin="round" stroke-linecap="round"/>
</g>
<path d="M69.3 596.4V510.7H617.6" fill="none" stroke="#111" stroke-width="1.5" stroke-linejoin="miter"/>
<path d="M617.6 510.7V596.4" fill="none" stroke="#111" stroke-width="1.3"/>
<path d="M64 596.4H622.7" fill="none" stroke="#222" stroke-width="1.15"/>
<line x1="64" x2="69.3" y1="521.0" y2="521.0" stroke="#333" stroke-width="1"/>
<line x1="617.6" x2="622.7" y1="521.0" y2="521.0" stroke="#2a2a2a" stroke-width="1"/>
<text x="55.6" y="525.5" font-size="14.2" text-anchor="end">25</text>
<text x="631.2" y="525.5" font-size="14.2">25</text>
<line x1="64" x2="69.3" y1="546.1" y2="546.1" stroke="#333" stroke-width="1"/>
<line x1="617.6" x2="622.7" y1="546.1" y2="546.1" stroke="#2a2a2a" stroke-width="1"/>
<text x="55.6" y="550.6" font-size="14.2" text-anchor="end">0</text>
<text x="631.2" y="550.6" font-size="14.2">0</text>
<line x1="64" x2="69.3" y1="571.3" y2="571.3" stroke="#333" stroke-width="1"/>
<line x1="617.6" x2="622.7" y1="571.3" y2="571.3" stroke="#2a2a2a" stroke-width="1"/>
<text x="55.6" y="575.8" font-size="14.2" text-anchor="end">-25</text>
<text x="631.2" y="575.8" font-size="14.2">-25</text>
<line x1="64" x2="69.3" y1="596.4" y2="596.4" stroke="#333" stroke-width="1"/>
<line x1="617.6" x2="622.7" y1="596.4" y2="596.4" stroke="#2a2a2a" stroke-width="1"/>
<text x="55.6" y="600.9" font-size="14.2" text-anchor="end">-50</text>
<text x="631.2" y="600.9" font-size="14.2">-50</text>
<text x="78.6" y="526.7" font-size="14" textLength="9.6" lengthAdjust="spacingAndGlyphs">f)</text>
</g>
<g>
<clipPath id="cpg"><rect x="69.3" y="612.8" width="548.3000000000001" height="86.0"/></clipPath>
<g clip-path="url(#cpg)">
<polygon points="70,648.3 70,644.1 71.5,644.2 73,645.3 74.5,646.8 76,648.3 77.5,648.3 79,648.3 80.5,648.3 82,648.3 83.5,648.3 85,648.3 86.5,648.3 88,648.3 89.5,648.3 91,648.3 92.5,648.3 94,648.3 95.5,648.3 97,648.3 98.5,648.3 100,648.3 101.5,648.3 103,648.3 104.5,648.3 106,648.3 107.5,648.3 109,648.3 110.5,648.3 112,648.3 113.5,648.3 115,646.4 116.5,641.7 118,641.6 119.5,641.5 121,641.3 122.5,641.7 124,642 125.5,641.6 127,641.4 128.5,641.9 130,641.6 131.5,641.7 133,642.3 134.5,642 136,641.8 137.5,642.1 139,642.2 140.5,642.1 142,642.1 143.5,642.1 145,642.5 146.5,642.1 148,642.3 149.5,642.3 151,642.2 152.5,642.6 154,642.4 155.5,642.9 157,642.6 158.5,642.9 160,642.8 161.5,642.8 163,642.8 164.5,643.2 166,643.2 167.5,642.9 169,643 170.5,642.9 172,643.1 173.5,643.4 175,643.4 176.5,643.6 178,643.5 179.5,643.7 181,643.7 182.5,644 184,644 185.5,644.5 187,644.5 188.5,644.7 190,645 191.5,645 193,645.8 194.5,646.3 196,646.7 197.5,647.2 199,646 200.5,645.2 202,643.6 203.5,642.9 205,641 206.5,639.3 208,638.3 209.5,637 211,636 212.5,637.1 214,638.4 215.5,638.7 217,635.5 218.5,634.4 220,635.4 221.5,636.7 223,637.2 224.5,636.4 226,636.1 227.5,639.8 229,643.1 230.5,643.4 232,644.1 233.5,644.6 235,644.7 236.5,644.6 238,644.4 239.5,644.7 241,644.5 242.5,644 244,644.2 245.5,643.3 247,640.3 248.5,638.6 250,637.2 251.5,635.6 253,636.5 254.5,636.8 256,636.1 257.5,635.3 259,634.3 260.5,635.5 262,635.7 263.5,634.6 265,630.3 266.5,626.4 268,623.2 269.5,622.3 271,622.3 272.5,622.8 274,622.1 275.5,618.8 277,615.9 278.5,624.4 280,629.3 281.5,628.3 283,626.9 284.5,628.7 286,629.5 287.5,629.9 289,629.3 290.5,629.6 292,628.3 293.5,627.3 295,628.7 296.5,631.6 298,634 299.5,635.3 301,636.4 302.5,637.7 304,638.1 305.5,638.9 307,637.9 308.5,635.6 310,635 311.5,634.4 313,634.5 314.5,633.8 316,633.6 317.5,633.2 319,633.2 320.5,633.9 322,633.1 323.5,632.7 325,631.4 326.5,631.4 328,631.5 329.5,632.6 331,633.5 332.5,634.2 334,635.1 335.5,635.3 337,635.8 338.5,635.9 340,636.4 341.5,636.2 343,636.5 344.5,636.4 346,635.1 347.5,634.2 349,633.3 350.5,632.7 352,632.4 353.5,633 355,633.3 356.5,632.9 358,633.9 359.5,633.8 361,634.2 362.5,634 364,632.4 365.5,631.2 367,629.7 368.5,629.1 370,629.9 371.5,630.6 373,631.4 374.5,631.7 376,633 377.5,633.6 379,634.6 380.5,635.3 382,633.8 383.5,632.5 385,631.4 386.5,630.6 388,630.2 389.5,631.1 391,631.3 392.5,631 394,631.8 395.5,631.5 397,633.4 398.5,634.1 400,634.5 401.5,635.4 403,636.1 404.5,635.9 406,635.5 407.5,634.6 409,633.5 410.5,633.7 412,633.7 413.5,633.3 415,634 416.5,635.4 418,635.9 419.5,636.2 421,636.6 422.5,635.9 424,635 425.5,634.1 427,634.5 428.5,634.3 430,634.1 431.5,634.5 433,635.7 434.5,636.7 436,638.4 437.5,637.8 439,637.5 440.5,637.7 442,636.8 443.5,636.9 445,636.8 446.5,637.6 448,638.4 449.5,637.8 451,638.6 452.5,638.3 454,638.2 455.5,638.4 457,638.9 458.5,639.1 460,639.4 461.5,639.7 463,639.2 464.5,639 466,638.5 467.5,638.3 469,638.9 470.5,638.9 472,638.8 473.5,638.3 475,637.1 476.5,636.1 478,632.6 479.5,633.3 481,635.1 482.5,634.5 484,633.6 485.5,633 487,634.4 488.5,636.3 490,636.1 491.5,636.1 493,635.5 494.5,635.7 496,635.5 497.5,635.7 499,635.8 500.5,636.1 502,637.2 503.5,639.6 505,641.1 506.5,643.4 508,644.3 509.5,645 511,645.3 512.5,645.4 514,645.6 515.5,645.6 517,645.9 518.5,645.9 520,645.9 521.5,646 523,646 524.5,645.8 526,646.2 527.5,646.2 529,646.1 530.5,645.9 532,646.1 533.5,646.3 535,646.3 536.5,646.3 538,646.2 539.5,646.2 541,646.4 542.5,646.6 544,646.5 545.5,646.6 547,646.4 548.5,646.5 550,646.4 551.5,646.4 553,646.6 554.5,646.4 556,646.5 557.5,646.6 559,646.5 560.5,646.5 562,646.6 563.5,646.6 565,646.7 566.5,646.6 568,646.9 569.5,646.5 571,646.7 572.5,646.6 574,646.6 575.5,646.7 577,646.5 578.5,646.6 580,646.4 581.5,646.3 583,646.6 584.5,646.9 586,646.7 587.5,646.8 589,646.7 590.5,646.8 592,647 593.5,647 595,647.1 596.5,647 598,646.9 599.5,647.1 601,647.1 602.5,646.9 604,647 605.5,647 607,647 608.5,647 610,647 611.5,646.9 613,647 614.5,647 616,647.1 617.5,647.2 617.5,648.3" fill="#2bdaf3"/>
<polygon points="70,648.3 70,648.4 71.5,648.4 73,648.4 74.5,648.4 76,648.4 77.5,648.4 79,648.4 80.5,648.4 82,648.4 83.5,648.4 85,648.4 86.5,648.4 88,648.4 89.5,648.4 91,648.4 92.5,648.4 94,648.4 95.5,648.4 97,648.4 98.5,648.4 100,648.4 101.5,648.4 103,648.4 104.5,648.4 106,648.4 107.5,648.4 109,648.4 110.5,648.4 112,648.4 113.5,648.4 115,648.6 116.5,648.9 118,648.9 119.5,648.9 121,648.9 122.5,648.9 124,648.9 125.5,649 127,648.9 128.5,648.7 130,648.9 131.5,648.8 133,648.9 134.5,649 136,648.9 137.5,648.9 139,648.8 140.5,648.8 142,648.8 143.5,649.1 145,648.9 146.5,648.8 148,649 149.5,648.8 151,649 152.5,649.2 154,649.3 155.5,649.4 157,649.3 158.5,649.7 160,649.5 161.5,649.3 163,649.7 164.5,649.4 166,649.3 167.5,649.8 169,649.8 170.5,649.8 172,649.6 173.5,649.8 175,649.6 176.5,649.5 178,649.8 179.5,649.8 181,649.9 182.5,650.1 184,649.9 185.5,649.8 187,649.5 188.5,649.9 190,649.9 191.5,651.1 193,651.5 194.5,651.6 196,651.9 197.5,652.8 199,652.5 200.5,652.8 202,652.5 203.5,652 205,652.6 206.5,652.7 208,653.3 209.5,653.5 211,653.4 212.5,652.6 214,653.3 215.5,653.6 217,653.9 218.5,654 220,654.2 221.5,652.9 223,653.4 224.5,653.5 226,653.6 227.5,654.4 229,654.1 230.5,656 232,655.1 233.5,655.7 235,656.5 236.5,656.9 238,659.3 239.5,659.5 241,657.2 242.5,655.3 244,656.1 245.5,659.1 247,659.7 248.5,661.4 250,662.9 251.5,662.3 253,661.2 254.5,663 256,663.2 257.5,663.2 259,661.4 260.5,662.4 262,664.1 263.5,667.2 265,667.4 266.5,667.9 268,667.9 269.5,668.3 271,670.2 272.5,671.7 274,670.2 275.5,667.8 277,670.2 278.5,670.5 280,670.3 281.5,669.7 283,668.4 284.5,669.8 286,671.8 287.5,673 289,674.5 290.5,674.6 292,672.3 293.5,670.4 295,674.8 296.5,672.3 298,673.6 299.5,675.2 301,674.5 302.5,668.4 304,666.7 305.5,673.1 307,678 308.5,677.3 310,675.9 311.5,674.3 313,678.2 314.5,680 316,679.9 317.5,677.8 319,681.9 320.5,681.6 322,684 323.5,682.7 325,682.1 326.5,681.1 328,679.3 329.5,679.9 331,680.2 332.5,673.8 334,676.8 335.5,674.4 337,673.2 338.5,673.3 340,675.1 341.5,673.7 343,668.3 344.5,670.7 346,676.7 347.5,679.1 349,678.4 350.5,674.9 352,673.1 353.5,673 355,677.3 356.5,679.2 358,674.2 359.5,674.3 361,678.9 362.5,680.5 364,680.5 365.5,683.5 367,676.5 368.5,680 370,678.3 371.5,674.4 373,676.2 374.5,677.3 376,675.6 377.5,672.5 379,667.2 380.5,672.6 382,676.7 383.5,677.3 385,682.8 386.5,682.1 388,677.8 389.5,675 391,678.1 392.5,674.9 394,675.8 395.5,675.5 397,677.3 398.5,678.5 400,675.5 401.5,672.6 403,662.5 404.5,668.9 406,675.1 407.5,675.9 409,679.2 410.5,677.5 412,671.8 413.5,674 415,669.8 416.5,674.1 418,675.6 419.5,673.3 421,673.6 422.5,674.3 424,674.1 425.5,673.8 427,674 428.5,670.2 430,672 431.5,672.8 433,671.6 434.5,664.7 436,668 437.5,670.2 439,671.1 440.5,672.8 442,673.5 443.5,674 445,671.1 446.5,666.4 448,667.9 449.5,668.3 451,670.7 452.5,666.8 454,663.7 455.5,669.7 457,669.4 458.5,669.1 460,667.7 461.5,667.7 463,670.1 464.5,665.9 466,670.9 467.5,670.4 469,670.1 470.5,669.3 472,667.5 473.5,670 475,665.9 476.5,663.9 478,652.4 479.5,652 481,652.6 482.5,652.4 484,652.4 485.5,653.3 487,652.4 488.5,652.3 490,652.6 491.5,653.6 493,652.8 494.5,653.5 496,654.2 497.5,654.2 499,653.9 500.5,654.4 502,654.3 503.5,653 505,651.8 506.5,651.2 508,650.2 509.5,649.4 511,649.9 512.5,649.5 514,649.6 515.5,650.3 517,650.1 518.5,650.2 520,649.4 521.5,648.9 523,649 524.5,649 526,649.2 527.5,648.9 529,649.2 530.5,649.2 532,649.3 533.5,649.2 535,649.4 536.5,649.1 538,649.3 539.5,649.3 541,649.2 542.5,649.2 544,649.4 545.5,649.4 547,649.4 548.5,649.6 550,649.6 551.5,649.4 553,649.3 554.5,649.4 556,649.5 557.5,649.1 559,649.2 560.5,649.1 562,649 563.5,648.9 565,648.9 566.5,649 568,649 569.5,649 571,648.9 572.5,649 574,649 575.5,649 577,649.1 578.5,648.8 580,649.1 581.5,649.1 583,648.9 584.5,649.1 586,649.1 587.5,649 589,648.9 590.5,649 592,649.1 593.5,649 595,649.3 596.5,649.1 598,649 599.5,649 601,649.1 602.5,648.8 604,649 605.5,649 607,649.1 608.5,649 610,648.9 611.5,649.1 613,649 614.5,649.1 616,649 617.5,649.1 617.5,648.3" fill="#cdf9cd"/>
<polygon points="70,648.3 70,644.2 71.5,644.3 73,645.4 74.5,647 76,648.4 77.5,648.4 79,648.4 80.5,648.4 82,648.4 83.5,648.4 85,648.4 86.5,648.4 88,648.4 89.5,648.4 91,648.4 92.5,648.4 94,648.4 95.5,648.4 97,648.4 98.5,648.4 100,648.4 101.5,648.4 103,648.4 104.5,648.4 106,648.4 107.5,648.4 109,648.4 110.5,648.4 112,648.4 113.5,648.4 115,646.8 116.5,642.3 118,642.2 119.5,642.1 121,641.9 122.5,642.4 124,642.6 125.5,642.3 127,642 128.5,642.3 130,642.2 131.5,642.3 133,642.9 134.5,642.7 136,642.4 137.5,642.7 139,642.7 140.5,642.6 142,642.6 143.5,642.8 145,643.1 146.5,642.6 148,643 149.5,642.8 151,642.8 152.5,643.5 154,643.4 155.5,643.9 157,643.6 158.5,644.4 160,644 161.5,643.9 163,644.2 164.5,644.3 166,644.3 167.5,644.3 169,644.5 170.5,644.4 172,644.4 173.5,644.9 175,644.7 176.5,644.8 178,645 179.5,645.2 181,645.3 182.5,645.8 184,645.6 185.5,646 187,645.7 188.5,646.4 190,646.7 191.5,647.8 193,648.9 194.5,649.6 196,650.3 197.5,651.7 199,650.2 200.5,649.7 202,647.8 203.5,646.6 205,645.4 206.5,643.7 208,643.3 209.5,642.2 211,641.1 212.5,641.3 214,643.4 215.5,644 217,641.1 218.5,640.1 220,641.3 221.5,641.2 223,642.3 224.5,641.6 226,641.5 227.5,645.9 229,648.9 230.5,651.2 232,650.9 233.5,652 235,653 236.5,653.2 238,655.4 239.5,655.9 241,653.4 242.5,651 244,652 245.5,654.1 247,651.7 248.5,651.7 250,651.8 251.5,649.6 253,649.3 254.5,651.5 256,650.9 257.5,650.2 259,647.4 260.5,649.6 262,651.5 263.5,653.5 265,649.5 266.5,646 268,642.8 269.5,642.3 271,644.2 272.5,646.2 274,644 275.5,638.3 277,637.8 278.5,646.6 280,651.4 281.5,649.7 283,647 284.5,650.2 286,653 287.5,654.6 289,655.5 290.5,655.9 292,652.3 293.5,649.4 295,655.2 296.5,655.5 298,659.4 299.5,662.2 301,662.7 302.5,657.7 304,656.5 305.5,663.7 307,667.7 308.5,664.7 310,662.6 311.5,660.4 313,664.4 314.5,665.5 316,665.2 317.5,662.7 319,666.8 320.5,667.1 322,668.8 323.5,667.1 325,665.3 326.5,664.2 328,662.5 329.5,664.2 331,665.4 332.5,659.7 334,663.6 335.5,661.4 337,660.7 338.5,660.9 340,663.2 341.5,661.5 343,656.5 344.5,658.7 346,663.5 347.5,665 349,663.4 350.5,659.3 352,657.2 353.5,657.7 355,662.3 356.5,663.8 358,659.8 359.5,659.8 361,664.8 362.5,666.2 364,664.6 365.5,666.4 367,657.9 368.5,660.9 370,659.9 371.5,656.8 373,659.3 374.5,660.7 376,660.2 377.5,657.8 379,653.5 380.5,659.6 382,662.2 383.5,661.4 385,665.9 386.5,664.5 388,659.7 389.5,657.8 391,661.1 392.5,657.6 394,659.3 395.5,658.8 397,662.4 398.5,664.3 400,661.7 401.5,659.8 403,650.3 404.5,656.5 406,662.2 407.5,662.2 409,664.4 410.5,662.9 412,657.2 413.5,659 415,655.5 416.5,661.3 418,663.2 419.5,661.2 421,661.9 422.5,662 424,660.7 425.5,659.6 427,660.2 428.5,656.2 430,657.8 431.5,659 433,659 434.5,653 436,658.1 437.5,659.6 439,660.3 440.5,662.2 442,662 443.5,662.6 445,659.5 446.5,655.7 448,658.1 449.5,657.8 451,661 452.5,656.8 454,653.6 455.5,659.8 457,660 458.5,659.9 460,658.7 461.5,659.1 463,661 464.5,656.6 466,661.1 467.5,660.4 469,660.7 470.5,659.8 472,657.9 473.5,660 475,654.7 476.5,651.8 478,636.7 479.5,637 481,639.4 482.5,638.6 484,637.7 485.5,638 487,638.5 488.5,640.4 490,640.4 491.5,641.3 493,639.9 494.5,640.8 496,641.3 497.5,641.7 499,641.4 500.5,642.2 502,643.1 503.5,644.2 505,644.6 506.5,646.3 508,646.2 509.5,646.1 511,646.8 512.5,646.6 514,646.9 515.5,647.6 517,647.6 518.5,647.8 520,647 521.5,646.6 523,646.7 524.5,646.6 526,647.1 527.5,646.8 529,647 530.5,646.8 532,647.1 533.5,647.3 535,647.3 536.5,647.1 538,647.2 539.5,647.1 541,647.3 542.5,647.5 544,647.6 545.5,647.7 547,647.5 548.5,647.7 550,647.6 551.5,647.5 553,647.6 554.5,647.4 556,647.8 557.5,647.4 559,647.3 560.5,647.3 562,647.2 563.5,647.2 565,647.4 566.5,647.4 568,647.6 569.5,647.2 571,647.2 572.5,647.3 574,647.3 575.5,647.4 577,647.4 578.5,647.2 580,647.2 581.5,647.1 583,647.2 584.5,647.6 586,647.6 587.5,647.5 589,647.2 590.5,647.5 592,647.8 593.5,647.7 595,648.1 596.5,647.8 598,647.7 599.5,647.8 601,647.9 602.5,647.4 604,647.7 605.5,647.7 607,647.8 608.5,647.8 610,647.6 611.5,647.7 613,647.6 614.5,647.9 616,647.7 617.5,648 617.5,648.3" fill="#0aa8c0"/>
<polyline points="70,648.4 71.5,648.4 73,648.4 74.5,648.4 76,648.4 77.5,648.4 79,648.4 80.5,648.4 82,648.4 83.5,648.4 85,648.4 86.5,648.4 88,648.4 89.5,648.4 91,648.4 92.5,648.4 94,648.4 95.5,648.4 97,648.4 98.5,648.4 100,648.4 101.5,648.4 103,648.4 104.5,648.4 106,648.4 107.5,648.4 109,648.4 110.5,648.4 112,648.4 113.5,648.4 115,648.6 116.5,648.9 118,648.9 119.5,648.9 121,648.9 122.5,648.9 124,648.9 125.5,649 127,648.9 128.5,648.7 130,648.9 131.5,648.8 133,648.9 134.5,649 136,648.9 137.5,648.9 139,648.8 140.5,648.8 142,648.8 143.5,649.1 145,648.9 146.5,648.8 148,649 149.5,648.8 151,649 152.5,649.2 154,649.3 155.5,649.4 157,649.3 158.5,649.7 160,649.5 161.5,649.3 163,649.7 164.5,649.4 166,649.3 167.5,649.8 169,649.8 170.5,649.8 172,649.6 173.5,649.8 175,649.6 176.5,649.5 178,649.8 179.5,649.8 181,649.9 182.5,650.1 184,649.9 185.5,649.8 187,649.5 188.5,649.9 190,649.9 191.5,651.1 193,651.5 194.5,651.6 196,651.9 197.5,652.8 199,652.5 200.5,652.8 202,652.5 203.5,652 205,652.6 206.5,652.7 208,653.3 209.5,653.5 211,653.4 212.5,652.6 214,653.3 215.5,653.6 217,653.9 218.5,654 220,654.2 221.5,652.9 223,653.4 224.5,653.5 226,653.6 227.5,654.4 229,654.1 230.5,656 232,655.1 233.5,655.7 235,656.5 236.5,656.9 238,659.3 239.5,659.5 241,657.2 242.5,655.3 244,656.1 245.5,659.1 247,659.7 248.5,661.4 250,662.9 251.5,662.3 253,661.2 254.5,663 256,663.2 257.5,663.2 259,661.4 260.5,662.4 262,664.1 263.5,667.2 265,667.4 266.5,667.9 268,667.9 269.5,668.3 271,670.2 272.5,671.7 274,670.2 275.5,667.8 277,670.2 278.5,670.5 280,670.3 281.5,669.7 283,668.4 284.5,669.8 286,671.8 287.5,673 289,674.5 290.5,674.6 292,672.3 293.5,670.4 295,674.8 296.5,672.3 298,673.6 299.5,675.2 301,674.5 302.5,668.4 304,666.7 305.5,673.1 307,678 308.5,677.3 310,675.9 311.5,674.3 313,678.2 314.5,680 316,679.9 317.5,677.8 319,681.9 320.5,681.6 322,684 323.5,682.7 325,682.1 326.5,681.1 328,679.3 329.5,679.9 331,680.2 332.5,673.8 334,676.8 335.5,674.4 337,673.2 338.5,673.3 340,675.1 341.5,673.7 343,668.3 344.5,670.7 346,676.7 347.5,679.1 349,678.4 350.5,674.9 352,673.1 353.5,673 355,677.3 356.5,679.2 358,674.2 359.5,674.3 361,678.9 362.5,680.5 364,680.5 365.5,683.5 367,676.5 368.5,680 370,678.3 371.5,674.4 373,676.2 374.5,677.3 376,675.6 377.5,672.5 379,667.2 380.5,672.6 382,676.7 383.5,677.3 385,682.8 386.5,682.1 388,677.8 389.5,675 391,678.1 392.5,674.9 394,675.8 395.5,675.5 397,677.3 398.5,678.5 400,675.5 401.5,672.6 403,662.5 404.5,668.9 406,675.1 407.5,675.9 409,679.2 410.5,677.5 412,671.8 413.5,674 415,669.8 416.5,674.1 418,675.6 419.5,673.3 421,673.6 422.5,674.3 424,674.1 425.5,673.8 427,674 428.5,670.2 430,672 431.5,672.8 433,671.6 434.5,664.7 436,668 437.5,670.2 439,671.1 440.5,672.8 442,673.5 443.5,674 445,671.1 446.5,666.4 448,667.9 449.5,668.3 451,670.7 452.5,666.8 454,663.7 455.5,669.7 457,669.4 458.5,669.1 460,667.7 461.5,667.7 463,670.1 464.5,665.9 466,670.9 467.5,670.4 469,670.1 470.5,669.3 472,667.5 473.5,670 475,665.9 476.5,663.9 478,652.4 479.5,652 481,652.6 482.5,652.4 484,652.4 485.5,653.3 487,652.4 488.5,652.3 490,652.6 491.5,653.6 493,652.8 494.5,653.5 496,654.2 497.5,654.2 499,653.9 500.5,654.4 502,654.3 503.5,653 505,651.8 506.5,651.2 508,650.2 509.5,649.4 511,649.9 512.5,649.5 514,649.6 515.5,650.3 517,650.1 518.5,650.2 520,649.4 521.5,648.9 523,649 524.5,649 526,649.2 527.5,648.9 529,649.2 530.5,649.2 532,649.3 533.5,649.2 535,649.4 536.5,649.1 538,649.3 539.5,649.3 541,649.2 542.5,649.2 544,649.4 545.5,649.4 547,649.4 548.5,649.6 550,649.6 551.5,649.4 553,649.3 554.5,649.4 556,649.5 557.5,649.1 559,649.2 560.5,649.1 562,649 563.5,648.9 565,648.9 566.5,649 568,649 569.5,649 571,648.9 572.5,649 574,649 575.5,649 577,649.1 578.5,648.8 580,649.1 581.5,649.1 583,648.9 584.5,649.1 586,649.1 587.5,649 589,648.9 590.5,649 592,649.1 593.5,649 595,649.3 596.5,649.1 598,649 599.5,649 601,649.1 602.5,648.8 604,649 605.5,649 607,649.1 608.5,649 610,648.9 611.5,649.1 613,649 614.5,649.1 616,649 617.5,649.1" fill="none" stroke="#218a40" stroke-width="1.35" stroke-linejoin="miter"/>
<polyline points="70,648.2 71.5,648.2 73,648.1 74.5,648.1 76,648.1 77.5,648 79,648 80.5,648 82,648 83.5,647.9 85,647.9 86.5,647.9 88,647.8 89.5,647.8 91,647.8 92.5,647.7 94,647.6 95.5,647.6 97,647.5 98.5,647.5 100,647.4 101.5,647.3 103,647.3 104.5,647.2 106,647.2 107.5,647.1 109,647 110.5,647 112,646.8 113.5,646.7 115,646.6 116.5,646.4 118,646.2 119.5,646 121,645.8 122.5,645.6 124,645.4 125.5,645.2 127,645 128.5,644.8 130,644.6 131.5,644.4 133,644.2 134.5,644.1 136,643.9 137.5,643.7 139,643.5 140.5,643.3 142,643.2 143.5,643 145,642.8 146.5,642.6 148,642.4 149.5,642.3 151,642.1 152.5,642 154,641.8 155.5,641.7 157,641.6 158.5,641.4 160,641.3 161.5,641.2 163,641 164.5,640.9 166,640.8 167.5,640.6 169,640.5 170.5,640.4 172,640.3 173.5,640.2 175,640 176.5,639.9 178,639.8 179.5,639.7 181,639.6 182.5,639.5 184,639.4 185.5,639.3 187,639.2 188.5,639.1 190,639 191.5,638.9 193,638.7 194.5,638.6 196,638.4 197.5,638.3 199,638.2 200.5,638 202,637.9 203.5,637.7 205,637.6 206.5,637.4 208,637.2 209.5,636.9 211,636.6 212.5,636.3 214,636 215.5,635.7 217,635.4 218.5,635.3 220,635.2 221.5,635 223,634.9 224.5,634.8 226,634.7 227.5,634.6 229,634.7 230.5,634.7 232,634.8 233.5,634.9 235,634.9 236.5,635 238,635.1 239.5,635.2 241,635.4 242.5,635.5 244,635.7 245.5,635.8 247,636 248.5,636.1 250,636.3 251.5,636.4 253,636.6 254.5,636.8 256,636.9 257.5,637 259,637.1 260.5,637.2 262,637.3 263.5,637.4 265,637.5 266.5,637.6 268,637.4 269.5,637.2 271,637 272.5,636.7 274,636.5 275.5,636.2 277,636 278.5,636.1 280,636.2 281.5,636.3 283,636.4 284.5,636.4 286,636.5 287.5,636.7 289,636.9 290.5,637.1 292,637.3 293.5,637.5 295,637.7 296.5,637.9 298,638.3 299.5,638.6 301,639 302.5,639.4 304,639.8 305.5,640.2 307,640.6 308.5,641.3 310,641.9 311.5,642.6 313,643.2 314.5,643.9 316,644.6 317.5,645.2 319,646 320.5,646.8 322,647.5 323.5,648.2 325,649 326.5,649.8 328,650.4 329.5,651 331,651.6 332.5,652.2 334,652.8 335.5,653.4 337,654 338.5,654.6 340,655.1 341.5,655.7 343,656.2 344.5,656.8 346,657.3 347.5,657.8 349,658.3 350.5,658.8 352,659.3 353.5,659.8 355,660.3 356.5,660.8 358,661.2 359.5,661.6 361,662.1 362.5,662.5 364,663 365.5,663.4 367,663.9 368.5,664.3 370,664.8 371.5,665.2 373,665.7 374.5,666.1 376,666.6 377.5,667 379,667.5 380.5,667.9 382,668.4 383.5,668.8 385,669.3 386.5,669.8 388,670.2 389.5,670.6 391,671.1 392.5,671.5 394,672 395.5,672.4 397,672.8 398.5,673.2 400,673.6 401.5,673.9 403,674.3 404.5,674.8 406,675.3 407.5,675.8 409,676.3 410.5,676.8 412,677.3 413.5,677.8 415,678.3 416.5,678.8 418,679.2 419.5,679.6 421,680.1 422.5,680.5 424,681 425.5,681.4 427,681.9 428.5,682.3 430,682.8 431.5,683.2 433,683.7 434.5,684.1 436,684.5 437.5,684.9 439,685.3 440.5,685.7 442,686.1 443.5,686.5 445,686.9 446.5,687.3 448,687.7 449.5,688.1 451,688.6 452.5,689 454,689.4 455.5,689.8 457,690.2 458.5,690.6 460,691 461.5,691.3 463,691.7 464.5,692.1 466,692.5 467.5,692.8 469,693.2 470.5,693.6 472,693.9 473.5,694.3 475,694.6 476.5,694.8 478,694.9 479.5,694.4 481,694 482.5,693.7 484,693.4 485.5,693.1 487,692.8 488.5,692.5 490,692.2 491.5,691.9 493,691.7 494.5,691.4 496,691.2 497.5,691 499,690.7 500.5,690.5 502,690.3 503.5,690.2 505,690.2 506.5,690.1 508,690 509.5,689.9 511,689.8 512.5,689.7 514,689.7 515.5,689.6 517,689.6 518.5,689.5 520,689.4 521.5,689.4 523,689.3 524.5,689.3 526,689.2 527.5,689.1 529,689.1 530.5,689 532,689 533.5,688.9 535,688.8 536.5,688.8 538,688.7 539.5,688.7 541,688.6 542.5,688.6 544,688.5 545.5,688.5 547,688.4 548.5,688.4 550,688.3 551.5,688.3 553,688.2 554.5,688.2 556,688.1 557.5,688.1 559,688.1 560.5,688 562,688 563.5,687.9 565,687.9 566.5,687.8 568,687.8 569.5,687.7 571,687.7 572.5,687.7 574,687.6 575.5,687.6 577,687.5 578.5,687.5 580,687.4 581.5,687.4 583,687.4 584.5,687.3 586,687.3 587.5,687.3 589,687.2 590.5,687.2 592,687.2 593.5,687.1 595,687.1 596.5,687.1 598,687.1 599.5,687 601,687 602.5,687 604,686.9 605.5,686.9 607,686.9 608.5,686.8 610,686.8 611.5,686.8 613,686.7 614.5,686.7 616,686.6 617.5,686.6" fill="none" stroke="#0f57b8" stroke-width="1.9" stroke-linejoin="round" stroke-linecap="round"/>
</g>
<path d="M69.3 698.8V612.8H617.6" fill="none" stroke="#111" stroke-width="1.5" stroke-linejoin="miter"/>
<path d="M617.6 612.8V698.8" fill="none" stroke="#111" stroke-width="1.3"/>
<path d="M64 698.8H622.7" fill="none" stroke="#222" stroke-width="1.15"/>
<line x1="64" x2="69.3" y1="623.0" y2="623.0" stroke="#333" stroke-width="1"/>
<line x1="617.6" x2="622.7" y1="623.0" y2="623.0" stroke="#2a2a2a" stroke-width="1"/>
<text x="55.6" y="627.5" font-size="14.2" text-anchor="end">25</text>
<text x="631.2" y="627.5" font-size="14.2">25</text>
<line x1="64" x2="69.3" y1="648.3" y2="648.3" stroke="#333" stroke-width="1"/>
<line x1="617.6" x2="622.7" y1="648.3" y2="648.3" stroke="#2a2a2a" stroke-width="1"/>
<text x="55.6" y="652.8" font-size="14.2" text-anchor="end">0</text>
<text x="631.2" y="652.8" font-size="14.2">0</text>
<line x1="64" x2="69.3" y1="673.7" y2="673.7" stroke="#333" stroke-width="1"/>
<line x1="617.6" x2="622.7" y1="673.7" y2="673.7" stroke="#2a2a2a" stroke-width="1"/>
<text x="55.6" y="678.2" font-size="14.2" text-anchor="end">-25</text>
<text x="631.2" y="678.2" font-size="14.2">-25</text>
<line x1="64" x2="69.3" y1="699.0" y2="699.0" stroke="#333" stroke-width="1"/>
<line x1="617.6" x2="622.7" y1="699.0" y2="699.0" stroke="#2a2a2a" stroke-width="1"/>
<text x="55.6" y="703.5" font-size="14.2" text-anchor="end">-50</text>
<text x="631.2" y="703.5" font-size="14.2">-50</text>
<text x="79.2" y="629.4" font-size="14" textLength="12.2" lengthAdjust="spacingAndGlyphs">g)</text>
</g>
<g>
<clipPath id="cph"><rect x="69.3" y="714.3" width="548.3000000000001" height="85.70000000000005"/></clipPath>
<g clip-path="url(#cph)">
<polygon points="70,749.7 70,747 71.5,747 73,746.8 74.5,746.7 76,746.9 77.5,746.9 79,746.7 80.5,746.5 82,746.4 83.5,746.5 85,746.6 86.5,746.8 88,746.7 89.5,746.6 91,746.8 92.5,747 94,748.3 95.5,748.2 97,748.3 98.5,748.4 100,748.3 101.5,748.2 103,748.3 104.5,748.3 106,748.4 107.5,748.3 109,748.3 110.5,748.4 112,748.4 113.5,748.2 115,748.4 116.5,747.3 118,747.4 119.5,747.1 121,747 122.5,746.8 124,747 125.5,747 127,746.9 128.5,746.7 130,746.7 131.5,746.6 133,746.5 134.5,746.3 136,746.3 137.5,746.3 139,746.3 140.5,746.3 142,746 143.5,746.2 145,746 146.5,746.2 148,746 149.5,746.1 151,745.8 152.5,745.8 154,745.7 155.5,745.8 157,745.7 158.5,745.7 160,745.4 161.5,745.8 163,745.7 164.5,745.6 166,745.4 167.5,745.1 169,745.6 170.5,745.5 172,745.1 173.5,745.3 175,745.1 176.5,745.1 178,745.1 179.5,744.9 181,745.4 182.5,745.6 184,745.3 185.5,745.7 187,745.9 188.5,745.5 190,746 191.5,746.5 193,747 194.5,747.3 196,747.8 197.5,747.9 199,747.3 200.5,746.2 202,745.5 203.5,742.5 205,740.2 206.5,737.9 208,738.4 209.5,739.5 211,741.5 212.5,742.6 214,744.4 215.5,740.2 217,735.8 218.5,732.8 220,733 221.5,736.8 223,738.9 224.5,739 226,739.2 227.5,742.3 229,745 230.5,746.2 232,747.1 233.5,747.2 235,746.9 236.5,746.8 238,746.5 239.5,746.3 241,746 242.5,745.6 244,745.1 245.5,744.6 247,741.8 248.5,740 250,737.4 251.5,736.5 253,736.9 254.5,737.7 256,737.3 257.5,737.2 259,735.7 260.5,737.4 262,737.8 263.5,737.2 265,734.6 266.5,731.6 268,730.6 269.5,730.8 271,732.4 272.5,733.8 274,735.6 275.5,737.9 277,738.2 278.5,738.9 280,739.8 281.5,739.5 283,739.8 284.5,740 286,739.7 287.5,739.2 289,738.2 290.5,738.8 292,738.1 293.5,738.3 295,737.6 296.5,739.3 298,739.8 299.5,741.2 301,741.4 302.5,741.8 304,741.6 305.5,740.4 307,739.3 308.5,739 310,738.1 311.5,737.9 313,737.3 314.5,737 316,736.7 317.5,737.4 319,737.4 320.5,737.9 322,737 323.5,736 325,735.5 326.5,735.3 328,735.7 329.5,736.4 331,737.5 332.5,738.7 334,739.6 335.5,739.7 337,739.6 338.5,739.8 340,739.7 341.5,740 343,740.2 344.5,740 346,738.8 347.5,738 349,737.3 350.5,736.1 352,736.7 353.5,736.3 355,736.3 356.5,737 358,737.3 359.5,737.2 361,736.9 362.5,736.8 364,735.3 365.5,735.1 367,733.8 368.5,733.4 370,732.9 371.5,734.6 373,735 374.5,735.6 376,736.4 377.5,736.7 379,737.8 380.5,737.7 382,736.2 383.5,735.3 385,734.8 386.5,734.5 388,733.5 389.5,733.6 391,733.9 392.5,734.1 394,734.6 395.5,735.2 397,735.3 398.5,736.3 400,737.5 401.5,738.1 403,739.1 404.5,739.3 406,738.4 407.5,737.9 409,736.8 410.5,736.9 412,736.9 413.5,736.3 415,737.1 416.5,738.1 418,739.2 419.5,740 421,739.7 422.5,738.7 424,738.3 425.5,737.5 427,737.5 428.5,737.9 430,737.5 431.5,738.3 433,739 434.5,739.6 436,740.7 437.5,740.9 439,740.6 440.5,740 442,739.5 443.5,739.8 445,740 446.5,740.3 448,740.7 449.5,740.9 451,741.2 452.5,741.2 454,741.1 455.5,741.8 457,741.2 458.5,742.1 460,741.5 461.5,741.9 463,742 464.5,741.7 466,741.5 467.5,741.6 469,741.5 470.5,741.4 472,741.3 473.5,741.1 475,741 476.5,741.9 478,744.1 479.5,744.6 481,744.7 482.5,744.6 484,744.5 485.5,744.1 487,744.1 488.5,744.3 490,744 491.5,744 493,743.7 494.5,743.8 496,743.4 497.5,744 499,743.9 500.5,744.3 502,744.5 503.5,745 505,746 506.5,746.3 508,746.7 509.5,746.9 511,747.4 512.5,747.4 514,747.3 515.5,747.7 517,747.6 518.5,747.8 520,747.8 521.5,747.6 523,747.8 524.5,748 526,747.9 527.5,747.9 529,747.8 530.5,748 532,747.9 533.5,748.1 535,748.2 536.5,748.3 538,748.2 539.5,748.2 541,748.3 542.5,748.3 544,748.3 545.5,748.3 547,748.4 548.5,748.3 550,748.3 551.5,748.4 553,748.5 554.5,748.4 556,748.3 557.5,748.3 559,748.4 560.5,748.4 562,748.2 563.5,748.4 565,748.3 566.5,748.5 568,748.4 569.5,748.4 571,748.2 572.5,748.1 574,748.4 575.5,748.4 577,748.4 578.5,748.1 580,748.5 581.5,748.5 583,748.4 584.5,748.3 586,748.5 587.5,748.5 589,748.6 590.5,748.6 592,748.3 593.5,748.3 595,748.6 596.5,748.7 598,748.6 599.5,748.6 601,748.7 602.5,748.8 604,748.8 605.5,748.6 607,748.7 608.5,748.7 610,748.7 611.5,748.7 613,748.8 614.5,748.7 616,748.7 617.5,748.7 617.5,749.7" fill="#2bdaf3"/>
<polygon points="70,749.7 70,749.8 71.5,749.8 73,749.8 74.5,749.8 76,749.8 77.5,749.8 79,749.8 80.5,749.8 82,749.9 83.5,749.8 85,749.8 86.5,749.9 88,749.9 89.5,749.9 91,749.9 92.5,749.9 94,749.9 95.5,749.9 97,749.9 98.5,749.9 100,749.9 101.5,749.9 103,749.9 104.5,749.9 106,749.9 107.5,749.9 109,749.9 110.5,749.9 112,750 113.5,749.9 115,750.2 116.5,750.4 118,750.4 119.5,750.3 121,750.2 122.5,750.2 124,750.4 125.5,750.4 127,750.4 128.5,750.3 130,750.3 131.5,750.2 133,750.4 134.5,750.3 136,750.2 137.5,750.3 139,750.2 140.5,750.4 142,750.4 143.5,750.3 145,750.2 146.5,750.3 148,750.4 149.5,750.2 151,751.2 152.5,751.1 154,751.5 155.5,751.3 157,751.3 158.5,751.6 160,751.3 161.5,751.3 163,751.3 164.5,751.5 166,751.7 167.5,751.3 169,751.2 170.5,751.2 172,751.5 173.5,751.5 175,751.3 176.5,751.2 178,751.3 179.5,751.4 181,751.3 182.5,751.2 184,751.1 185.5,751.1 187,751.2 188.5,751.4 190,751.3 191.5,752.6 193,752.4 194.5,752.6 196,753 197.5,753.2 199,753.2 200.5,753.7 202,752.9 203.5,753.5 205,754.3 206.5,753.2 208,753.2 209.5,754.7 211,754.9 212.5,754.8 214,754.5 215.5,755 217,755.7 218.5,756.1 220,754.6 221.5,754.8 223,754.7 224.5,754.3 226,755.2 227.5,754.9 229,754.8 230.5,756.1 232,757.2 233.5,756.1 235,757 236.5,756 238,758.6 239.5,757.6 241,755.5 242.5,755 244,755.8 245.5,758.8 247,759.8 248.5,759 250,758.8 251.5,758.2 253,757.7 254.5,758.9 256,760.3 257.5,759.4 259,757.8 260.5,758.5 262,758.5 263.5,760.5 265,762.3 266.5,761.6 268,760.4 269.5,760.9 271,762.5 272.5,762.5 274,761.8 275.5,761.6 277,761.2 278.5,765.3 280,762.3 281.5,762.7 283,762.6 284.5,765 286,766 287.5,766.8 289,768.4 290.5,769.8 292,768.5 293.5,767.3 295,768 296.5,767.6 298,769.9 299.5,769.1 301,767.1 302.5,767 304,762.7 305.5,770.1 307,771.7 308.5,771.9 310,774 311.5,774.6 313,774.3 314.5,773.9 316,773.8 317.5,775.7 319,774.2 320.5,773.6 322,778.8 323.5,775.8 325,777.1 326.5,777.5 328,776.1 329.5,773.2 331,775.1 332.5,769.8 334,772.6 335.5,775.4 337,773.3 338.5,771.7 340,774.4 341.5,773.9 343,769.2 344.5,770.7 346,776.1 347.5,776.4 349,775.3 350.5,776.3 352,773.3 353.5,775.4 355,775.4 356.5,776.7 358,773.6 359.5,774.4 361,780.1 362.5,778.6 364,779.3 365.5,781.4 367,776 368.5,781.2 370,775.6 371.5,774 373,775.1 374.5,774.5 376,772.1 377.5,769.8 379,766.8 380.5,768.5 382,774.8 383.5,778.1 385,780.2 386.5,774 388,778.2 389.5,776.2 391,774.2 392.5,775.5 394,774 395.5,774.4 397,777 398.5,777.9 400,777.7 401.5,771.5 403,762.3 404.5,767.6 406,770.9 407.5,778.9 409,777.4 410.5,774 412,776.1 413.5,771.6 415,770.7 416.5,771.5 418,774.3 419.5,774.6 421,776.7 422.5,775.8 424,775.6 425.5,774.6 427,773.2 428.5,770.8 430,770 431.5,772.2 433,771.6 434.5,764.3 436,765.6 437.5,770.8 439,772.1 440.5,774.8 442,774.8 443.5,771.5 445,772.3 446.5,767.2 448,767.8 449.5,769.7 451,769.4 452.5,766.3 454,765.7 455.5,769.1 457,772.4 458.5,768.2 460,766.1 461.5,767.1 463,767.2 464.5,764.9 466,772.9 467.5,771.3 469,770.3 470.5,770.7 472,770.3 473.5,769 475,767.8 476.5,765 478,754 479.5,752 481,751.5 482.5,751.5 484,751.6 485.5,751.8 487,751.5 488.5,752.3 490,751.9 491.5,751.6 493,752.1 494.5,751.7 496,752 497.5,752.3 499,751.8 500.5,752.1 502,752.2 503.5,752.3 505,752.5 506.5,751.6 508,752.6 509.5,752 511,751.4 512.5,751.1 514,751.7 515.5,751.2 517,751.5 518.5,751.3 520,751.3 521.5,751.3 523,751.7 524.5,751.5 526,751.1 527.5,751.2 529,751.4 530.5,751.3 532,751 533.5,751.1 535,751.1 536.5,751.1 538,751.2 539.5,751.1 541,750.9 542.5,751.2 544,750.8 545.5,751.1 547,751.2 548.5,751 550,751 551.5,751.5 553,751 554.5,751.2 556,751.2 557.5,751.1 559,751.3 560.5,751.2 562,750.9 563.5,751 565,750.9 566.5,751.1 568,751.2 569.5,750.9 571,751 572.5,751.1 574,751 575.5,751 577,750.9 578.5,750.9 580,750.6 581.5,750.8 583,750.7 584.5,750.9 586,750.8 587.5,750.9 589,750.7 590.5,750.8 592,750.6 593.5,750.8 595,750.7 596.5,750.5 598,750.6 599.5,750.8 601,750.7 602.5,750.6 604,750.9 605.5,750.5 607,750.7 608.5,750.7 610,750.5 611.5,750.6 613,750.6 614.5,750.6 616,750.6 617.5,750.6 617.5,749.7" fill="#cdf9cd"/>
<polygon points="70,749.7 70,747.1 71.5,747.1 73,746.9 74.5,746.8 76,747.1 77.5,747 79,746.9 80.5,746.6 82,746.6 83.5,746.6 85,746.7 86.5,747 88,746.9 89.5,746.8 91,746.9 92.5,747.2 94,748.5 95.5,748.3 97,748.5 98.5,748.6 100,748.6 101.5,748.4 103,748.5 104.5,748.5 106,748.6 107.5,748.5 109,748.5 110.5,748.6 112,748.6 113.5,748.4 115,748.8 116.5,748 118,748.1 119.5,747.7 121,747.6 122.5,747.3 124,747.6 125.5,747.7 127,747.6 128.5,747.3 130,747.3 131.5,747.1 133,747.2 134.5,747 136,746.8 137.5,746.9 139,746.8 140.5,747 142,746.7 143.5,746.9 145,746.6 146.5,746.7 148,746.7 149.5,746.7 151,747.2 152.5,747.2 154,747.4 155.5,747.4 157,747.4 158.5,747.6 160,747 161.5,747.4 163,747.3 164.5,747.4 166,747.4 167.5,746.8 169,747.1 170.5,747 172,746.9 173.5,747.1 175,746.7 176.5,746.6 178,746.7 179.5,746.6 181,747 182.5,747.1 184,746.7 185.5,747.2 187,747.4 188.5,747.2 190,747.6 191.5,749.4 193,749.6 194.5,750.2 196,751.1 197.5,751.4 199,750.8 200.5,750.2 202,748.7 203.5,746.3 205,744.8 206.5,741.5 208,741.9 209.5,744.4 211,746.7 212.5,747.7 214,749.2 215.5,745.5 217,741.8 218.5,739.2 220,737.9 221.5,741.9 223,743.9 224.5,743.6 226,744.6 227.5,747.5 229,750.1 230.5,752.6 232,754.7 233.5,753.7 235,754.2 236.5,753.2 238,755.4 239.5,754.2 241,751.8 242.5,751 244,751.2 245.5,753.7 247,751.9 248.5,749.3 250,746.4 251.5,745 253,745 254.5,746.9 256,748 257.5,746.9 259,743.8 260.5,746.3 262,746.6 263.5,748 265,747.3 266.5,743.5 268,741.3 269.5,742 271,745.2 272.5,746.7 274,747.7 275.5,749.8 277,749.7 278.5,754.5 280,752.4 281.5,752.5 283,752.8 284.5,755.3 286,756.1 287.5,756.3 289,756.9 290.5,758.9 292,756.9 293.5,755.9 295,755.9 296.5,757.2 298,760 299.5,760.6 301,758.8 302.5,759.1 304,754.6 305.5,760.8 307,761.3 308.5,761.2 310,762.4 311.5,762.9 313,762 314.5,761.3 316,760.9 317.5,763.4 319,761.9 320.5,761.8 322,766.1 323.5,762.1 325,762.8 326.5,763.1 328,762.2 329.5,759.9 331,762.9 332.5,758.7 334,762.5 335.5,765.4 337,763.2 338.5,761.7 340,764.4 341.5,764.1 343,759.7 344.5,761 346,765.3 347.5,764.7 349,762.8 350.5,762.7 352,760.3 353.5,762 355,762 356.5,764 358,761.2 359.5,761.9 361,767.3 362.5,765.7 364,764.9 365.5,766.9 367,760.2 368.5,764.9 370,758.8 371.5,758.8 373,760.4 374.5,760.4 376,758.8 377.5,756.8 379,754.9 380.5,756.5 382,761.3 383.5,763.7 385,765.3 386.5,758.8 388,762 389.5,760.1 391,758.4 392.5,759.9 394,759 395.5,759.9 397,762.6 398.5,764.5 400,765.5 401.5,759.9 403,751.7 404.5,757.2 406,759.6 407.5,767.1 409,764.5 410.5,761.2 412,763.3 413.5,758.3 415,758.1 416.5,759.9 418,763.8 419.5,764.9 421,766.7 422.5,764.8 424,764.2 425.5,762.4 427,761 428.5,759 430,757.8 431.5,760.8 433,760.9 434.5,754.2 436,756.6 437.5,762 439,763 440.5,765.1 442,764.5 443.5,761.6 445,762.6 446.5,757.8 448,758.8 449.5,760.9 451,760.9 452.5,757.7 454,757.1 455.5,761.2 457,763.9 458.5,760.6 460,757.9 461.5,759.2 463,759.6 464.5,756.9 466,764.7 467.5,763.3 469,762.1 470.5,762.4 472,761.9 473.5,760.4 475,759.1 476.5,757.2 478,748.4 479.5,746.9 481,746.5 482.5,746.4 484,746.4 485.5,746.2 487,746 488.5,746.8 490,746.2 491.5,745.8 493,746.1 494.5,745.9 496,745.7 497.5,746.6 499,746 500.5,746.7 502,747 503.5,747.7 505,748.8 506.5,748.2 508,749.7 509.5,749.1 511,749.1 512.5,748.8 514,749.3 515.5,749.2 517,749.4 518.5,749.4 520,749.4 521.5,749.3 523,749.8 524.5,749.8 526,749.3 527.5,749.4 529,749.4 530.5,749.7 532,749.3 533.5,749.6 535,749.6 536.5,749.6 538,749.8 539.5,749.5 541,749.5 542.5,749.8 544,749.3 545.5,749.7 547,749.9 548.5,749.6 550,749.7 551.5,750.1 553,749.8 554.5,749.8 556,749.8 557.5,749.7 559,749.9 560.5,749.8 562,749.4 563.5,749.7 565,749.6 566.5,749.9 568,749.8 569.5,749.5 571,749.5 572.5,749.6 574,749.8 575.5,749.7 577,749.7 578.5,749.3 580,749.4 581.5,749.6 583,749.4 584.5,749.5 586,749.6 587.5,749.7 589,749.6 590.5,749.8 592,749.2 593.5,749.4 595,749.6 596.5,749.5 598,749.4 599.5,749.7 601,749.7 602.5,749.6 604,750 605.5,749.4 607,749.7 608.5,749.7 610,749.5 611.5,749.6 613,749.6 614.5,749.6 616,749.6 617.5,749.6 617.5,749.7" fill="#0aa8c0"/>
<polyline points="70,749.8 71.5,749.8 73,749.8 74.5,749.8 76,749.8 77.5,749.8 79,749.8 80.5,749.8 82,749.9 83.5,749.8 85,749.8 86.5,749.9 88,749.9 89.5,749.9 91,749.9 92.5,749.9 94,749.9 95.5,749.9 97,749.9 98.5,749.9 100,749.9 101.5,749.9 103,749.9 104.5,749.9 106,749.9 107.5,749.9 109,749.9 110.5,749.9 112,750 113.5,749.9 115,750.2 116.5,750.4 118,750.4 119.5,750.3 121,750.2 122.5,750.2 124,750.4 125.5,750.4 127,750.4 128.5,750.3 130,750.3 131.5,750.2 133,750.4 134.5,750.3 136,750.2 137.5,750.3 139,750.2 140.5,750.4 142,750.4 143.5,750.3 145,750.2 146.5,750.3 148,750.4 149.5,750.2 151,751.2 152.5,751.1 154,751.5 155.5,751.3 157,751.3 158.5,751.6 160,751.3 161.5,751.3 163,751.3 164.5,751.5 166,751.7 167.5,751.3 169,751.2 170.5,751.2 172,751.5 173.5,751.5 175,751.3 176.5,751.2 178,751.3 179.5,751.4 181,751.3 182.5,751.2 184,751.1 185.5,751.1 187,751.2 188.5,751.4 190,751.3 191.5,752.6 193,752.4 194.5,752.6 196,753 197.5,753.2 199,753.2 200.5,753.7 202,752.9 203.5,753.5 205,754.3 206.5,753.2 208,753.2 209.5,754.7 211,754.9 212.5,754.8 214,754.5 215.5,755 217,755.7 218.5,756.1 220,754.6 221.5,754.8 223,754.7 224.5,754.3 226,755.2 227.5,754.9 229,754.8 230.5,756.1 232,757.2 233.5,756.1 235,757 236.5,756 238,758.6 239.5,757.6 241,755.5 242.5,755 244,755.8 245.5,758.8 247,759.8 248.5,759 250,758.8 251.5,758.2 253,757.7 254.5,758.9 256,760.3 257.5,759.4 259,757.8 260.5,758.5 262,758.5 263.5,760.5 265,762.3 266.5,761.6 268,760.4 269.5,760.9 271,762.5 272.5,762.5 274,761.8 275.5,761.6 277,761.2 278.5,765.3 280,762.3 281.5,762.7 283,762.6 284.5,765 286,766 287.5,766.8 289,768.4 290.5,769.8 292,768.5 293.5,767.3 295,768 296.5,767.6 298,769.9 299.5,769.1 301,767.1 302.5,767 304,762.7 305.5,770.1 307,771.7 308.5,771.9 310,774 311.5,774.6 313,774.3 314.5,773.9 316,773.8 317.5,775.7 319,774.2 320.5,773.6 322,778.8 323.5,775.8 325,777.1 326.5,777.5 328,776.1 329.5,773.2 331,775.1 332.5,769.8 334,772.6 335.5,775.4 337,773.3 338.5,771.7 340,774.4 341.5,773.9 343,769.2 344.5,770.7 346,776.1 347.5,776.4 349,775.3 350.5,776.3 352,773.3 353.5,775.4 355,775.4 356.5,776.7 358,773.6 359.5,774.4 361,780.1 362.5,778.6 364,779.3 365.5,781.4 367,776 368.5,781.2 370,775.6 371.5,774 373,775.1 374.5,774.5 376,772.1 377.5,769.8 379,766.8 380.5,768.5 382,774.8 383.5,778.1 385,780.2 386.5,774 388,778.2 389.5,776.2 391,774.2 392.5,775.5 394,774 395.5,774.4 397,777 398.5,777.9 400,777.7 401.5,771.5 403,762.3 404.5,767.6 406,770.9 407.5,778.9 409,777.4 410.5,774 412,776.1 413.5,771.6 415,770.7 416.5,771.5 418,774.3 419.5,774.6 421,776.7 422.5,775.8 424,775.6 425.5,774.6 427,773.2 428.5,770.8 430,770 431.5,772.2 433,771.6 434.5,764.3 436,765.6 437.5,770.8 439,772.1 440.5,774.8 442,774.8 443.5,771.5 445,772.3 446.5,767.2 448,767.8 449.5,769.7 451,769.4 452.5,766.3 454,765.7 455.5,769.1 457,772.4 458.5,768.2 460,766.1 461.5,767.1 463,767.2 464.5,764.9 466,772.9 467.5,771.3 469,770.3 470.5,770.7 472,770.3 473.5,769 475,767.8 476.5,765 478,754 479.5,752 481,751.5 482.5,751.5 484,751.6 485.5,751.8 487,751.5 488.5,752.3 490,751.9 491.5,751.6 493,752.1 494.5,751.7 496,752 497.5,752.3 499,751.8 500.5,752.1 502,752.2 503.5,752.3 505,752.5 506.5,751.6 508,752.6 509.5,752 511,751.4 512.5,751.1 514,751.7 515.5,751.2 517,751.5 518.5,751.3 520,751.3 521.5,751.3 523,751.7 524.5,751.5 526,751.1 527.5,751.2 529,751.4 530.5,751.3 532,751 533.5,751.1 535,751.1 536.5,751.1 538,751.2 539.5,751.1 541,750.9 542.5,751.2 544,750.8 545.5,751.1 547,751.2 548.5,751 550,751 551.5,751.5 553,751 554.5,751.2 556,751.2 557.5,751.1 559,751.3 560.5,751.2 562,750.9 563.5,751 565,750.9 566.5,751.1 568,751.2 569.5,750.9 571,751 572.5,751.1 574,751 575.5,751 577,750.9 578.5,750.9 580,750.6 581.5,750.8 583,750.7 584.5,750.9 586,750.8 587.5,750.9 589,750.7 590.5,750.8 592,750.6 593.5,750.8 595,750.7 596.5,750.5 598,750.6 599.5,750.8 601,750.7 602.5,750.6 604,750.9 605.5,750.5 607,750.7 608.5,750.7 610,750.5 611.5,750.6 613,750.6 614.5,750.6 616,750.6 617.5,750.6" fill="none" stroke="#218a40" stroke-width="1.35" stroke-linejoin="miter"/>
<polyline points="70,749.5 71.5,749.4 73,749.4 74.5,749.3 76,749.3 77.5,749.2 79,749.1 80.5,749.1 82,749 83.5,749 85,748.9 86.5,748.8 88,748.8 89.5,748.7 91,748.6 92.5,748.5 94,748.4 95.5,748.3 97,748.2 98.5,748.1 100,748 101.5,747.9 103,747.8 104.5,747.7 106,747.6 107.5,747.5 109,747.4 110.5,747.3 112,747.2 113.5,747.1 115,747 116.5,746.8 118,746.7 119.5,746.6 121,746.5 122.5,746.4 124,746.3 125.5,746.2 127,746.1 128.5,746 130,745.9 131.5,745.8 133,745.7 134.5,745.6 136,745.5 137.5,745.5 139,745.4 140.5,745.3 142,745.2 143.5,745.1 145,745 146.5,744.9 148,744.8 149.5,744.7 151,744.6 152.5,744.5 154,744.4 155.5,744.3 157,744.2 158.5,744.1 160,744 161.5,743.9 163,743.8 164.5,743.7 166,743.6 167.5,743.5 169,743.4 170.5,743.3 172,743.2 173.5,743.1 175,743 176.5,742.8 178,742.7 179.5,742.6 181,742.5 182.5,742.4 184,742.3 185.5,742.2 187,742.1 188.5,742 190,741.9 191.5,741.9 193,741.9 194.5,741.9 196,741.9 197.5,741.9 199,741.9 200.5,741.9 202,741.9 203.5,741.9 205,741.9 206.5,741.9 208,741.7 209.5,741.5 211,741.3 212.5,741 214,740.8 215.5,740.5 217,740.3 218.5,740.2 220,740.1 221.5,739.9 223,739.8 224.5,739.7 226,739.6 227.5,739.5 229,739.7 230.5,739.8 232,739.9 233.5,740 235,740.1 236.5,740.3 238,740.4 239.5,740.5 241,740.6 242.5,740.7 244,740.9 245.5,741 247,741.1 248.5,741.1 250,741 251.5,741 253,741 254.5,741 256,740.9 257.5,740.9 259,740.8 260.5,740.7 262,740.6 263.5,740.5 265,740.4 266.5,740.3 268,740.3 269.5,740.2 271,740.2 272.5,740.2 274,740.2 275.5,740.1 277,740.1 278.5,740.2 280,740.4 281.5,740.6 283,740.7 284.5,740.9 286,741 287.5,741.2 289,741.5 290.5,741.7 292,742 293.5,742.3 295,742.5 296.5,742.8 298,743.2 299.5,743.7 301,744.1 302.5,744.6 304,745 305.5,745.5 307,745.9 308.5,746.4 310,746.9 311.5,747.4 313,747.9 314.5,748.5 316,749 317.5,749.5 319,750 320.5,750.6 322,751.1 323.5,751.6 325,752.2 326.5,752.7 328,753.2 329.5,753.8 331,754.3 332.5,754.8 334,755.3 335.5,755.8 337,756.3 338.5,756.8 340,757.3 341.5,757.8 343,758.4 344.5,758.9 346,759.3 347.5,759.8 349,760.3 350.5,760.8 352,761.3 353.5,761.7 355,762.2 356.5,762.8 358,763.3 359.5,763.8 361,764.3 362.5,764.8 364,765.3 365.5,765.7 367,766.1 368.5,766.5 370,766.9 371.5,767.2 373,767.6 374.5,768 376,768.5 377.5,768.9 379,769.3 380.5,769.7 382,770.1 383.5,770.6 385,771 386.5,771.4 388,771.7 389.5,772.1 391,772.5 392.5,772.9 394,773.3 395.5,773.7 397,774.1 398.5,774.5 400,774.9 401.5,775.2 403,775.6 404.5,776.1 406,776.6 407.5,777.1 409,777.6 410.5,778.1 412,778.6 413.5,779.1 415,779.6 416.5,780.2 418,780.7 419.5,781.2 421,781.7 422.5,782.2 424,782.7 425.5,783.2 427,783.7 428.5,784.1 430,784.6 431.5,785.1 433,785.6 434.5,786 436,786.5 437.5,786.9 439,787.3 440.5,787.7 442,788.1 443.5,788.6 445,789 446.5,789.5 448,789.9 449.5,790.4 451,790.8 452.5,791.2 454,791.7 455.5,792.1 457,792.5 458.5,792.9 460,793.3 461.5,793.7 463,794 464.5,794.4 466,794.8 467.5,795.2 469,795.6 470.5,796 472,796.4 473.5,796.8 475,797.2 476.5,797.6 478,797.8 479.5,797.6 481,797.3 482.5,797.1 484,796.9 485.5,796.7 487,796.5 488.5,796.2 490,796 491.5,795.8 493,795.7 494.5,795.5 496,795.3 497.5,795.1 499,794.9 500.5,794.8 502,794.7 503.5,794.6 505,794.5 506.5,794.5 508,794.4 509.5,794.4 511,794.3 512.5,794.3 514,794.2 515.5,794.2 517,794.2 518.5,794.2 520,794.1 521.5,794.1 523,794.1 524.5,794.1 526,794.1 527.5,794 529,794 530.5,794 532,794 533.5,794 535,794 536.5,793.9 538,793.9 539.5,793.9 541,793.9 542.5,793.9 544,793.9 545.5,793.9 547,793.8 548.5,793.8 550,793.8 551.5,793.8 553,793.8 554.5,793.8 556,793.8 557.5,793.7 559,793.7 560.5,793.7 562,793.7 563.5,793.7 565,793.7 566.5,793.6 568,793.6 569.5,793.6 571,793.6 572.5,793.6 574,793.6 575.5,793.6 577,793.5 578.5,793.5 580,793.5 581.5,793.5 583,793.5 584.5,793.5 586,793.5 587.5,793.4 589,793.4 590.5,793.4 592,793.4 593.5,793.4 595,793.4 596.5,793.3 598,793.3 599.5,793.3 601,793.3 602.5,793.3 604,793.3 605.5,793.2 607,793.2 608.5,793.2 610,793.2 611.5,793.2 613,793.2 614.5,793.1 616,793.1 617.5,793.1" fill="none" stroke="#0f57b8" stroke-width="1.9" stroke-linejoin="round" stroke-linecap="round"/>
</g>
<path d="M69.3 800.0V714.3H617.6" fill="none" stroke="#111" stroke-width="1.5" stroke-linejoin="miter"/>
<path d="M617.6 714.3V800.0" fill="none" stroke="#111" stroke-width="1.3"/>
<path d="M64 800.0H622.7" fill="none" stroke="#222" stroke-width="1.15"/>
<line x1="64" x2="69.3" y1="724.5" y2="724.5" stroke="#333" stroke-width="1"/>
<line x1="617.6" x2="622.7" y1="724.5" y2="724.5" stroke="#2a2a2a" stroke-width="1"/>
<text x="55.6" y="729" font-size="14.2" text-anchor="end">25</text>
<text x="631.2" y="729" font-size="14.2">25</text>
<line x1="64" x2="69.3" y1="749.7" y2="749.7" stroke="#333" stroke-width="1"/>
<line x1="617.6" x2="622.7" y1="749.7" y2="749.7" stroke="#2a2a2a" stroke-width="1"/>
<text x="55.6" y="754.2" font-size="14.2" text-anchor="end">0</text>
<text x="631.2" y="754.2" font-size="14.2">0</text>
<line x1="64" x2="69.3" y1="774.8" y2="774.8" stroke="#333" stroke-width="1"/>
<line x1="617.6" x2="622.7" y1="774.8" y2="774.8" stroke="#2a2a2a" stroke-width="1"/>
<text x="55.6" y="779.3" font-size="14.2" text-anchor="end">-25</text>
<text x="631.2" y="779.3" font-size="14.2">-25</text>
<line x1="64" x2="69.3" y1="800.0" y2="800.0" stroke="#333" stroke-width="1"/>
<line x1="617.6" x2="622.7" y1="800.0" y2="800.0" stroke="#2a2a2a" stroke-width="1"/>
<text x="55.6" y="804.5" font-size="14.2" text-anchor="end">-50</text>
<text x="631.2" y="804.5" font-size="14.2">-50</text>
<text x="80.0" y="730.3" font-size="14" textLength="12.4" lengthAdjust="spacingAndGlyphs">h)</text>
</g>
<line x1="75.1" x2="75.1" y1="5.3" y2="800" stroke="#5b9bd5" stroke-width="1.4" stroke-dasharray="10.3 4.1"/>
<line x1="115.6" x2="115.6" y1="5.3" y2="800" stroke="#3a7fcc" stroke-width="1.15" stroke-dasharray="10.3 4.1"/>
<line x1="327.0" x2="327.0" y1="2.1" y2="392.5" stroke="#5b9bd5" stroke-width="1.7" stroke-dasharray="10.3 4.1"/>
<line x1="478.2" x2="478.2" y1="1.3" y2="800" stroke="#4a8fd4" stroke-width="1.5" stroke-dasharray="10.3 4.1"/>
<rect x="114" y="10" width="26.9" height="5.8" fill="#2bdaf3"/>
<rect x="114.5" y="22.5" width="25.9" height="4.6" fill="#d8fdd8" stroke="#218a40" stroke-width="1.3"/>
<rect x="114" y="33.1" width="26.9" height="6.1" fill="#0aa8c0"/>
<line x1="113.5" x2="140.9" y1="47.6" y2="47.6" stroke="#0f57b8" stroke-width="1.6" stroke-linecap="round"/>
<text x="143.6" y="15.8" font-size="9.4">Reco</text>
<text x="143.6" y="27.3" font-size="9.4">GPP</text>
<text x="143.6" y="38.8" font-size="9.4">NEE</text>
<text x="143.6" y="50.3" font-size="9.4">cumulative NEE</text>
<text x="74.6" y="819.2" font-size="16.8" textLength="26.9" lengthAdjust="spacingAndGlyphs">Jan</text>
<text x="166" y="819.2" font-size="16.8" textLength="31.8" lengthAdjust="spacingAndGlyphs">Mar</text>
<text x="258.2" y="819.2" font-size="16.8" textLength="34.7" lengthAdjust="spacingAndGlyphs">May</text>
<text x="360.4" y="819.2" font-size="16.8" textLength="21.6" lengthAdjust="spacingAndGlyphs">Jul</text>
<text x="454.6" y="819.2" font-size="16.8" textLength="28.9" lengthAdjust="spacingAndGlyphs">Sep</text>
<text x="543" y="819.2" font-size="16.8" textLength="31.9" lengthAdjust="spacingAndGlyphs">Nov</text>
<g transform="translate(15.5,514.2) rotate(-90)">
<text x="-0.2" y="0" font-size="16.2" textLength="39" lengthAdjust="spacingAndGlyphs">Daily</text>
<text x="42.9" y="0" font-size="16.2" textLength="22.5" lengthAdjust="spacingAndGlyphs">CO</text>
<text x="65.9" y="4.2" font-size="11" textLength="6.5" lengthAdjust="spacingAndGlyphs">2</text>
<text x="76.4" y="0" font-size="16.2" textLength="29.6" lengthAdjust="spacingAndGlyphs">flux</text>
<text x="115.9" y="0" font-size="16.2" textLength="14.1" lengthAdjust="spacingAndGlyphs">[g</text>
<text x="133.8" y="0" font-size="16.2" textLength="22.8" lengthAdjust="spacingAndGlyphs">CO</text>
<text x="156.8" y="4.2" font-size="11" textLength="6.8" lengthAdjust="spacingAndGlyphs">2</text>
<text x="163.8" y="0" font-size="16.2" textLength="16.1" lengthAdjust="spacingAndGlyphs">-C</text>
<text x="184.7" y="0" font-size="16.2" textLength="14.1" lengthAdjust="spacingAndGlyphs">m</text>
<text x="199.3" y="-5.8" font-size="11" textLength="12.5" lengthAdjust="spacingAndGlyphs">−2</text>
<text x="214.8" y="0" font-size="16.2" textLength="9.1" lengthAdjust="spacingAndGlyphs">d</text>
<text x="225" y="-5.8" font-size="11" textLength="12.5" lengthAdjust="spacingAndGlyphs">−1</text>
<text x="238.4" y="0" font-size="16.2" textLength="5.2" lengthAdjust="spacingAndGlyphs">]</text>
</g>
<g transform="translate(669.4,240.9) rotate(90)">
<text x="-0.5" y="0" font-size="16.2" textLength="89.4" lengthAdjust="spacingAndGlyphs">Cumulative</text>
<text x="93.8" y="0" font-size="16.2" textLength="22.5" lengthAdjust="spacingAndGlyphs">CO</text>
<text x="116.5" y="4.3" font-size="11" textLength="6.2" lengthAdjust="spacingAndGlyphs">2</text>
<text x="126.5" y="0" font-size="16.2" textLength="30" lengthAdjust="spacingAndGlyphs">flux</text>
<text x="165.8" y="0" font-size="16.2" textLength="11.6" lengthAdjust="spacingAndGlyphs">[t</text>
<text x="182.5" y="0" font-size="16.2" textLength="22.6" lengthAdjust="spacingAndGlyphs">CO</text>
<text x="205.3" y="4.3" font-size="11" textLength="6.2" lengthAdjust="spacingAndGlyphs">2</text>
<text x="216.4" y="0" font-size="16.2" textLength="18.2" lengthAdjust="spacingAndGlyphs">ha</text>
<text x="235.8" y="-5.7" font-size="11" textLength="11.9" lengthAdjust="spacingAndGlyphs">−1</text>
<text x="250.6" y="0" font-size="16.2" textLength="15.7" lengthAdjust="spacingAndGlyphs">yr</text>
<text x="266.1" y="-5.7" font-size="11" textLength="13.5" lengthAdjust="spacingAndGlyphs">−1</text>
<text x="279.9" y="0" font-size="16.2" textLength="4.9" lengthAdjust="spacingAndGlyphs">]</text>
</g>
</svg>
</body></html>
